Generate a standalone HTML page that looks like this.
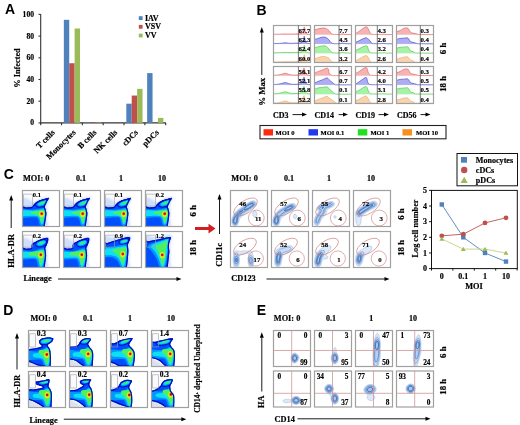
<!DOCTYPE html>
<html><head><meta charset="utf-8"><style>
html,body{margin:0;padding:0;background:#fff;width:520px;height:425px;overflow:hidden}
svg{display:block;will-change:transform}
</style></head><body>
<svg width="520" height="425" viewBox="0 0 520 425">
<defs>
<filter id="bl" x="-20%" y="-20%" width="140%" height="140%"><feGaussianBlur stdDeviation="0.6"/></filter>
<filter id="bl2" x="-20%" y="-20%" width="140%" height="140%"><feGaussianBlur stdDeviation="1.0"/></filter>
<filter id="bl3" x="-20%" y="-20%" width="140%" height="140%"><feGaussianBlur stdDeviation="0.7"/></filter>
<filter id="bl5" x="-30%" y="-30%" width="160%" height="160%"><feGaussianBlur stdDeviation="1.3"/></filter>
<filter id="bl4" x="-20%" y="-20%" width="140%" height="140%"><feGaussianBlur stdDeviation="0.35"/></filter>
</defs>
<rect width="520" height="425" fill="#fff"/>
<text x="4.9" y="13.9" font-size="14" text-anchor="start" style="font-family:'Liberation Sans',sans-serif;font-weight:bold" fill="#000">A</text>
<line x1="40.7" y1="14" x2="40.7" y2="123.5" stroke="#333" stroke-width="1.1"/>
<line x1="38.5" y1="122.9" x2="40.7" y2="122.9" stroke="#333" stroke-width="1.1"/>
<text x="34.0" y="125.4" font-size="7.6" text-anchor="end" style="font-family:'Liberation Serif',serif;font-weight:bold" fill="#000" stroke="#000" stroke-width="0.18">0</text>
<line x1="38.5" y1="101.2" x2="40.7" y2="101.2" stroke="#333" stroke-width="1.1"/>
<text x="34.0" y="103.7" font-size="7.6" text-anchor="end" style="font-family:'Liberation Serif',serif;font-weight:bold" fill="#000" stroke="#000" stroke-width="0.18">20</text>
<line x1="38.5" y1="79.5" x2="40.7" y2="79.5" stroke="#333" stroke-width="1.1"/>
<text x="34.0" y="82.0" font-size="7.6" text-anchor="end" style="font-family:'Liberation Serif',serif;font-weight:bold" fill="#000" stroke="#000" stroke-width="0.18">40</text>
<line x1="38.5" y1="57.80000000000001" x2="40.7" y2="57.80000000000001" stroke="#333" stroke-width="1.1"/>
<text x="34.0" y="60.30000000000001" font-size="7.6" text-anchor="end" style="font-family:'Liberation Serif',serif;font-weight:bold" fill="#000" stroke="#000" stroke-width="0.18">60</text>
<line x1="38.5" y1="36.10000000000001" x2="40.7" y2="36.10000000000001" stroke="#333" stroke-width="1.1"/>
<text x="34.0" y="38.60000000000001" font-size="7.6" text-anchor="end" style="font-family:'Liberation Serif',serif;font-weight:bold" fill="#000" stroke="#000" stroke-width="0.18">80</text>
<line x1="38.5" y1="14.400000000000006" x2="40.7" y2="14.400000000000006" stroke="#333" stroke-width="1.1"/>
<text x="34.0" y="16.900000000000006" font-size="7.6" text-anchor="end" style="font-family:'Liberation Serif',serif;font-weight:bold" fill="#000" stroke="#000" stroke-width="0.18">100</text>
<text x="19.5" y="68" font-size="8.3" text-anchor="middle" style="font-family:'Liberation Serif',serif;font-weight:bold" fill="#000" stroke="#000" stroke-width="0.18" transform="rotate(-90 19.5 68)">% Infected</text>
<line x1="40.2" y1="122.9" x2="166" y2="122.9" stroke="#333" stroke-width="1.2"/>
<line x1="40.7" y1="122.9" x2="40.7" y2="125.2" stroke="#333" stroke-width="1.1"/>
<line x1="61.53" y1="122.9" x2="61.53" y2="125.2" stroke="#333" stroke-width="1.1"/>
<line x1="82.36" y1="122.9" x2="82.36" y2="125.2" stroke="#333" stroke-width="1.1"/>
<line x1="103.19" y1="122.9" x2="103.19" y2="125.2" stroke="#333" stroke-width="1.1"/>
<line x1="124.02" y1="122.9" x2="124.02" y2="125.2" stroke="#333" stroke-width="1.1"/>
<line x1="144.85" y1="122.9" x2="144.85" y2="125.2" stroke="#333" stroke-width="1.1"/>
<line x1="165.68" y1="122.9" x2="165.68" y2="125.2" stroke="#333" stroke-width="1.1"/>
<rect x="63.83" y="19.825000000000003" width="5.4" height="103.075" fill="#4f81bd" stroke="none" stroke-width="1"/>
<rect x="69.23" y="63.22500000000001" width="5.4" height="59.675" fill="#c0504d" stroke="none" stroke-width="1"/>
<rect x="74.63" y="28.50500000000001" width="5.4" height="94.395" fill="#9bbb59" stroke="none" stroke-width="1"/>
<rect x="84.66" y="122.1405" width="5.4" height="0.7595" fill="#4f81bd" stroke="none" stroke-width="1"/>
<rect x="90.06" y="122.46600000000001" width="5.4" height="0.434" fill="#c0504d" stroke="none" stroke-width="1"/>
<rect x="95.46" y="122.46600000000001" width="5.4" height="0.434" fill="#9bbb59" stroke="none" stroke-width="1"/>
<rect x="126.32" y="103.69550000000001" width="5.4" height="19.2045" fill="#4f81bd" stroke="none" stroke-width="1"/>
<rect x="131.72" y="95.558" width="5.4" height="27.342" fill="#c0504d" stroke="none" stroke-width="1"/>
<rect x="137.12" y="88.83100000000002" width="5.4" height="34.068999999999996" fill="#9bbb59" stroke="none" stroke-width="1"/>
<rect x="147.15" y="73.0985" width="5.4" height="49.8015" fill="#4f81bd" stroke="none" stroke-width="1"/>
<rect x="157.95000000000002" y="117.909" width="5.4" height="4.991" fill="#9bbb59" stroke="none" stroke-width="1"/>
<text x="55.315000000000005" y="133.1" font-size="8.2" text-anchor="end" style="font-family:'Liberation Serif',serif;font-weight:bold" fill="#000" stroke="#000" stroke-width="0.18" transform="rotate(-45 55.315000000000005 133.1)">T cells</text>
<text x="76.145" y="133.1" font-size="8.2" text-anchor="end" style="font-family:'Liberation Serif',serif;font-weight:bold" fill="#000" stroke="#000" stroke-width="0.18" transform="rotate(-45 76.145 133.1)">Monocytes</text>
<text x="96.97500000000001" y="133.1" font-size="8.2" text-anchor="end" style="font-family:'Liberation Serif',serif;font-weight:bold" fill="#000" stroke="#000" stroke-width="0.18" transform="rotate(-45 96.97500000000001 133.1)">B cells</text>
<text x="117.80499999999999" y="133.1" font-size="8.2" text-anchor="end" style="font-family:'Liberation Serif',serif;font-weight:bold" fill="#000" stroke="#000" stroke-width="0.18" transform="rotate(-45 117.80499999999999 133.1)">NK cells</text>
<text x="138.635" y="133.1" font-size="8.2" text-anchor="end" style="font-family:'Liberation Serif',serif;font-weight:bold" fill="#000" stroke="#000" stroke-width="0.18" transform="rotate(-45 138.635 133.1)">cDCs</text>
<text x="159.46499999999997" y="133.1" font-size="8.2" text-anchor="end" style="font-family:'Liberation Serif',serif;font-weight:bold" fill="#000" stroke="#000" stroke-width="0.18" transform="rotate(-45 159.46499999999997 133.1)">pDCs</text>
<rect x="138.8" y="16.2" width="3.8" height="3.8" fill="#4f81bd" stroke="none" stroke-width="1"/>
<text x="145" y="20.7" font-size="8" text-anchor="start" style="font-family:'Liberation Serif',serif;font-weight:bold" fill="#000" stroke="#000" stroke-width="0.18">IAV</text>
<rect x="138.8" y="24.9" width="3.8" height="3.8" fill="#c0504d" stroke="none" stroke-width="1"/>
<text x="145" y="29.4" font-size="8" text-anchor="start" style="font-family:'Liberation Serif',serif;font-weight:bold" fill="#000" stroke="#000" stroke-width="0.18">VSV</text>
<rect x="138.8" y="33.599999999999994" width="3.8" height="3.8" fill="#9bbb59" stroke="none" stroke-width="1"/>
<text x="145" y="38.099999999999994" font-size="8" text-anchor="start" style="font-family:'Liberation Serif',serif;font-weight:bold" fill="#000" stroke="#000" stroke-width="0.18">VV</text>
<text x="256.5" y="14.8" font-size="14" text-anchor="start" style="font-family:'Liberation Sans',sans-serif;font-weight:bold" fill="#000">B</text>
<line x1="261.8" y1="32.0" x2="261.8" y2="75" stroke="#000" stroke-width="0.9"/>
<path d="M261.8,27 L259.8,32.5 L263.8,32.5 Z" fill="#000"/>
<text x="264.6" y="91.8" font-size="8.8" text-anchor="middle" style="font-family:'Liberation Serif',serif;font-weight:bold" fill="#000" stroke="#000" stroke-width="0.18" transform="rotate(-90 264.6 91.8)">% Max</text>
<path d="M273.50,34.26 C274.50,34.24 277.50,34.23 279.50,34.17 C281.50,34.12 283.83,33.94 285.50,33.92 C287.17,33.91 287.83,34.09 289.50,34.09 C291.17,34.09 293.83,33.98 295.50,33.92 C297.17,33.87 298.42,33.90 299.50,33.76 C300.58,33.62 301.33,33.69 302.00,33.10 C302.67,32.51 303.12,31.24 303.50,30.21 C303.88,29.18 304.00,26.71 304.30,26.91 C304.60,27.12 304.93,30.31 305.30,31.45 C305.67,32.59 305.72,33.27 306.50,33.76 C307.28,34.25 309.42,34.31 310.00,34.42  L310.00,34.75 L273.50,34.75 Z" fill="#f4a0a0" fill-opacity="0.8"/>
<path d="M273.50,34.26 C274.50,34.24 277.50,34.23 279.50,34.17 C281.50,34.12 283.83,33.94 285.50,33.92 C287.17,33.91 287.83,34.09 289.50,34.09 C291.17,34.09 293.83,33.98 295.50,33.92 C297.17,33.87 298.42,33.90 299.50,33.76 C300.58,33.62 301.33,33.69 302.00,33.10 C302.67,32.51 303.12,31.24 303.50,30.21 C303.88,29.18 304.00,26.71 304.30,26.91 C304.60,27.12 304.93,30.31 305.30,31.45 C305.67,32.59 305.72,33.27 306.50,33.76 C307.28,34.25 309.42,34.31 310.00,34.42 " fill="none" stroke="#e05050" stroke-width="0.6"/>
<path d="M273.50,43.51 C274.50,43.49 277.50,43.53 279.50,43.42 C281.50,43.31 283.83,42.86 285.50,42.84 C287.17,42.83 287.83,43.29 289.50,43.34 C291.17,43.40 293.83,43.23 295.50,43.17 C297.17,43.12 298.42,43.15 299.50,43.01 C300.58,42.87 301.33,42.94 302.00,42.35 C302.67,41.76 303.12,40.49 303.50,39.46 C303.88,38.43 304.00,35.96 304.30,36.16 C304.60,36.37 304.93,39.56 305.30,40.70 C305.67,41.84 305.72,42.52 306.50,43.01 C307.28,43.50 309.42,43.56 310.00,43.67  L310.00,44.00 L273.50,44.00 Z" fill="#9898f0" fill-opacity="0.8"/>
<path d="M273.50,43.51 C274.50,43.49 277.50,43.53 279.50,43.42 C281.50,43.31 283.83,42.86 285.50,42.84 C287.17,42.83 287.83,43.29 289.50,43.34 C291.17,43.40 293.83,43.23 295.50,43.17 C297.17,43.12 298.42,43.15 299.50,43.01 C300.58,42.87 301.33,42.94 302.00,42.35 C302.67,41.76 303.12,40.49 303.50,39.46 C303.88,38.43 304.00,35.96 304.30,36.16 C304.60,36.37 304.93,39.56 305.30,40.70 C305.67,41.84 305.72,42.52 306.50,43.01 C307.28,43.50 309.42,43.56 310.00,43.67 " fill="none" stroke="#3838c8" stroke-width="0.6"/>
<path d="M273.50,52.76 C274.50,52.74 277.50,52.73 279.50,52.67 C281.50,52.62 283.83,52.44 285.50,52.42 C287.17,52.41 287.83,52.59 289.50,52.59 C291.17,52.59 293.83,52.48 295.50,52.42 C297.17,52.37 298.42,52.40 299.50,52.26 C300.58,52.12 301.33,52.19 302.00,51.60 C302.67,51.01 303.12,49.74 303.50,48.71 C303.88,47.68 304.00,45.21 304.30,45.41 C304.60,45.62 304.93,48.81 305.30,49.95 C305.67,51.09 305.72,51.77 306.50,52.26 C307.28,52.75 309.42,52.81 310.00,52.92  L310.00,53.25 L273.50,53.25 Z" fill="#90f090" fill-opacity="0.8"/>
<path d="M273.50,52.76 C274.50,52.74 277.50,52.73 279.50,52.67 C281.50,52.62 283.83,52.44 285.50,52.42 C287.17,52.41 287.83,52.59 289.50,52.59 C291.17,52.59 293.83,52.48 295.50,52.42 C297.17,52.37 298.42,52.40 299.50,52.26 C300.58,52.12 301.33,52.19 302.00,51.60 C302.67,51.01 303.12,49.74 303.50,48.71 C303.88,47.68 304.00,45.21 304.30,45.41 C304.60,45.62 304.93,48.81 305.30,49.95 C305.67,51.09 305.72,51.77 306.50,52.26 C307.28,52.75 309.42,52.81 310.00,52.92 " fill="none" stroke="#40c040" stroke-width="0.6"/>
<path d="M273.50,62.01 C274.50,61.99 277.50,61.98 279.50,61.92 C281.50,61.87 283.83,61.69 285.50,61.67 C287.17,61.66 287.83,61.84 289.50,61.84 C291.17,61.84 293.83,61.73 295.50,61.67 C297.17,61.62 298.42,61.65 299.50,61.51 C300.58,61.37 301.33,61.44 302.00,60.85 C302.67,60.26 303.12,58.99 303.50,57.96 C303.88,56.93 304.00,54.46 304.30,54.66 C304.60,54.87 304.93,58.06 305.30,59.20 C305.67,60.34 305.72,61.02 306.50,61.51 C307.28,62.00 309.42,62.06 310.00,62.17  L310.00,62.50 L273.50,62.50 Z" fill="#f8c898" fill-opacity="0.8"/>
<path d="M273.50,62.01 C274.50,61.99 277.50,61.98 279.50,61.92 C281.50,61.87 283.83,61.69 285.50,61.67 C287.17,61.66 287.83,61.84 289.50,61.84 C291.17,61.84 293.83,61.73 295.50,61.67 C297.17,61.62 298.42,61.65 299.50,61.51 C300.58,61.37 301.33,61.44 302.00,60.85 C302.67,60.26 303.12,58.99 303.50,57.96 C303.88,56.93 304.00,54.46 304.30,54.66 C304.60,54.87 304.93,58.06 305.30,59.20 C305.67,60.34 305.72,61.02 306.50,61.51 C307.28,62.00 309.42,62.06 310.00,62.17 " fill="none" stroke="#e8a060" stroke-width="0.6"/>
<line x1="273.5" y1="34.75" x2="298.4" y2="34.75" stroke="#ddd" stroke-width="0.3"/>
<line x1="273.5" y1="44.0" x2="298.4" y2="44.0" stroke="#ddd" stroke-width="0.3"/>
<line x1="273.5" y1="53.25" x2="298.4" y2="53.25" stroke="#ddd" stroke-width="0.3"/>
<text x="298.5" y="32.75" font-size="6.8" text-anchor="start" style="font-family:'Liberation Serif',serif;font-weight:bold" fill="#000" stroke="#000" stroke-width="0.18">67.7</text>
<text x="298.5" y="42.0" font-size="6.8" text-anchor="start" style="font-family:'Liberation Serif',serif;font-weight:bold" fill="#000" stroke="#000" stroke-width="0.18">62.3</text>
<text x="298.5" y="51.25" font-size="6.8" text-anchor="start" style="font-family:'Liberation Serif',serif;font-weight:bold" fill="#000" stroke="#000" stroke-width="0.18">62.4</text>
<text x="298.5" y="60.5" font-size="6.8" text-anchor="start" style="font-family:'Liberation Serif',serif;font-weight:bold" fill="#000" stroke="#000" stroke-width="0.18">60.0</text>
<rect x="273.5" y="25.5" width="37" height="37" fill="none" stroke="#a0a0a0" stroke-width="1.2"/>
<line x1="298.4" y1="25.5" x2="298.4" y2="62.5" stroke="#555" stroke-width="0.8"/>
<path d="M273.50,75.25 C274.33,75.20 277.00,75.14 278.50,74.92 C280.00,74.70 281.33,74.21 282.50,73.94 C283.67,73.66 284.50,73.22 285.50,73.28 C286.50,73.33 287.33,73.96 288.50,74.27 C289.67,74.57 291.00,74.98 292.50,75.09 C294.00,75.20 296.17,75.02 297.50,74.92 C298.83,74.83 299.67,74.99 300.50,74.51 C301.33,74.03 301.92,73.14 302.50,72.04 C303.08,70.94 303.53,67.84 304.00,67.91 C304.47,67.98 304.80,71.28 305.30,72.45 C305.80,73.62 306.22,74.43 307.00,74.92 C307.78,75.42 309.50,75.34 310.00,75.42  L310.00,75.75 L273.50,75.75 Z" fill="#f4a0a0" fill-opacity="0.8"/>
<path d="M273.50,75.25 C274.33,75.20 277.00,75.14 278.50,74.92 C280.00,74.70 281.33,74.21 282.50,73.94 C283.67,73.66 284.50,73.22 285.50,73.28 C286.50,73.33 287.33,73.96 288.50,74.27 C289.67,74.57 291.00,74.98 292.50,75.09 C294.00,75.20 296.17,75.02 297.50,74.92 C298.83,74.83 299.67,74.99 300.50,74.51 C301.33,74.03 301.92,73.14 302.50,72.04 C303.08,70.94 303.53,67.84 304.00,67.91 C304.47,67.98 304.80,71.28 305.30,72.45 C305.80,73.62 306.22,74.43 307.00,74.92 C307.78,75.42 309.50,75.34 310.00,75.42 " fill="none" stroke="#e05050" stroke-width="0.6"/>
<path d="M273.50,84.50 C274.33,84.45 277.00,84.39 278.50,84.17 C280.00,83.95 281.33,83.46 282.50,83.19 C283.67,82.91 284.50,82.47 285.50,82.53 C286.50,82.58 287.33,83.21 288.50,83.52 C289.67,83.82 291.00,84.23 292.50,84.34 C294.00,84.45 296.17,84.27 297.50,84.17 C298.83,84.08 299.67,84.24 300.50,83.76 C301.33,83.28 301.92,82.39 302.50,81.29 C303.08,80.19 303.53,77.09 304.00,77.16 C304.47,77.23 304.80,80.53 305.30,81.70 C305.80,82.87 306.22,83.68 307.00,84.17 C307.78,84.67 309.50,84.59 310.00,84.67  L310.00,85.00 L273.50,85.00 Z" fill="#9898f0" fill-opacity="0.8"/>
<path d="M273.50,84.50 C274.33,84.45 277.00,84.39 278.50,84.17 C280.00,83.95 281.33,83.46 282.50,83.19 C283.67,82.91 284.50,82.47 285.50,82.53 C286.50,82.58 287.33,83.21 288.50,83.52 C289.67,83.82 291.00,84.23 292.50,84.34 C294.00,84.45 296.17,84.27 297.50,84.17 C298.83,84.08 299.67,84.24 300.50,83.76 C301.33,83.28 301.92,82.39 302.50,81.29 C303.08,80.19 303.53,77.09 304.00,77.16 C304.47,77.23 304.80,80.53 305.30,81.70 C305.80,82.87 306.22,83.68 307.00,84.17 C307.78,84.67 309.50,84.59 310.00,84.67 " fill="none" stroke="#3838c8" stroke-width="0.6"/>
<path d="M273.50,93.75 C274.33,93.70 277.00,93.64 278.50,93.42 C280.00,93.20 281.33,92.71 282.50,92.44 C283.67,92.16 284.50,91.72 285.50,91.78 C286.50,91.83 287.33,92.46 288.50,92.77 C289.67,93.07 291.00,93.48 292.50,93.59 C294.00,93.70 296.17,93.52 297.50,93.42 C298.83,93.33 299.67,93.49 300.50,93.01 C301.33,92.53 301.92,91.64 302.50,90.54 C303.08,89.44 303.53,86.34 304.00,86.41 C304.47,86.48 304.80,89.78 305.30,90.95 C305.80,92.12 306.22,92.93 307.00,93.42 C307.78,93.92 309.50,93.84 310.00,93.92  L310.00,94.25 L273.50,94.25 Z" fill="#90f090" fill-opacity="0.8"/>
<path d="M273.50,93.75 C274.33,93.70 277.00,93.64 278.50,93.42 C280.00,93.20 281.33,92.71 282.50,92.44 C283.67,92.16 284.50,91.72 285.50,91.78 C286.50,91.83 287.33,92.46 288.50,92.77 C289.67,93.07 291.00,93.48 292.50,93.59 C294.00,93.70 296.17,93.52 297.50,93.42 C298.83,93.33 299.67,93.49 300.50,93.01 C301.33,92.53 301.92,91.64 302.50,90.54 C303.08,89.44 303.53,86.34 304.00,86.41 C304.47,86.48 304.80,89.78 305.30,90.95 C305.80,92.12 306.22,92.93 307.00,93.42 C307.78,93.92 309.50,93.84 310.00,93.92 " fill="none" stroke="#40c040" stroke-width="0.6"/>
<path d="M273.50,103.00 C274.33,102.95 277.00,102.89 278.50,102.67 C280.00,102.45 281.33,101.96 282.50,101.69 C283.67,101.41 284.50,100.97 285.50,101.03 C286.50,101.08 287.33,101.71 288.50,102.02 C289.67,102.32 291.00,102.73 292.50,102.84 C294.00,102.95 296.17,102.77 297.50,102.67 C298.83,102.58 299.67,102.74 300.50,102.26 C301.33,101.78 301.92,100.89 302.50,99.79 C303.08,98.69 303.53,95.59 304.00,95.66 C304.47,95.73 304.80,99.03 305.30,100.20 C305.80,101.37 306.22,102.18 307.00,102.67 C307.78,103.17 309.50,103.09 310.00,103.17  L310.00,103.50 L273.50,103.50 Z" fill="#f8c898" fill-opacity="0.8"/>
<path d="M273.50,103.00 C274.33,102.95 277.00,102.89 278.50,102.67 C280.00,102.45 281.33,101.96 282.50,101.69 C283.67,101.41 284.50,100.97 285.50,101.03 C286.50,101.08 287.33,101.71 288.50,102.02 C289.67,102.32 291.00,102.73 292.50,102.84 C294.00,102.95 296.17,102.77 297.50,102.67 C298.83,102.58 299.67,102.74 300.50,102.26 C301.33,101.78 301.92,100.89 302.50,99.79 C303.08,98.69 303.53,95.59 304.00,95.66 C304.47,95.73 304.80,99.03 305.30,100.20 C305.80,101.37 306.22,102.18 307.00,102.67 C307.78,103.17 309.50,103.09 310.00,103.17 " fill="none" stroke="#e8a060" stroke-width="0.6"/>
<line x1="273.5" y1="75.75" x2="298.4" y2="75.75" stroke="#ddd" stroke-width="0.3"/>
<line x1="273.5" y1="85.0" x2="298.4" y2="85.0" stroke="#ddd" stroke-width="0.3"/>
<line x1="273.5" y1="94.25" x2="298.4" y2="94.25" stroke="#ddd" stroke-width="0.3"/>
<text x="298.5" y="73.75" font-size="6.8" text-anchor="start" style="font-family:'Liberation Serif',serif;font-weight:bold" fill="#000" stroke="#000" stroke-width="0.18">56.1</text>
<text x="298.5" y="83.0" font-size="6.8" text-anchor="start" style="font-family:'Liberation Serif',serif;font-weight:bold" fill="#000" stroke="#000" stroke-width="0.18">52.1</text>
<text x="298.5" y="92.25" font-size="6.8" text-anchor="start" style="font-family:'Liberation Serif',serif;font-weight:bold" fill="#000" stroke="#000" stroke-width="0.18">55.8</text>
<text x="298.5" y="101.5" font-size="6.8" text-anchor="start" style="font-family:'Liberation Serif',serif;font-weight:bold" fill="#000" stroke="#000" stroke-width="0.18">52.2</text>
<rect x="273.5" y="66.5" width="37" height="37" fill="none" stroke="#a0a0a0" stroke-width="1.2"/>
<line x1="298.4" y1="66.5" x2="298.4" y2="103.5" stroke="#555" stroke-width="0.8"/>
<path d="M314.50,29.72 C315.00,29.61 316.42,29.29 317.50,29.06 C318.58,28.82 319.92,28.49 321.00,28.32 C322.08,28.14 323.08,27.93 324.00,27.98 C324.92,28.04 325.67,28.20 326.50,28.64 C327.33,29.09 328.25,29.86 329.00,30.62 C329.75,31.39 330.33,32.65 331.00,33.27 C331.67,33.88 332.08,34.13 333.00,34.34 C333.92,34.54 335.25,34.50 336.50,34.50 C337.75,34.50 339.50,34.46 340.50,34.34 C341.50,34.21 341.83,33.76 342.50,33.76 C343.17,33.76 343.08,34.20 344.50,34.34 C345.92,34.48 349.92,34.54 351.00,34.59  L351.00,34.75 L314.50,34.75 Z" fill="#f4a0a0" fill-opacity="0.8"/>
<path d="M314.50,29.72 C315.00,29.61 316.42,29.29 317.50,29.06 C318.58,28.82 319.92,28.49 321.00,28.32 C322.08,28.14 323.08,27.93 324.00,27.98 C324.92,28.04 325.67,28.20 326.50,28.64 C327.33,29.09 328.25,29.86 329.00,30.62 C329.75,31.39 330.33,32.65 331.00,33.27 C331.67,33.88 332.08,34.13 333.00,34.34 C333.92,34.54 335.25,34.50 336.50,34.50 C337.75,34.50 339.50,34.46 340.50,34.34 C341.50,34.21 341.83,33.76 342.50,33.76 C343.17,33.76 343.08,34.20 344.50,34.34 C345.92,34.48 349.92,34.54 351.00,34.59 " fill="none" stroke="#e05050" stroke-width="0.6"/>
<path d="M314.50,39.30 C315.00,39.19 316.42,38.95 317.50,38.64 C318.58,38.32 319.92,37.66 321.00,37.40 C322.08,37.14 323.08,37.02 324.00,37.07 C324.92,37.12 325.67,37.26 326.50,37.73 C327.33,38.20 328.25,39.08 329.00,39.88 C329.75,40.67 330.33,41.90 331.00,42.52 C331.67,43.13 332.08,43.38 333.00,43.59 C333.92,43.79 335.25,43.75 336.50,43.75 C337.75,43.75 339.50,43.71 340.50,43.59 C341.50,43.46 341.83,43.01 342.50,43.01 C343.17,43.01 343.08,43.45 344.50,43.59 C345.92,43.73 349.92,43.79 351.00,43.84  L351.00,44.00 L314.50,44.00 Z" fill="#9898f0" fill-opacity="0.8"/>
<path d="M314.50,39.30 C315.00,39.19 316.42,38.95 317.50,38.64 C318.58,38.32 319.92,37.66 321.00,37.40 C322.08,37.14 323.08,37.02 324.00,37.07 C324.92,37.12 325.67,37.26 326.50,37.73 C327.33,38.20 328.25,39.08 329.00,39.88 C329.75,40.67 330.33,41.90 331.00,42.52 C331.67,43.13 332.08,43.38 333.00,43.59 C333.92,43.79 335.25,43.75 336.50,43.75 C337.75,43.75 339.50,43.71 340.50,43.59 C341.50,43.46 341.83,43.01 342.50,43.01 C343.17,43.01 343.08,43.45 344.50,43.59 C345.92,43.73 349.92,43.79 351.00,43.84 " fill="none" stroke="#3838c8" stroke-width="0.6"/>
<path d="M314.50,47.64 C315.00,47.53 316.42,47.23 317.50,46.98 C318.58,46.73 319.92,46.35 321.00,46.16 C322.08,45.96 323.08,45.77 324.00,45.83 C324.92,45.88 325.67,45.94 326.50,46.48 C327.33,47.03 328.25,48.24 329.00,49.12 C329.75,50.01 330.33,51.15 331.00,51.77 C331.67,52.38 332.08,52.63 333.00,52.84 C333.92,53.04 335.25,53.00 336.50,53.00 C337.75,53.00 339.50,52.96 340.50,52.84 C341.50,52.71 341.83,52.26 342.50,52.26 C343.17,52.26 343.08,52.70 344.50,52.84 C345.92,52.98 349.92,53.04 351.00,53.09  L351.00,53.25 L314.50,53.25 Z" fill="#90f090" fill-opacity="0.8"/>
<path d="M314.50,47.64 C315.00,47.53 316.42,47.23 317.50,46.98 C318.58,46.73 319.92,46.35 321.00,46.16 C322.08,45.96 323.08,45.77 324.00,45.83 C324.92,45.88 325.67,45.94 326.50,46.48 C327.33,47.03 328.25,48.24 329.00,49.12 C329.75,50.01 330.33,51.15 331.00,51.77 C331.67,52.38 332.08,52.63 333.00,52.84 C333.92,53.04 335.25,53.00 336.50,53.00 C337.75,53.00 339.50,52.96 340.50,52.84 C341.50,52.71 341.83,52.26 342.50,52.26 C343.17,52.26 343.08,52.70 344.50,52.84 C345.92,52.98 349.92,53.04 351.00,53.09 " fill="none" stroke="#40c040" stroke-width="0.6"/>
<path d="M314.50,58.54 C315.00,58.43 316.42,58.18 317.50,57.88 C318.58,57.58 319.92,56.97 321.00,56.73 C322.08,56.48 323.08,56.34 324.00,56.40 C324.92,56.45 325.67,56.73 326.50,57.05 C327.33,57.38 328.25,57.72 329.00,58.38 C329.75,59.03 330.33,60.40 331.00,61.02 C331.67,61.63 332.08,61.88 333.00,62.09 C333.92,62.29 335.25,62.25 336.50,62.25 C337.75,62.25 339.50,62.21 340.50,62.09 C341.50,61.96 341.83,61.51 342.50,61.51 C343.17,61.51 343.08,61.95 344.50,62.09 C345.92,62.23 349.92,62.29 351.00,62.34  L351.00,62.50 L314.50,62.50 Z" fill="#f8c898" fill-opacity="0.8"/>
<path d="M314.50,58.54 C315.00,58.43 316.42,58.18 317.50,57.88 C318.58,57.58 319.92,56.97 321.00,56.73 C322.08,56.48 323.08,56.34 324.00,56.40 C324.92,56.45 325.67,56.73 326.50,57.05 C327.33,57.38 328.25,57.72 329.00,58.38 C329.75,59.03 330.33,60.40 331.00,61.02 C331.67,61.63 332.08,61.88 333.00,62.09 C333.92,62.29 335.25,62.25 336.50,62.25 C337.75,62.25 339.50,62.21 340.50,62.09 C341.50,61.96 341.83,61.51 342.50,61.51 C343.17,61.51 343.08,61.95 344.50,62.09 C345.92,62.23 349.92,62.29 351.00,62.34 " fill="none" stroke="#e8a060" stroke-width="0.6"/>
<line x1="314.5" y1="34.75" x2="339.0" y2="34.75" stroke="#ddd" stroke-width="0.3"/>
<line x1="314.5" y1="44.0" x2="339.0" y2="44.0" stroke="#ddd" stroke-width="0.3"/>
<line x1="314.5" y1="53.25" x2="339.0" y2="53.25" stroke="#ddd" stroke-width="0.3"/>
<text x="339.1" y="32.75" font-size="6.8" text-anchor="start" style="font-family:'Liberation Serif',serif;font-weight:bold" fill="#000" stroke="#000" stroke-width="0.18">7.7</text>
<text x="339.1" y="42.0" font-size="6.8" text-anchor="start" style="font-family:'Liberation Serif',serif;font-weight:bold" fill="#000" stroke="#000" stroke-width="0.18">4.5</text>
<text x="339.1" y="51.25" font-size="6.8" text-anchor="start" style="font-family:'Liberation Serif',serif;font-weight:bold" fill="#000" stroke="#000" stroke-width="0.18">3.6</text>
<text x="339.1" y="60.5" font-size="6.8" text-anchor="start" style="font-family:'Liberation Serif',serif;font-weight:bold" fill="#000" stroke="#000" stroke-width="0.18">3.2</text>
<rect x="314.5" y="25.5" width="37" height="37" fill="none" stroke="#a0a0a0" stroke-width="1.2"/>
<line x1="339.0" y1="25.5" x2="339.0" y2="62.5" stroke="#555" stroke-width="0.8"/>
<path d="M314.50,73.03 C315.17,72.75 317.17,71.89 318.50,71.38 C319.83,70.86 321.12,70.47 322.50,69.93 C323.88,69.40 325.80,68.25 326.80,68.16 C327.80,68.07 328.10,68.54 328.50,69.40 C328.90,70.25 328.58,72.27 329.20,73.28 C329.82,74.28 331.20,75.03 332.20,75.42 C333.20,75.81 332.07,75.54 335.20,75.58 C338.33,75.63 348.37,75.65 351.00,75.67  L351.00,75.75 L314.50,75.75 Z" fill="#f4a0a0" fill-opacity="0.8"/>
<path d="M314.50,73.03 C315.17,72.75 317.17,71.89 318.50,71.38 C319.83,70.86 321.12,70.47 322.50,69.93 C323.88,69.40 325.80,68.25 326.80,68.16 C327.80,68.07 328.10,68.54 328.50,69.40 C328.90,70.25 328.58,72.27 329.20,73.28 C329.82,74.28 331.20,75.03 332.20,75.42 C333.20,75.81 332.07,75.54 335.20,75.58 C338.33,75.63 348.37,75.65 351.00,75.67 " fill="none" stroke="#e05050" stroke-width="0.6"/>
<path d="M314.50,82.94 C315.17,82.66 317.17,81.82 318.50,81.29 C319.83,80.76 321.12,80.33 322.50,79.76 C323.88,79.20 325.80,78.01 326.80,77.91 C327.80,77.80 327.58,78.37 328.50,79.14 C329.42,79.91 331.17,81.60 332.30,82.53 C333.43,83.45 334.30,84.28 335.30,84.67 C336.30,85.06 335.68,84.79 338.30,84.83 C340.92,84.88 348.88,84.90 351.00,84.92  L351.00,85.00 L314.50,85.00 Z" fill="#9898f0" fill-opacity="0.8"/>
<path d="M314.50,82.94 C315.17,82.66 317.17,81.82 318.50,81.29 C319.83,80.76 321.12,80.33 322.50,79.76 C323.88,79.20 325.80,78.01 326.80,77.91 C327.80,77.80 327.58,78.37 328.50,79.14 C329.42,79.91 331.17,81.60 332.30,82.53 C333.43,83.45 334.30,84.28 335.30,84.67 C336.30,85.06 335.68,84.79 338.30,84.83 C340.92,84.88 348.88,84.90 351.00,84.92 " fill="none" stroke="#3838c8" stroke-width="0.6"/>
<path d="M314.50,89.47 C315.17,89.19 317.17,88.14 318.50,87.81 C319.83,87.48 321.12,87.65 322.50,87.48 C323.88,87.32 325.80,86.73 326.80,86.83 C327.80,86.92 327.58,87.24 328.50,88.06 C329.42,88.89 331.17,90.80 332.30,91.78 C333.43,92.75 334.30,93.53 335.30,93.92 C336.30,94.31 335.68,94.04 338.30,94.08 C340.92,94.13 348.88,94.15 351.00,94.17  L351.00,94.25 L314.50,94.25 Z" fill="#90f090" fill-opacity="0.8"/>
<path d="M314.50,89.47 C315.17,89.19 317.17,88.14 318.50,87.81 C319.83,87.48 321.12,87.65 322.50,87.48 C323.88,87.32 325.80,86.73 326.80,86.83 C327.80,86.92 327.58,87.24 328.50,88.06 C329.42,88.89 331.17,90.80 332.30,91.78 C333.43,92.75 334.30,93.53 335.30,93.92 C336.30,94.31 335.68,94.04 338.30,94.08 C340.92,94.13 348.88,94.15 351.00,94.17 " fill="none" stroke="#40c040" stroke-width="0.6"/>
<path d="M314.50,101.03 C315.17,100.75 317.17,99.88 318.50,99.38 C319.83,98.87 321.12,98.50 322.50,97.97 C323.88,97.45 325.80,96.32 326.80,96.24 C327.80,96.16 327.38,96.68 328.50,97.48 C329.62,98.28 332.17,100.08 333.50,101.03 C334.83,101.97 335.50,102.78 336.50,103.17 C337.50,103.56 337.08,103.29 339.50,103.33 C341.92,103.38 349.08,103.40 351.00,103.42  L351.00,103.50 L314.50,103.50 Z" fill="#f8c898" fill-opacity="0.8"/>
<path d="M314.50,101.03 C315.17,100.75 317.17,99.88 318.50,99.38 C319.83,98.87 321.12,98.50 322.50,97.97 C323.88,97.45 325.80,96.32 326.80,96.24 C327.80,96.16 327.38,96.68 328.50,97.48 C329.62,98.28 332.17,100.08 333.50,101.03 C334.83,101.97 335.50,102.78 336.50,103.17 C337.50,103.56 337.08,103.29 339.50,103.33 C341.92,103.38 349.08,103.40 351.00,103.42 " fill="none" stroke="#e8a060" stroke-width="0.6"/>
<line x1="314.5" y1="75.75" x2="339.0" y2="75.75" stroke="#ddd" stroke-width="0.3"/>
<line x1="314.5" y1="85.0" x2="339.0" y2="85.0" stroke="#ddd" stroke-width="0.3"/>
<line x1="314.5" y1="94.25" x2="339.0" y2="94.25" stroke="#ddd" stroke-width="0.3"/>
<text x="339.1" y="73.75" font-size="6.8" text-anchor="start" style="font-family:'Liberation Serif',serif;font-weight:bold" fill="#000" stroke="#000" stroke-width="0.18">6.7</text>
<text x="339.1" y="83.0" font-size="6.8" text-anchor="start" style="font-family:'Liberation Serif',serif;font-weight:bold" fill="#000" stroke="#000" stroke-width="0.18">0.7</text>
<text x="339.1" y="92.25" font-size="6.8" text-anchor="start" style="font-family:'Liberation Serif',serif;font-weight:bold" fill="#000" stroke="#000" stroke-width="0.18">0.1</text>
<text x="339.1" y="101.5" font-size="6.8" text-anchor="start" style="font-family:'Liberation Serif',serif;font-weight:bold" fill="#000" stroke="#000" stroke-width="0.18">0.1</text>
<rect x="314.5" y="66.5" width="37" height="37" fill="none" stroke="#a0a0a0" stroke-width="1.2"/>
<line x1="339.0" y1="66.5" x2="339.0" y2="103.5" stroke="#555" stroke-width="0.8"/>
<path d="M355.50,33.76 C356.17,33.30 358.25,31.91 359.50,31.02 C360.75,30.13 361.93,29.10 363.00,28.42 C364.07,27.73 365.15,27.05 365.90,26.91 C366.65,26.77 366.90,26.82 367.50,27.57 C368.10,28.33 368.92,30.42 369.50,31.45 C370.08,32.48 370.42,33.27 371.00,33.76 C371.58,34.25 371.42,34.31 373.00,34.42 C374.58,34.53 378.75,34.46 380.50,34.42 C382.25,34.38 382.50,34.16 383.50,34.17 C384.50,34.19 385.08,34.43 386.50,34.50 C387.92,34.57 391.08,34.57 392.00,34.59  L392.00,34.75 L355.50,34.75 Z" fill="#f4a0a0" fill-opacity="0.8"/>
<path d="M355.50,33.76 C356.17,33.30 358.25,31.91 359.50,31.02 C360.75,30.13 361.93,29.10 363.00,28.42 C364.07,27.73 365.15,27.05 365.90,26.91 C366.65,26.77 366.90,26.82 367.50,27.57 C368.10,28.33 368.92,30.42 369.50,31.45 C370.08,32.48 370.42,33.27 371.00,33.76 C371.58,34.25 371.42,34.31 373.00,34.42 C374.58,34.53 378.75,34.46 380.50,34.42 C382.25,34.38 382.50,34.16 383.50,34.17 C384.50,34.19 385.08,34.43 386.50,34.50 C387.92,34.57 391.08,34.57 392.00,34.59 " fill="none" stroke="#e05050" stroke-width="0.6"/>
<path d="M355.50,42.35 C356.17,42.05 358.25,41.12 359.50,40.53 C360.75,39.95 361.93,39.26 363.00,38.81 C364.07,38.36 365.15,37.87 365.90,37.81 C366.65,37.76 366.82,37.99 367.50,38.47 C368.18,38.95 369.33,39.94 370.00,40.70 C370.67,41.46 370.92,42.52 371.50,43.01 C372.08,43.50 372.00,43.56 373.50,43.67 C375.00,43.78 378.83,43.71 380.50,43.67 C382.17,43.63 382.50,43.41 383.50,43.42 C384.50,43.44 385.08,43.68 386.50,43.75 C387.92,43.82 391.08,43.82 392.00,43.84  L392.00,44.00 L355.50,44.00 Z" fill="#9898f0" fill-opacity="0.8"/>
<path d="M355.50,42.35 C356.17,42.05 358.25,41.12 359.50,40.53 C360.75,39.95 361.93,39.26 363.00,38.81 C364.07,38.36 365.15,37.87 365.90,37.81 C366.65,37.76 366.82,37.99 367.50,38.47 C368.18,38.95 369.33,39.94 370.00,40.70 C370.67,41.46 370.92,42.52 371.50,43.01 C372.08,43.50 372.00,43.56 373.50,43.67 C375.00,43.78 378.83,43.71 380.50,43.67 C382.17,43.63 382.50,43.41 383.50,43.42 C384.50,43.44 385.08,43.68 386.50,43.75 C387.92,43.82 391.08,43.82 392.00,43.84 " fill="none" stroke="#3838c8" stroke-width="0.6"/>
<path d="M355.50,50.36 C356.17,50.06 358.25,49.14 359.50,48.55 C360.75,47.96 361.93,47.28 363.00,46.82 C364.07,46.37 365.15,45.88 365.90,45.83 C366.65,45.77 367.07,45.80 367.50,46.48 C367.93,47.17 368.08,48.99 368.50,49.95 C368.92,50.91 369.42,51.77 370.00,52.26 C370.58,52.75 370.25,52.81 372.00,52.92 C373.75,53.03 378.58,52.96 380.50,52.92 C382.42,52.88 382.50,52.66 383.50,52.67 C384.50,52.69 385.08,52.93 386.50,53.00 C387.92,53.07 391.08,53.07 392.00,53.09  L392.00,53.25 L355.50,53.25 Z" fill="#90f090" fill-opacity="0.8"/>
<path d="M355.50,50.36 C356.17,50.06 358.25,49.14 359.50,48.55 C360.75,47.96 361.93,47.28 363.00,46.82 C364.07,46.37 365.15,45.88 365.90,45.83 C366.65,45.77 367.07,45.80 367.50,46.48 C367.93,47.17 368.08,48.99 368.50,49.95 C368.92,50.91 369.42,51.77 370.00,52.26 C370.58,52.75 370.25,52.81 372.00,52.92 C373.75,53.03 378.58,52.96 380.50,52.92 C382.42,52.88 382.50,52.66 383.50,52.67 C384.50,52.69 385.08,52.93 386.50,53.00 C387.92,53.07 391.08,53.07 392.00,53.09 " fill="none" stroke="#40c040" stroke-width="0.6"/>
<path d="M355.50,60.85 C356.17,60.50 358.25,59.42 359.50,58.74 C360.75,58.05 361.93,57.26 363.00,56.73 C364.07,56.20 365.15,55.65 365.90,55.57 C366.65,55.49 366.97,55.62 367.50,56.23 C368.03,56.83 368.58,58.32 369.10,59.20 C369.62,60.08 370.02,61.02 370.60,61.51 C371.18,62.00 370.95,62.06 372.60,62.17 C374.25,62.28 378.68,62.21 380.50,62.17 C382.32,62.13 382.50,61.91 383.50,61.92 C384.50,61.94 385.08,62.18 386.50,62.25 C387.92,62.32 391.08,62.32 392.00,62.34  L392.00,62.50 L355.50,62.50 Z" fill="#f8c898" fill-opacity="0.8"/>
<path d="M355.50,60.85 C356.17,60.50 358.25,59.42 359.50,58.74 C360.75,58.05 361.93,57.26 363.00,56.73 C364.07,56.20 365.15,55.65 365.90,55.57 C366.65,55.49 366.97,55.62 367.50,56.23 C368.03,56.83 368.58,58.32 369.10,59.20 C369.62,60.08 370.02,61.02 370.60,61.51 C371.18,62.00 370.95,62.06 372.60,62.17 C374.25,62.28 378.68,62.21 380.50,62.17 C382.32,62.13 382.50,61.91 383.50,61.92 C384.50,61.94 385.08,62.18 386.50,62.25 C387.92,62.32 391.08,62.32 392.00,62.34 " fill="none" stroke="#e8a060" stroke-width="0.6"/>
<line x1="355.5" y1="34.75" x2="377.3" y2="34.75" stroke="#ddd" stroke-width="0.3"/>
<line x1="355.5" y1="44.0" x2="377.3" y2="44.0" stroke="#ddd" stroke-width="0.3"/>
<line x1="355.5" y1="53.25" x2="377.3" y2="53.25" stroke="#ddd" stroke-width="0.3"/>
<text x="377.40000000000003" y="32.75" font-size="6.8" text-anchor="start" style="font-family:'Liberation Serif',serif;font-weight:bold" fill="#000" stroke="#000" stroke-width="0.18">4.3</text>
<text x="377.40000000000003" y="42.0" font-size="6.8" text-anchor="start" style="font-family:'Liberation Serif',serif;font-weight:bold" fill="#000" stroke="#000" stroke-width="0.18">2.6</text>
<text x="377.40000000000003" y="51.25" font-size="6.8" text-anchor="start" style="font-family:'Liberation Serif',serif;font-weight:bold" fill="#000" stroke="#000" stroke-width="0.18">3.2</text>
<text x="377.40000000000003" y="60.5" font-size="6.8" text-anchor="start" style="font-family:'Liberation Serif',serif;font-weight:bold" fill="#000" stroke="#000" stroke-width="0.18">2.6</text>
<rect x="355.5" y="25.5" width="37" height="37" fill="none" stroke="#a0a0a0" stroke-width="1.2"/>
<line x1="377.3" y1="25.5" x2="377.3" y2="62.5" stroke="#555" stroke-width="0.8"/>
<path d="M355.50,73.61 C356.17,73.20 358.25,71.96 359.50,71.16 C360.75,70.37 362.03,69.45 363.00,68.84 C363.97,68.23 364.65,67.61 365.30,67.50 C365.95,67.39 366.40,67.33 366.90,68.16 C367.40,68.98 367.82,71.35 368.30,72.45 C368.78,73.55 369.22,74.27 369.80,74.76 C370.38,75.26 370.02,75.31 371.80,75.42 C373.58,75.53 378.55,75.46 380.50,75.42 C382.45,75.38 382.50,75.16 383.50,75.17 C384.50,75.19 385.08,75.43 386.50,75.50 C387.92,75.57 391.08,75.57 392.00,75.58  L392.00,75.75 L355.50,75.75 Z" fill="#f4a0a0" fill-opacity="0.8"/>
<path d="M355.50,73.61 C356.17,73.20 358.25,71.96 359.50,71.16 C360.75,70.37 362.03,69.45 363.00,68.84 C363.97,68.23 364.65,67.61 365.30,67.50 C365.95,67.39 366.40,67.33 366.90,68.16 C367.40,68.98 367.82,71.35 368.30,72.45 C368.78,73.55 369.22,74.27 369.80,74.76 C370.38,75.26 370.02,75.31 371.80,75.42 C373.58,75.53 378.55,75.46 380.50,75.42 C382.45,75.38 382.50,75.16 383.50,75.17 C384.50,75.19 385.08,75.43 386.50,75.50 C387.92,75.57 391.08,75.57 392.00,75.58 " fill="none" stroke="#e05050" stroke-width="0.6"/>
<path d="M355.50,84.17 C356.17,83.73 358.25,82.39 359.50,81.53 C360.75,80.68 362.03,79.69 363.00,79.03 C363.97,78.37 364.65,77.71 365.30,77.58 C365.95,77.44 366.53,77.55 366.90,78.23 C367.27,78.92 367.15,80.74 367.50,81.70 C367.85,82.66 368.42,83.52 369.00,84.01 C369.58,84.51 369.08,84.56 371.00,84.67 C372.92,84.78 378.42,84.71 380.50,84.67 C382.58,84.63 382.50,84.41 383.50,84.42 C384.50,84.44 385.08,84.68 386.50,84.75 C387.92,84.82 391.08,84.82 392.00,84.83  L392.00,85.00 L355.50,85.00 Z" fill="#9898f0" fill-opacity="0.8"/>
<path d="M355.50,84.17 C356.17,83.73 358.25,82.39 359.50,81.53 C360.75,80.68 362.03,79.69 363.00,79.03 C363.97,78.37 364.65,77.71 365.30,77.58 C365.95,77.44 366.53,77.55 366.90,78.23 C367.27,78.92 367.15,80.74 367.50,81.70 C367.85,82.66 368.42,83.52 369.00,84.01 C369.58,84.51 369.08,84.56 371.00,84.67 C372.92,84.78 378.42,84.71 380.50,84.67 C382.58,84.63 382.50,84.41 383.50,84.42 C384.50,84.44 385.08,84.68 386.50,84.75 C387.92,84.82 391.08,84.82 392.00,84.83 " fill="none" stroke="#3838c8" stroke-width="0.6"/>
<path d="M355.50,92.19 C356.17,91.81 358.25,90.67 359.50,89.94 C360.75,89.21 362.03,88.37 363.00,87.81 C363.97,87.25 364.65,86.67 365.30,86.58 C365.95,86.48 366.40,86.51 366.90,87.24 C367.40,87.97 367.82,89.95 368.30,90.95 C368.78,91.95 369.22,92.77 369.80,93.26 C370.38,93.76 370.02,93.81 371.80,93.92 C373.58,94.03 378.55,93.96 380.50,93.92 C382.45,93.88 382.50,93.66 383.50,93.67 C384.50,93.69 385.08,93.93 386.50,94.00 C387.92,94.07 391.08,94.07 392.00,94.08  L392.00,94.25 L355.50,94.25 Z" fill="#90f090" fill-opacity="0.8"/>
<path d="M355.50,92.19 C356.17,91.81 358.25,90.67 359.50,89.94 C360.75,89.21 362.03,88.37 363.00,87.81 C363.97,87.25 364.65,86.67 365.30,86.58 C365.95,86.48 366.40,86.51 366.90,87.24 C367.40,87.97 367.82,89.95 368.30,90.95 C368.78,91.95 369.22,92.77 369.80,93.26 C370.38,93.76 370.02,93.81 371.80,93.92 C373.58,94.03 378.55,93.96 380.50,93.92 C382.45,93.88 382.50,93.66 383.50,93.67 C384.50,93.69 385.08,93.93 386.50,94.00 C387.92,94.07 391.08,94.07 392.00,94.08 " fill="none" stroke="#40c040" stroke-width="0.6"/>
<path d="M355.50,101.03 C356.17,100.70 358.25,99.69 359.50,99.05 C360.75,98.40 362.03,97.66 363.00,97.16 C363.97,96.67 364.65,96.15 365.30,96.08 C365.95,96.00 366.27,96.05 366.90,96.73 C367.53,97.42 368.48,99.24 369.10,100.20 C369.72,101.16 370.02,102.02 370.60,102.51 C371.18,103.01 370.95,103.06 372.60,103.17 C374.25,103.28 378.68,103.21 380.50,103.17 C382.32,103.13 382.50,102.91 383.50,102.92 C384.50,102.94 385.08,103.18 386.50,103.25 C387.92,103.32 391.08,103.32 392.00,103.33  L392.00,103.50 L355.50,103.50 Z" fill="#f8c898" fill-opacity="0.8"/>
<path d="M355.50,101.03 C356.17,100.70 358.25,99.69 359.50,99.05 C360.75,98.40 362.03,97.66 363.00,97.16 C363.97,96.67 364.65,96.15 365.30,96.08 C365.95,96.00 366.27,96.05 366.90,96.73 C367.53,97.42 368.48,99.24 369.10,100.20 C369.72,101.16 370.02,102.02 370.60,102.51 C371.18,103.01 370.95,103.06 372.60,103.17 C374.25,103.28 378.68,103.21 380.50,103.17 C382.32,103.13 382.50,102.91 383.50,102.92 C384.50,102.94 385.08,103.18 386.50,103.25 C387.92,103.32 391.08,103.32 392.00,103.33 " fill="none" stroke="#e8a060" stroke-width="0.6"/>
<line x1="355.5" y1="75.75" x2="377.3" y2="75.75" stroke="#ddd" stroke-width="0.3"/>
<line x1="355.5" y1="85.0" x2="377.3" y2="85.0" stroke="#ddd" stroke-width="0.3"/>
<line x1="355.5" y1="94.25" x2="377.3" y2="94.25" stroke="#ddd" stroke-width="0.3"/>
<text x="377.40000000000003" y="73.75" font-size="6.8" text-anchor="start" style="font-family:'Liberation Serif',serif;font-weight:bold" fill="#000" stroke="#000" stroke-width="0.18">4.2</text>
<text x="377.40000000000003" y="83.0" font-size="6.8" text-anchor="start" style="font-family:'Liberation Serif',serif;font-weight:bold" fill="#000" stroke="#000" stroke-width="0.18">4.0</text>
<text x="377.40000000000003" y="92.25" font-size="6.8" text-anchor="start" style="font-family:'Liberation Serif',serif;font-weight:bold" fill="#000" stroke="#000" stroke-width="0.18">3.1</text>
<text x="377.40000000000003" y="101.5" font-size="6.8" text-anchor="start" style="font-family:'Liberation Serif',serif;font-weight:bold" fill="#000" stroke="#000" stroke-width="0.18">2.8</text>
<rect x="355.5" y="66.5" width="37" height="37" fill="none" stroke="#a0a0a0" stroke-width="1.2"/>
<line x1="377.3" y1="66.5" x2="377.3" y2="103.5" stroke="#555" stroke-width="0.8"/>
<path d="M396.50,31.61 C397.08,31.45 398.83,31.16 400.00,30.62 C401.17,30.09 402.33,28.85 403.50,28.40 C404.67,27.94 406.17,27.82 407.00,27.90 C407.83,27.98 407.92,28.16 408.50,28.89 C409.08,29.62 409.75,31.57 410.50,32.27 C411.25,32.98 411.83,32.80 413.00,33.10 C414.17,33.40 416.42,33.86 417.50,34.09 C418.58,34.32 416.92,34.42 419.50,34.50 C422.08,34.58 430.75,34.57 433.00,34.59  L433.00,34.75 L396.50,34.75 Z" fill="#f4a0a0" fill-opacity="0.8"/>
<path d="M396.50,31.61 C397.08,31.45 398.83,31.16 400.00,30.62 C401.17,30.09 402.33,28.85 403.50,28.40 C404.67,27.94 406.17,27.82 407.00,27.90 C407.83,27.98 407.92,28.16 408.50,28.89 C409.08,29.62 409.75,31.57 410.50,32.27 C411.25,32.98 411.83,32.80 413.00,33.10 C414.17,33.40 416.42,33.86 417.50,34.09 C418.58,34.32 416.92,34.42 419.50,34.50 C422.08,34.58 430.75,34.57 433.00,34.59 " fill="none" stroke="#e05050" stroke-width="0.6"/>
<path d="M396.50,39.38 C397.08,39.22 398.83,38.58 400.00,38.39 C401.17,38.20 402.33,38.34 403.50,38.23 C404.67,38.12 406.17,37.65 407.00,37.73 C407.83,37.81 407.92,38.09 408.50,38.72 C409.08,39.35 409.75,40.92 410.50,41.52 C411.25,42.13 412.00,42.05 413.00,42.35 C414.00,42.65 415.58,43.11 416.50,43.34 C417.42,43.57 415.75,43.67 418.50,43.75 C421.25,43.83 430.58,43.82 433.00,43.84  L433.00,44.00 L396.50,44.00 Z" fill="#9898f0" fill-opacity="0.8"/>
<path d="M396.50,39.38 C397.08,39.22 398.83,38.58 400.00,38.39 C401.17,38.20 402.33,38.34 403.50,38.23 C404.67,38.12 406.17,37.65 407.00,37.73 C407.83,37.81 407.92,38.09 408.50,38.72 C409.08,39.35 409.75,40.92 410.50,41.52 C411.25,42.13 412.00,42.05 413.00,42.35 C414.00,42.65 415.58,43.11 416.50,43.34 C417.42,43.57 415.75,43.67 418.50,43.75 C421.25,43.83 430.58,43.82 433.00,43.84 " fill="none" stroke="#3838c8" stroke-width="0.6"/>
<path d="M396.50,48.30 C397.08,48.13 398.83,47.50 400.00,47.31 C401.17,47.12 402.33,47.26 403.50,47.15 C404.67,47.04 406.17,46.57 407.00,46.65 C407.83,46.73 407.92,46.95 408.50,47.64 C409.08,48.33 409.75,50.11 410.50,50.77 C411.25,51.44 412.33,51.30 413.00,51.60 C413.67,51.90 413.92,52.36 414.50,52.59 C415.08,52.82 413.42,52.92 416.50,53.00 C419.58,53.08 430.25,53.07 433.00,53.09  L433.00,53.25 L396.50,53.25 Z" fill="#90f090" fill-opacity="0.8"/>
<path d="M396.50,48.30 C397.08,48.13 398.83,47.50 400.00,47.31 C401.17,47.12 402.33,47.26 403.50,47.15 C404.67,47.04 406.17,46.57 407.00,46.65 C407.83,46.73 407.92,46.95 408.50,47.64 C409.08,48.33 409.75,50.11 410.50,50.77 C411.25,51.44 412.33,51.30 413.00,51.60 C413.67,51.90 413.92,52.36 414.50,52.59 C415.08,52.82 413.42,52.92 416.50,53.00 C419.58,53.08 430.25,53.07 433.00,53.09 " fill="none" stroke="#40c040" stroke-width="0.6"/>
<path d="M396.50,59.20 C397.08,59.04 398.83,58.54 400.00,58.21 C401.17,57.88 402.33,57.47 403.50,57.22 C404.67,56.97 406.17,56.64 407.00,56.73 C407.83,56.81 407.92,57.17 408.50,57.72 C409.08,58.27 409.75,59.50 410.50,60.02 C411.25,60.55 412.33,60.55 413.00,60.85 C413.67,61.15 413.92,61.61 414.50,61.84 C415.08,62.07 413.42,62.17 416.50,62.25 C419.58,62.33 430.25,62.32 433.00,62.34  L433.00,62.50 L396.50,62.50 Z" fill="#f8c898" fill-opacity="0.8"/>
<path d="M396.50,59.20 C397.08,59.04 398.83,58.54 400.00,58.21 C401.17,57.88 402.33,57.47 403.50,57.22 C404.67,56.97 406.17,56.64 407.00,56.73 C407.83,56.81 407.92,57.17 408.50,57.72 C409.08,58.27 409.75,59.50 410.50,60.02 C411.25,60.55 412.33,60.55 413.00,60.85 C413.67,61.15 413.92,61.61 414.50,61.84 C415.08,62.07 413.42,62.17 416.50,62.25 C419.58,62.33 430.25,62.32 433.00,62.34 " fill="none" stroke="#e8a060" stroke-width="0.6"/>
<line x1="396.5" y1="34.75" x2="420.3" y2="34.75" stroke="#ddd" stroke-width="0.3"/>
<line x1="396.5" y1="44.0" x2="420.3" y2="44.0" stroke="#ddd" stroke-width="0.3"/>
<line x1="396.5" y1="53.25" x2="420.3" y2="53.25" stroke="#ddd" stroke-width="0.3"/>
<text x="420.40000000000003" y="32.75" font-size="6.8" text-anchor="start" style="font-family:'Liberation Serif',serif;font-weight:bold" fill="#000" stroke="#000" stroke-width="0.18">0.3</text>
<text x="420.40000000000003" y="42.0" font-size="6.8" text-anchor="start" style="font-family:'Liberation Serif',serif;font-weight:bold" fill="#000" stroke="#000" stroke-width="0.18">0.4</text>
<text x="420.40000000000003" y="51.25" font-size="6.8" text-anchor="start" style="font-family:'Liberation Serif',serif;font-weight:bold" fill="#000" stroke="#000" stroke-width="0.18">0.4</text>
<text x="420.40000000000003" y="60.5" font-size="6.8" text-anchor="start" style="font-family:'Liberation Serif',serif;font-weight:bold" fill="#000" stroke="#000" stroke-width="0.18">0.4</text>
<rect x="396.5" y="25.5" width="37" height="37" fill="none" stroke="#a0a0a0" stroke-width="1.2"/>
<line x1="420.3" y1="25.5" x2="420.3" y2="62.5" stroke="#555" stroke-width="0.8"/>
<path d="M396.50,72.61 C397.08,72.45 398.83,72.16 400.00,71.62 C401.17,71.09 402.33,69.85 403.50,69.40 C404.67,68.94 406.17,68.82 407.00,68.90 C407.83,68.98 407.92,69.16 408.50,69.89 C409.08,70.62 409.75,72.57 410.50,73.28 C411.25,73.98 411.83,73.80 413.00,74.10 C414.17,74.40 416.42,74.86 417.50,75.09 C418.58,75.32 416.92,75.42 419.50,75.50 C422.08,75.58 430.75,75.57 433.00,75.58  L433.00,75.75 L396.50,75.75 Z" fill="#f4a0a0" fill-opacity="0.8"/>
<path d="M396.50,72.61 C397.08,72.45 398.83,72.16 400.00,71.62 C401.17,71.09 402.33,69.85 403.50,69.40 C404.67,68.94 406.17,68.82 407.00,68.90 C407.83,68.98 407.92,69.16 408.50,69.89 C409.08,70.62 409.75,72.57 410.50,73.28 C411.25,73.98 411.83,73.80 413.00,74.10 C414.17,74.40 416.42,74.86 417.50,75.09 C418.58,75.32 416.92,75.42 419.50,75.50 C422.08,75.58 430.75,75.57 433.00,75.58 " fill="none" stroke="#e05050" stroke-width="0.6"/>
<path d="M396.50,80.38 C397.08,80.22 398.83,79.58 400.00,79.39 C401.17,79.20 402.33,79.33 403.50,79.22 C404.67,79.11 406.17,78.65 407.00,78.73 C407.83,78.81 407.92,79.09 408.50,79.72 C409.08,80.35 409.75,81.92 410.50,82.53 C411.25,83.13 412.00,83.05 413.00,83.35 C414.00,83.65 415.58,84.11 416.50,84.34 C417.42,84.57 415.75,84.67 418.50,84.75 C421.25,84.83 430.58,84.82 433.00,84.83  L433.00,85.00 L396.50,85.00 Z" fill="#9898f0" fill-opacity="0.8"/>
<path d="M396.50,80.38 C397.08,80.22 398.83,79.58 400.00,79.39 C401.17,79.20 402.33,79.33 403.50,79.22 C404.67,79.11 406.17,78.65 407.00,78.73 C407.83,78.81 407.92,79.09 408.50,79.72 C409.08,80.35 409.75,81.92 410.50,82.53 C411.25,83.13 412.00,83.05 413.00,83.35 C414.00,83.65 415.58,84.11 416.50,84.34 C417.42,84.57 415.75,84.67 418.50,84.75 C421.25,84.83 430.58,84.82 433.00,84.83 " fill="none" stroke="#3838c8" stroke-width="0.6"/>
<path d="M396.50,89.30 C397.08,89.13 398.83,88.50 400.00,88.31 C401.17,88.12 402.33,88.25 403.50,88.14 C404.67,88.03 406.17,87.57 407.00,87.65 C407.83,87.73 407.92,87.95 408.50,88.64 C409.08,89.33 409.75,91.12 410.50,91.78 C411.25,92.44 412.33,92.30 413.00,92.60 C413.67,92.90 413.92,93.36 414.50,93.59 C415.08,93.82 413.42,93.92 416.50,94.00 C419.58,94.08 430.25,94.07 433.00,94.08  L433.00,94.25 L396.50,94.25 Z" fill="#90f090" fill-opacity="0.8"/>
<path d="M396.50,89.30 C397.08,89.13 398.83,88.50 400.00,88.31 C401.17,88.12 402.33,88.25 403.50,88.14 C404.67,88.03 406.17,87.57 407.00,87.65 C407.83,87.73 407.92,87.95 408.50,88.64 C409.08,89.33 409.75,91.12 410.50,91.78 C411.25,92.44 412.33,92.30 413.00,92.60 C413.67,92.90 413.92,93.36 414.50,93.59 C415.08,93.82 413.42,93.92 416.50,94.00 C419.58,94.08 430.25,94.07 433.00,94.08 " fill="none" stroke="#40c040" stroke-width="0.6"/>
<path d="M396.50,100.20 C397.08,100.03 398.83,99.54 400.00,99.21 C401.17,98.88 402.33,98.47 403.50,98.22 C404.67,97.97 406.17,97.64 407.00,97.72 C407.83,97.81 407.92,98.17 408.50,98.72 C409.08,99.27 409.75,100.50 410.50,101.03 C411.25,101.55 412.33,101.55 413.00,101.85 C413.67,102.15 413.92,102.61 414.50,102.84 C415.08,103.07 413.42,103.17 416.50,103.25 C419.58,103.33 430.25,103.32 433.00,103.33  L433.00,103.50 L396.50,103.50 Z" fill="#f8c898" fill-opacity="0.8"/>
<path d="M396.50,100.20 C397.08,100.03 398.83,99.54 400.00,99.21 C401.17,98.88 402.33,98.47 403.50,98.22 C404.67,97.97 406.17,97.64 407.00,97.72 C407.83,97.81 407.92,98.17 408.50,98.72 C409.08,99.27 409.75,100.50 410.50,101.03 C411.25,101.55 412.33,101.55 413.00,101.85 C413.67,102.15 413.92,102.61 414.50,102.84 C415.08,103.07 413.42,103.17 416.50,103.25 C419.58,103.33 430.25,103.32 433.00,103.33 " fill="none" stroke="#e8a060" stroke-width="0.6"/>
<line x1="396.5" y1="75.75" x2="420.3" y2="75.75" stroke="#ddd" stroke-width="0.3"/>
<line x1="396.5" y1="85.0" x2="420.3" y2="85.0" stroke="#ddd" stroke-width="0.3"/>
<line x1="396.5" y1="94.25" x2="420.3" y2="94.25" stroke="#ddd" stroke-width="0.3"/>
<text x="420.40000000000003" y="73.75" font-size="6.8" text-anchor="start" style="font-family:'Liberation Serif',serif;font-weight:bold" fill="#000" stroke="#000" stroke-width="0.18">0.3</text>
<text x="420.40000000000003" y="83.0" font-size="6.8" text-anchor="start" style="font-family:'Liberation Serif',serif;font-weight:bold" fill="#000" stroke="#000" stroke-width="0.18">0.5</text>
<text x="420.40000000000003" y="92.25" font-size="6.8" text-anchor="start" style="font-family:'Liberation Serif',serif;font-weight:bold" fill="#000" stroke="#000" stroke-width="0.18">0.5</text>
<text x="420.40000000000003" y="101.5" font-size="6.8" text-anchor="start" style="font-family:'Liberation Serif',serif;font-weight:bold" fill="#000" stroke="#000" stroke-width="0.18">0.4</text>
<rect x="396.5" y="66.5" width="37" height="37" fill="none" stroke="#a0a0a0" stroke-width="1.2"/>
<line x1="420.3" y1="66.5" x2="420.3" y2="103.5" stroke="#555" stroke-width="0.8"/>
<text x="273" y="117.6" font-size="8" text-anchor="start" style="font-family:'Liberation Serif',serif;font-weight:bold" fill="#000" stroke="#000" stroke-width="0.18">CD3</text>
<line x1="292.5" y1="114.6" x2="302.5" y2="114.6" stroke="#000" stroke-width="0.9"/>
<path d="M307,114.6 L302.0,112.6 L302.0,116.6 Z" fill="#000"/>
<text x="314.5" y="117.6" font-size="8" text-anchor="start" style="font-family:'Liberation Serif',serif;font-weight:bold" fill="#000" stroke="#000" stroke-width="0.18">CD14</text>
<line x1="338.6" y1="114.6" x2="343.5" y2="114.6" stroke="#000" stroke-width="0.9"/>
<path d="M348,114.6 L343.0,112.6 L343.0,116.6 Z" fill="#000"/>
<text x="355.5" y="117.6" font-size="8" text-anchor="start" style="font-family:'Liberation Serif',serif;font-weight:bold" fill="#000" stroke="#000" stroke-width="0.18">CD19</text>
<line x1="378.5" y1="114.6" x2="384.5" y2="114.6" stroke="#000" stroke-width="0.9"/>
<path d="M389,114.6 L384.0,112.6 L384.0,116.6 Z" fill="#000"/>
<text x="397" y="117.6" font-size="8" text-anchor="start" style="font-family:'Liberation Serif',serif;font-weight:bold" fill="#000" stroke="#000" stroke-width="0.18">CD56</text>
<line x1="420.5" y1="114.6" x2="426.0" y2="114.6" stroke="#000" stroke-width="0.9"/>
<path d="M430.5,114.6 L425.5,112.6 L425.5,116.6 Z" fill="#000"/>
<text x="446.2" y="48.4" font-size="8.8" text-anchor="middle" style="font-family:'Liberation Serif',serif;font-weight:bold" fill="#000" stroke="#000" stroke-width="0.18" transform="rotate(-90 446.2 48.4)">6 h</text>
<text x="446.2" y="83.9" font-size="8.8" text-anchor="middle" style="font-family:'Liberation Serif',serif;font-weight:bold" fill="#000" stroke="#000" stroke-width="0.18" transform="rotate(-90 446.2 83.9)">18 h</text>
<rect x="260" y="125.5" width="186" height="13.3" fill="#fff" stroke="#222" stroke-width="1.1"/>
<rect x="263.5" y="129.2" width="9.5" height="6.3" fill="#ff2a10" stroke="none" stroke-width="1"/>
<text x="275.6" y="134.8" font-size="6.6" text-anchor="start" style="font-family:'Liberation Serif',serif;font-weight:bold" fill="#000" stroke="#000" stroke-width="0.18">MOI 0</text>
<rect x="308.5" y="129.2" width="9.5" height="6.3" fill="#2038f0" stroke="none" stroke-width="1"/>
<text x="320.5" y="134.8" font-size="6.6" text-anchor="start" style="font-family:'Liberation Serif',serif;font-weight:bold" fill="#000" stroke="#000" stroke-width="0.18">MOI 0.1</text>
<rect x="357.8" y="129.2" width="9.5" height="6.3" fill="#20e020" stroke="none" stroke-width="1"/>
<text x="370.4" y="134.8" font-size="6.6" text-anchor="start" style="font-family:'Liberation Serif',serif;font-weight:bold" fill="#000" stroke="#000" stroke-width="0.18">MOI 1</text>
<rect x="402.5" y="129.2" width="9.5" height="6.3" fill="#f89020" stroke="none" stroke-width="1"/>
<text x="416" y="134.8" font-size="6.6" text-anchor="start" style="font-family:'Liberation Serif',serif;font-weight:bold" fill="#000" stroke="#000" stroke-width="0.18">MOI 10</text>
<text x="3.8" y="179.4" font-size="14" text-anchor="start" style="font-family:'Liberation Sans',sans-serif;font-weight:bold" fill="#000">C</text>
<text x="23" y="181" font-size="8.3" text-anchor="start" style="font-family:'Liberation Serif',serif;font-weight:bold" fill="#000" stroke="#000" stroke-width="0.18">MOI: 0</text>
<text x="81" y="181" font-size="8" text-anchor="middle" style="font-family:'Liberation Serif',serif;font-weight:bold" fill="#000" stroke="#000" stroke-width="0.18">0.1</text>
<text x="121" y="181" font-size="8" text-anchor="middle" style="font-family:'Liberation Serif',serif;font-weight:bold" fill="#000" stroke="#000" stroke-width="0.18">1</text>
<text x="162" y="181" font-size="8" text-anchor="middle" style="font-family:'Liberation Serif',serif;font-weight:bold" fill="#000" stroke="#000" stroke-width="0.18">10</text>
<clipPath id="k1"><rect x="22.5" y="190.5" width="37" height="36"/></clipPath>
<g clip-path="url(#k1)">
<g transform="translate(22.5,190.5)">
<path d="M-1.00,4.00 C0.67,1.97 7.17,3.17 9.00,5.00 C10.83,6.83 10.83,13.00 10.00,15.00 C9.17,17.00 5.83,16.63 4.00,17.00 C2.17,17.37 -0.17,19.37 -1.00,17.20 C-1.83,15.03 -2.67,6.03 -1.00,4.00 Z" fill="#dfe4f4" opacity="0.2" filter="url(#bl2)"/>
<path d="M0.00,9.00 C1.33,4.67 6.17,9.50 8.00,10.00 C9.83,10.50 9.83,12.08 11.00,12.00 C12.17,11.92 13.50,10.25 15.00,9.50 C16.50,8.75 18.17,8.03 20.00,7.50 C21.83,6.97 24.78,6.22 26.00,6.30 C27.22,6.38 27.38,7.05 27.30,8.00 C27.22,8.95 25.97,10.67 25.50,12.00 C25.03,13.33 24.58,14.33 24.50,16.00 C24.42,17.67 24.95,19.67 25.00,22.00 C25.05,24.33 24.97,27.67 24.80,30.00 C24.63,32.33 28.13,35.00 24.00,36.00 C19.87,37.00 4.00,40.50 0.00,36.00 C-4.00,31.50 -1.33,13.33 0.00,9.00 Z" fill="#7fa8ff" opacity="0.35" filter="url(#bl5)"/>
<clipPath id="dO1"><path d="M-2.00,17.20 C-1.00,13.70 2.25,17.10 4.00,17.00 C5.75,16.90 7.42,16.93 8.50,16.60 C9.58,16.27 9.77,15.72 10.50,15.00 C11.23,14.28 11.75,13.17 12.90,12.30 C14.05,11.43 15.90,10.45 17.40,9.80 C18.90,9.15 20.48,8.82 21.90,8.40 C23.32,7.98 25.17,7.33 25.90,7.30 C26.63,7.27 26.38,7.82 26.30,8.20 C26.22,8.58 25.83,8.82 25.40,9.60 C24.97,10.38 24.22,11.83 23.70,12.90 C23.18,13.97 22.43,15.10 22.30,16.00 C22.17,16.90 22.65,17.32 22.90,18.30 C23.15,19.28 23.68,20.57 23.80,21.90 C23.92,23.23 23.75,24.82 23.60,26.30 C23.45,27.78 23.12,29.30 22.90,30.80 C22.68,32.30 22.62,34.10 22.30,35.30 C21.98,36.50 25.05,37.55 21.00,38.00 C16.95,38.45 1.83,41.47 -2.00,38.00 C-5.83,34.53 -3.00,20.70 -2.00,17.20 Z"/></clipPath>
<path d="M-2.00,17.20 C-1.00,13.70 2.25,17.10 4.00,17.00 C5.75,16.90 7.42,16.93 8.50,16.60 C9.58,16.27 9.77,15.72 10.50,15.00 C11.23,14.28 11.75,13.17 12.90,12.30 C14.05,11.43 15.90,10.45 17.40,9.80 C18.90,9.15 20.48,8.82 21.90,8.40 C23.32,7.98 25.17,7.33 25.90,7.30 C26.63,7.27 26.38,7.82 26.30,8.20 C26.22,8.58 25.83,8.82 25.40,9.60 C24.97,10.38 24.22,11.83 23.70,12.90 C23.18,13.97 22.43,15.10 22.30,16.00 C22.17,16.90 22.65,17.32 22.90,18.30 C23.15,19.28 23.68,20.57 23.80,21.90 C23.92,23.23 23.75,24.82 23.60,26.30 C23.45,27.78 23.12,29.30 22.90,30.80 C22.68,32.30 22.62,34.10 22.30,35.30 C21.98,36.50 25.05,37.55 21.00,38.00 C16.95,38.45 1.83,41.47 -2.00,38.00 C-5.83,34.53 -3.00,20.70 -2.00,17.20 Z" fill="#0050ff" filter="url(#bl4)"/>
<g clip-path="url(#dO1)"><g filter="url(#bl3)">
<ellipse cx="19.8" cy="12.6" rx="6.84" ry="3.38" transform="rotate(-20 19.8 12.6)" fill="none" stroke="#0410c0" stroke-width="1.3"/>
<ellipse cx="19.8" cy="12.6" rx="6.24" ry="2.78" transform="rotate(-20 19.8 12.6)" fill="#0090ff"/>
<ellipse cx="20.0" cy="12.6" rx="4.80" ry="1.85" transform="rotate(-20 19.8 12.6)" fill="#10d8f0"/>
<ellipse cx="20.2" cy="12.6" rx="2.78" ry="1.07" transform="rotate(-20 19.8 12.6)" fill="#40f060"/>
<path d="M-3.00,19.20 C-0.63,17.90 7.50,19.33 11.20,19.10 C14.90,18.87 17.07,17.98 19.20,17.80 C21.33,17.62 23.10,17.35 24.00,18.00 C24.90,18.65 24.67,20.17 24.60,21.70 C24.53,23.23 24.13,25.08 23.60,27.20 C23.07,29.32 22.43,33.20 21.40,34.40 C20.37,35.60 18.40,35.47 17.40,34.40 C16.40,33.33 16.43,29.27 15.40,28.00 C14.37,26.73 14.27,26.98 11.20,26.80 C8.13,26.62 -0.63,28.17 -3.00,26.90 C-5.37,25.63 -5.37,20.50 -3.00,19.20 Z" fill="#0098ff"/>
<path d="M-3.00,20.20 C-0.47,19.32 8.50,20.30 12.20,20.10 C15.90,19.90 17.42,19.15 19.20,19.00 C20.98,18.85 22.18,18.75 22.90,19.20 C23.62,19.65 23.57,20.45 23.50,21.70 C23.43,22.95 23.02,24.82 22.50,26.70 C21.98,28.58 21.08,31.95 20.40,33.00 C19.72,34.05 19.03,33.97 18.40,33.00 C17.77,32.03 17.63,28.47 16.60,27.20 C15.57,25.93 15.47,25.70 12.20,25.40 C8.93,25.10 -0.47,26.27 -3.00,25.40 C-5.53,24.53 -5.53,21.08 -3.00,20.20 Z" fill="#10e0f0"/>
<path d="M9.20,21.40 C9.95,20.87 12.03,20.63 13.70,20.40 C15.37,20.17 17.78,20.07 19.20,20.00 C20.62,19.93 21.65,19.63 22.20,20.00 C22.75,20.37 22.62,21.08 22.50,22.20 C22.38,23.32 21.95,25.17 21.50,26.70 C21.05,28.23 20.30,30.62 19.80,31.40 C19.30,32.18 18.93,32.20 18.50,31.40 C18.07,30.60 17.92,27.80 17.20,26.60 C16.48,25.40 15.53,24.70 14.20,24.20 C12.87,23.70 10.03,24.07 9.20,23.60 C8.37,23.13 8.45,21.93 9.20,21.40 Z" fill="#50f060"/>
<ellipse cx="19.2" cy="23.5" rx="2.6" ry="3.1" fill="#c8f030"/>
<ellipse cx="19.2" cy="23.3" rx="1.8" ry="2.1" fill="#ffd000"/>
<ellipse cx="19.2" cy="23.2" rx="1.35" ry="1.45" fill="#e83000"/>
<circle cx="19.2" cy="23.2" r="0.9" fill="#c80000"/>
</g>
<path d="M-2.00,17.20 C-1.00,13.70 2.25,17.10 4.00,17.00 C5.75,16.90 7.42,16.93 8.50,16.60 C9.58,16.27 9.77,15.72 10.50,15.00 C11.23,14.28 11.75,13.17 12.90,12.30 C14.05,11.43 15.90,10.45 17.40,9.80 C18.90,9.15 20.48,8.82 21.90,8.40 C23.32,7.98 25.17,7.33 25.90,7.30 C26.63,7.27 26.38,7.82 26.30,8.20 C26.22,8.58 25.83,8.82 25.40,9.60 C24.97,10.38 24.22,11.83 23.70,12.90 C23.18,13.97 22.43,15.10 22.30,16.00 C22.17,16.90 22.65,17.32 22.90,18.30 C23.15,19.28 23.68,20.57 23.80,21.90 C23.92,23.23 23.75,24.82 23.60,26.30 C23.45,27.78 23.12,29.30 22.90,30.80 C22.68,32.30 22.62,34.10 22.30,35.30 C21.98,36.50 25.05,37.55 21.00,38.00 C16.95,38.45 1.83,41.47 -2.00,38.00 C-5.83,34.53 -3.00,20.70 -2.00,17.20 Z" fill="none" stroke="#0008b8" stroke-width="2.4" stroke-linejoin="round" filter="url(#bl4)"/>
</g></g>
</g>
<rect x="22.5" y="190.5" width="37" height="36" fill="none" stroke="#a0a0a0" stroke-width="1.2"/>
<rect x="23.7" y="194.1" width="8.6" height="12" fill="none" stroke="#a0a0a0" stroke-width="0.6"/>
<text x="32.8" y="197.1" font-size="6.5" text-anchor="start" style="font-family:'Liberation Serif',serif;font-weight:bold" fill="#000" stroke="#000" stroke-width="0.18">0.1</text>
<clipPath id="k2"><rect x="63.5" y="190.5" width="37" height="36"/></clipPath>
<g clip-path="url(#k2)">
<g transform="translate(63.5,190.5)">
<path d="M-1.00,4.00 C0.67,1.97 7.17,3.17 9.00,5.00 C10.83,6.83 10.83,13.00 10.00,15.00 C9.17,17.00 5.83,16.63 4.00,17.00 C2.17,17.37 -0.17,19.37 -1.00,17.20 C-1.83,15.03 -2.67,6.03 -1.00,4.00 Z" fill="#dfe4f4" opacity="0.2" filter="url(#bl2)"/>
<path d="M0.00,9.00 C1.33,4.67 6.17,9.50 8.00,10.00 C9.83,10.50 9.83,12.08 11.00,12.00 C12.17,11.92 13.50,10.25 15.00,9.50 C16.50,8.75 18.17,8.03 20.00,7.50 C21.83,6.97 24.78,6.22 26.00,6.30 C27.22,6.38 27.38,7.05 27.30,8.00 C27.22,8.95 25.97,10.67 25.50,12.00 C25.03,13.33 24.58,14.33 24.50,16.00 C24.42,17.67 24.95,19.67 25.00,22.00 C25.05,24.33 24.97,27.67 24.80,30.00 C24.63,32.33 28.13,35.00 24.00,36.00 C19.87,37.00 4.00,40.50 0.00,36.00 C-4.00,31.50 -1.33,13.33 0.00,9.00 Z" fill="#7fa8ff" opacity="0.35" filter="url(#bl5)"/>
<clipPath id="dO2"><path d="M-2.00,17.20 C-1.00,13.70 2.25,17.10 4.00,17.00 C5.75,16.90 7.42,16.93 8.50,16.60 C9.58,16.27 9.77,15.72 10.50,15.00 C11.23,14.28 11.75,13.17 12.90,12.30 C14.05,11.43 15.90,10.45 17.40,9.80 C18.90,9.15 20.48,8.82 21.90,8.40 C23.32,7.98 25.17,7.33 25.90,7.30 C26.63,7.27 26.38,7.82 26.30,8.20 C26.22,8.58 25.83,8.82 25.40,9.60 C24.97,10.38 24.22,11.83 23.70,12.90 C23.18,13.97 22.43,15.10 22.30,16.00 C22.17,16.90 22.65,17.32 22.90,18.30 C23.15,19.28 23.68,20.57 23.80,21.90 C23.92,23.23 23.75,24.82 23.60,26.30 C23.45,27.78 23.12,29.30 22.90,30.80 C22.68,32.30 22.62,34.10 22.30,35.30 C21.98,36.50 25.05,37.55 21.00,38.00 C16.95,38.45 1.83,41.47 -2.00,38.00 C-5.83,34.53 -3.00,20.70 -2.00,17.20 Z"/></clipPath>
<path d="M-2.00,17.20 C-1.00,13.70 2.25,17.10 4.00,17.00 C5.75,16.90 7.42,16.93 8.50,16.60 C9.58,16.27 9.77,15.72 10.50,15.00 C11.23,14.28 11.75,13.17 12.90,12.30 C14.05,11.43 15.90,10.45 17.40,9.80 C18.90,9.15 20.48,8.82 21.90,8.40 C23.32,7.98 25.17,7.33 25.90,7.30 C26.63,7.27 26.38,7.82 26.30,8.20 C26.22,8.58 25.83,8.82 25.40,9.60 C24.97,10.38 24.22,11.83 23.70,12.90 C23.18,13.97 22.43,15.10 22.30,16.00 C22.17,16.90 22.65,17.32 22.90,18.30 C23.15,19.28 23.68,20.57 23.80,21.90 C23.92,23.23 23.75,24.82 23.60,26.30 C23.45,27.78 23.12,29.30 22.90,30.80 C22.68,32.30 22.62,34.10 22.30,35.30 C21.98,36.50 25.05,37.55 21.00,38.00 C16.95,38.45 1.83,41.47 -2.00,38.00 C-5.83,34.53 -3.00,20.70 -2.00,17.20 Z" fill="#0050ff" filter="url(#bl4)"/>
<g clip-path="url(#dO2)"><g filter="url(#bl3)">
<ellipse cx="19.8" cy="12.6" rx="6.84" ry="3.38" transform="rotate(-20 19.8 12.6)" fill="none" stroke="#0410c0" stroke-width="1.3"/>
<ellipse cx="19.8" cy="12.6" rx="6.24" ry="2.78" transform="rotate(-20 19.8 12.6)" fill="#0090ff"/>
<ellipse cx="20.0" cy="12.6" rx="4.80" ry="1.85" transform="rotate(-20 19.8 12.6)" fill="#10d8f0"/>
<ellipse cx="20.2" cy="12.6" rx="2.78" ry="1.07" transform="rotate(-20 19.8 12.6)" fill="#40f060"/>
<path d="M-3.00,19.20 C-0.63,17.90 7.50,19.33 11.20,19.10 C14.90,18.87 17.07,17.98 19.20,17.80 C21.33,17.62 23.10,17.35 24.00,18.00 C24.90,18.65 24.67,20.17 24.60,21.70 C24.53,23.23 24.13,25.08 23.60,27.20 C23.07,29.32 22.43,33.20 21.40,34.40 C20.37,35.60 18.40,35.47 17.40,34.40 C16.40,33.33 16.43,29.27 15.40,28.00 C14.37,26.73 14.27,26.98 11.20,26.80 C8.13,26.62 -0.63,28.17 -3.00,26.90 C-5.37,25.63 -5.37,20.50 -3.00,19.20 Z" fill="#0098ff"/>
<path d="M-3.00,20.20 C-0.47,19.32 8.50,20.30 12.20,20.10 C15.90,19.90 17.42,19.15 19.20,19.00 C20.98,18.85 22.18,18.75 22.90,19.20 C23.62,19.65 23.57,20.45 23.50,21.70 C23.43,22.95 23.02,24.82 22.50,26.70 C21.98,28.58 21.08,31.95 20.40,33.00 C19.72,34.05 19.03,33.97 18.40,33.00 C17.77,32.03 17.63,28.47 16.60,27.20 C15.57,25.93 15.47,25.70 12.20,25.40 C8.93,25.10 -0.47,26.27 -3.00,25.40 C-5.53,24.53 -5.53,21.08 -3.00,20.20 Z" fill="#10e0f0"/>
<path d="M9.20,21.40 C9.95,20.87 12.03,20.63 13.70,20.40 C15.37,20.17 17.78,20.07 19.20,20.00 C20.62,19.93 21.65,19.63 22.20,20.00 C22.75,20.37 22.62,21.08 22.50,22.20 C22.38,23.32 21.95,25.17 21.50,26.70 C21.05,28.23 20.30,30.62 19.80,31.40 C19.30,32.18 18.93,32.20 18.50,31.40 C18.07,30.60 17.92,27.80 17.20,26.60 C16.48,25.40 15.53,24.70 14.20,24.20 C12.87,23.70 10.03,24.07 9.20,23.60 C8.37,23.13 8.45,21.93 9.20,21.40 Z" fill="#50f060"/>
<ellipse cx="19.2" cy="23.5" rx="2.6" ry="3.1" fill="#c8f030"/>
<ellipse cx="19.2" cy="23.3" rx="1.8" ry="2.1" fill="#ffd000"/>
<ellipse cx="19.2" cy="23.2" rx="1.35" ry="1.45" fill="#e83000"/>
<circle cx="19.2" cy="23.2" r="0.9" fill="#c80000"/>
</g>
<path d="M-2.00,17.20 C-1.00,13.70 2.25,17.10 4.00,17.00 C5.75,16.90 7.42,16.93 8.50,16.60 C9.58,16.27 9.77,15.72 10.50,15.00 C11.23,14.28 11.75,13.17 12.90,12.30 C14.05,11.43 15.90,10.45 17.40,9.80 C18.90,9.15 20.48,8.82 21.90,8.40 C23.32,7.98 25.17,7.33 25.90,7.30 C26.63,7.27 26.38,7.82 26.30,8.20 C26.22,8.58 25.83,8.82 25.40,9.60 C24.97,10.38 24.22,11.83 23.70,12.90 C23.18,13.97 22.43,15.10 22.30,16.00 C22.17,16.90 22.65,17.32 22.90,18.30 C23.15,19.28 23.68,20.57 23.80,21.90 C23.92,23.23 23.75,24.82 23.60,26.30 C23.45,27.78 23.12,29.30 22.90,30.80 C22.68,32.30 22.62,34.10 22.30,35.30 C21.98,36.50 25.05,37.55 21.00,38.00 C16.95,38.45 1.83,41.47 -2.00,38.00 C-5.83,34.53 -3.00,20.70 -2.00,17.20 Z" fill="none" stroke="#0008b8" stroke-width="2.4" stroke-linejoin="round" filter="url(#bl4)"/>
</g></g>
</g>
<rect x="63.5" y="190.5" width="37" height="36" fill="none" stroke="#a0a0a0" stroke-width="1.2"/>
<rect x="64.7" y="194.1" width="8.6" height="12" fill="none" stroke="#a0a0a0" stroke-width="0.6"/>
<text x="73.8" y="197.1" font-size="6.5" text-anchor="start" style="font-family:'Liberation Serif',serif;font-weight:bold" fill="#000" stroke="#000" stroke-width="0.18">0.1</text>
<clipPath id="k3"><rect x="104.5" y="190.5" width="37" height="36"/></clipPath>
<g clip-path="url(#k3)">
<g transform="translate(104.5,190.5)">
<path d="M-1.00,4.00 C0.67,1.97 7.17,3.17 9.00,5.00 C10.83,6.83 10.83,13.00 10.00,15.00 C9.17,17.00 5.83,16.63 4.00,17.00 C2.17,17.37 -0.17,19.37 -1.00,17.20 C-1.83,15.03 -2.67,6.03 -1.00,4.00 Z" fill="#dfe4f4" opacity="0.2" filter="url(#bl2)"/>
<path d="M0.00,9.00 C1.33,4.67 6.17,9.50 8.00,10.00 C9.83,10.50 9.83,12.08 11.00,12.00 C12.17,11.92 13.50,10.25 15.00,9.50 C16.50,8.75 18.17,8.03 20.00,7.50 C21.83,6.97 24.78,6.22 26.00,6.30 C27.22,6.38 27.38,7.05 27.30,8.00 C27.22,8.95 25.97,10.67 25.50,12.00 C25.03,13.33 24.58,14.33 24.50,16.00 C24.42,17.67 24.95,19.67 25.00,22.00 C25.05,24.33 24.97,27.67 24.80,30.00 C24.63,32.33 28.13,35.00 24.00,36.00 C19.87,37.00 4.00,40.50 0.00,36.00 C-4.00,31.50 -1.33,13.33 0.00,9.00 Z" fill="#7fa8ff" opacity="0.35" filter="url(#bl5)"/>
<clipPath id="dO3"><path d="M-2.00,17.20 C-1.00,13.70 2.25,17.10 4.00,17.00 C5.75,16.90 7.42,16.93 8.50,16.60 C9.58,16.27 9.77,15.72 10.50,15.00 C11.23,14.28 11.75,13.17 12.90,12.30 C14.05,11.43 15.90,10.45 17.40,9.80 C18.90,9.15 20.48,8.82 21.90,8.40 C23.32,7.98 25.17,7.33 25.90,7.30 C26.63,7.27 26.38,7.82 26.30,8.20 C26.22,8.58 25.83,8.82 25.40,9.60 C24.97,10.38 24.22,11.83 23.70,12.90 C23.18,13.97 22.43,15.10 22.30,16.00 C22.17,16.90 22.65,17.32 22.90,18.30 C23.15,19.28 23.68,20.57 23.80,21.90 C23.92,23.23 23.75,24.82 23.60,26.30 C23.45,27.78 23.12,29.30 22.90,30.80 C22.68,32.30 22.62,34.10 22.30,35.30 C21.98,36.50 25.05,37.55 21.00,38.00 C16.95,38.45 1.83,41.47 -2.00,38.00 C-5.83,34.53 -3.00,20.70 -2.00,17.20 Z"/></clipPath>
<path d="M-2.00,17.20 C-1.00,13.70 2.25,17.10 4.00,17.00 C5.75,16.90 7.42,16.93 8.50,16.60 C9.58,16.27 9.77,15.72 10.50,15.00 C11.23,14.28 11.75,13.17 12.90,12.30 C14.05,11.43 15.90,10.45 17.40,9.80 C18.90,9.15 20.48,8.82 21.90,8.40 C23.32,7.98 25.17,7.33 25.90,7.30 C26.63,7.27 26.38,7.82 26.30,8.20 C26.22,8.58 25.83,8.82 25.40,9.60 C24.97,10.38 24.22,11.83 23.70,12.90 C23.18,13.97 22.43,15.10 22.30,16.00 C22.17,16.90 22.65,17.32 22.90,18.30 C23.15,19.28 23.68,20.57 23.80,21.90 C23.92,23.23 23.75,24.82 23.60,26.30 C23.45,27.78 23.12,29.30 22.90,30.80 C22.68,32.30 22.62,34.10 22.30,35.30 C21.98,36.50 25.05,37.55 21.00,38.00 C16.95,38.45 1.83,41.47 -2.00,38.00 C-5.83,34.53 -3.00,20.70 -2.00,17.20 Z" fill="#0050ff" filter="url(#bl4)"/>
<g clip-path="url(#dO3)"><g filter="url(#bl3)">
<ellipse cx="19.8" cy="12.6" rx="6.84" ry="3.38" transform="rotate(-20 19.8 12.6)" fill="none" stroke="#0410c0" stroke-width="1.3"/>
<ellipse cx="19.8" cy="12.6" rx="6.24" ry="2.78" transform="rotate(-20 19.8 12.6)" fill="#0090ff"/>
<ellipse cx="20.0" cy="12.6" rx="4.80" ry="1.85" transform="rotate(-20 19.8 12.6)" fill="#10d8f0"/>
<ellipse cx="20.2" cy="12.6" rx="2.78" ry="1.07" transform="rotate(-20 19.8 12.6)" fill="#40f060"/>
<path d="M-3.00,19.20 C-0.63,17.90 7.50,19.33 11.20,19.10 C14.90,18.87 17.07,17.98 19.20,17.80 C21.33,17.62 23.10,17.35 24.00,18.00 C24.90,18.65 24.67,20.17 24.60,21.70 C24.53,23.23 24.13,25.08 23.60,27.20 C23.07,29.32 22.43,33.20 21.40,34.40 C20.37,35.60 18.40,35.47 17.40,34.40 C16.40,33.33 16.43,29.27 15.40,28.00 C14.37,26.73 14.27,26.98 11.20,26.80 C8.13,26.62 -0.63,28.17 -3.00,26.90 C-5.37,25.63 -5.37,20.50 -3.00,19.20 Z" fill="#0098ff"/>
<path d="M-3.00,20.20 C-0.47,19.32 8.50,20.30 12.20,20.10 C15.90,19.90 17.42,19.15 19.20,19.00 C20.98,18.85 22.18,18.75 22.90,19.20 C23.62,19.65 23.57,20.45 23.50,21.70 C23.43,22.95 23.02,24.82 22.50,26.70 C21.98,28.58 21.08,31.95 20.40,33.00 C19.72,34.05 19.03,33.97 18.40,33.00 C17.77,32.03 17.63,28.47 16.60,27.20 C15.57,25.93 15.47,25.70 12.20,25.40 C8.93,25.10 -0.47,26.27 -3.00,25.40 C-5.53,24.53 -5.53,21.08 -3.00,20.20 Z" fill="#10e0f0"/>
<path d="M9.20,21.40 C9.95,20.87 12.03,20.63 13.70,20.40 C15.37,20.17 17.78,20.07 19.20,20.00 C20.62,19.93 21.65,19.63 22.20,20.00 C22.75,20.37 22.62,21.08 22.50,22.20 C22.38,23.32 21.95,25.17 21.50,26.70 C21.05,28.23 20.30,30.62 19.80,31.40 C19.30,32.18 18.93,32.20 18.50,31.40 C18.07,30.60 17.92,27.80 17.20,26.60 C16.48,25.40 15.53,24.70 14.20,24.20 C12.87,23.70 10.03,24.07 9.20,23.60 C8.37,23.13 8.45,21.93 9.20,21.40 Z" fill="#50f060"/>
<ellipse cx="19.2" cy="23.5" rx="2.6" ry="3.1" fill="#c8f030"/>
<ellipse cx="19.2" cy="23.3" rx="1.8" ry="2.1" fill="#ffd000"/>
<ellipse cx="19.2" cy="23.2" rx="1.35" ry="1.45" fill="#e83000"/>
<circle cx="19.2" cy="23.2" r="0.9" fill="#c80000"/>
</g>
<path d="M-2.00,17.20 C-1.00,13.70 2.25,17.10 4.00,17.00 C5.75,16.90 7.42,16.93 8.50,16.60 C9.58,16.27 9.77,15.72 10.50,15.00 C11.23,14.28 11.75,13.17 12.90,12.30 C14.05,11.43 15.90,10.45 17.40,9.80 C18.90,9.15 20.48,8.82 21.90,8.40 C23.32,7.98 25.17,7.33 25.90,7.30 C26.63,7.27 26.38,7.82 26.30,8.20 C26.22,8.58 25.83,8.82 25.40,9.60 C24.97,10.38 24.22,11.83 23.70,12.90 C23.18,13.97 22.43,15.10 22.30,16.00 C22.17,16.90 22.65,17.32 22.90,18.30 C23.15,19.28 23.68,20.57 23.80,21.90 C23.92,23.23 23.75,24.82 23.60,26.30 C23.45,27.78 23.12,29.30 22.90,30.80 C22.68,32.30 22.62,34.10 22.30,35.30 C21.98,36.50 25.05,37.55 21.00,38.00 C16.95,38.45 1.83,41.47 -2.00,38.00 C-5.83,34.53 -3.00,20.70 -2.00,17.20 Z" fill="none" stroke="#0008b8" stroke-width="2.4" stroke-linejoin="round" filter="url(#bl4)"/>
</g></g>
</g>
<rect x="104.5" y="190.5" width="37" height="36" fill="none" stroke="#a0a0a0" stroke-width="1.2"/>
<rect x="105.7" y="194.1" width="8.6" height="12" fill="none" stroke="#a0a0a0" stroke-width="0.6"/>
<text x="114.8" y="197.1" font-size="6.5" text-anchor="start" style="font-family:'Liberation Serif',serif;font-weight:bold" fill="#000" stroke="#000" stroke-width="0.18">0.1</text>
<clipPath id="k4"><rect x="145.5" y="190.5" width="37" height="36"/></clipPath>
<g clip-path="url(#k4)">
<g transform="translate(145.5,190.5)">
<path d="M-1.00,4.00 C0.67,1.97 7.17,3.17 9.00,5.00 C10.83,6.83 10.83,13.00 10.00,15.00 C9.17,17.00 5.83,16.63 4.00,17.00 C2.17,17.37 -0.17,19.37 -1.00,17.20 C-1.83,15.03 -2.67,6.03 -1.00,4.00 Z" fill="#dfe4f4" opacity="0.2" filter="url(#bl2)"/>
<path d="M0.00,9.00 C1.33,4.67 6.17,9.50 8.00,10.00 C9.83,10.50 9.83,12.08 11.00,12.00 C12.17,11.92 13.50,10.25 15.00,9.50 C16.50,8.75 18.17,8.03 20.00,7.50 C21.83,6.97 24.78,6.22 26.00,6.30 C27.22,6.38 27.38,7.05 27.30,8.00 C27.22,8.95 25.97,10.67 25.50,12.00 C25.03,13.33 24.58,14.33 24.50,16.00 C24.42,17.67 24.95,19.67 25.00,22.00 C25.05,24.33 24.97,27.67 24.80,30.00 C24.63,32.33 28.13,35.00 24.00,36.00 C19.87,37.00 4.00,40.50 0.00,36.00 C-4.00,31.50 -1.33,13.33 0.00,9.00 Z" fill="#7fa8ff" opacity="0.35" filter="url(#bl5)"/>
<clipPath id="dO4"><path d="M-2.00,17.20 C-1.00,13.70 2.25,17.10 4.00,17.00 C5.75,16.90 7.42,16.93 8.50,16.60 C9.58,16.27 9.77,15.72 10.50,15.00 C11.23,14.28 11.75,13.17 12.90,12.30 C14.05,11.43 15.90,10.45 17.40,9.80 C18.90,9.15 20.48,8.82 21.90,8.40 C23.32,7.98 25.17,7.33 25.90,7.30 C26.63,7.27 26.38,7.82 26.30,8.20 C26.22,8.58 25.83,8.82 25.40,9.60 C24.97,10.38 24.22,11.83 23.70,12.90 C23.18,13.97 22.43,15.10 22.30,16.00 C22.17,16.90 22.65,17.32 22.90,18.30 C23.15,19.28 23.68,20.57 23.80,21.90 C23.92,23.23 23.75,24.82 23.60,26.30 C23.45,27.78 23.12,29.30 22.90,30.80 C22.68,32.30 22.62,34.10 22.30,35.30 C21.98,36.50 25.05,37.55 21.00,38.00 C16.95,38.45 1.83,41.47 -2.00,38.00 C-5.83,34.53 -3.00,20.70 -2.00,17.20 Z"/></clipPath>
<path d="M-2.00,17.20 C-1.00,13.70 2.25,17.10 4.00,17.00 C5.75,16.90 7.42,16.93 8.50,16.60 C9.58,16.27 9.77,15.72 10.50,15.00 C11.23,14.28 11.75,13.17 12.90,12.30 C14.05,11.43 15.90,10.45 17.40,9.80 C18.90,9.15 20.48,8.82 21.90,8.40 C23.32,7.98 25.17,7.33 25.90,7.30 C26.63,7.27 26.38,7.82 26.30,8.20 C26.22,8.58 25.83,8.82 25.40,9.60 C24.97,10.38 24.22,11.83 23.70,12.90 C23.18,13.97 22.43,15.10 22.30,16.00 C22.17,16.90 22.65,17.32 22.90,18.30 C23.15,19.28 23.68,20.57 23.80,21.90 C23.92,23.23 23.75,24.82 23.60,26.30 C23.45,27.78 23.12,29.30 22.90,30.80 C22.68,32.30 22.62,34.10 22.30,35.30 C21.98,36.50 25.05,37.55 21.00,38.00 C16.95,38.45 1.83,41.47 -2.00,38.00 C-5.83,34.53 -3.00,20.70 -2.00,17.20 Z" fill="#0050ff" filter="url(#bl4)"/>
<g clip-path="url(#dO4)"><g filter="url(#bl3)">
<ellipse cx="19.8" cy="12.6" rx="6.84" ry="3.38" transform="rotate(-20 19.8 12.6)" fill="none" stroke="#0410c0" stroke-width="1.3"/>
<ellipse cx="19.8" cy="12.6" rx="6.24" ry="2.78" transform="rotate(-20 19.8 12.6)" fill="#0090ff"/>
<ellipse cx="20.0" cy="12.6" rx="4.80" ry="1.85" transform="rotate(-20 19.8 12.6)" fill="#10d8f0"/>
<ellipse cx="20.2" cy="12.6" rx="2.78" ry="1.07" transform="rotate(-20 19.8 12.6)" fill="#40f060"/>
<path d="M-3.00,19.20 C-0.63,17.90 7.50,19.33 11.20,19.10 C14.90,18.87 17.07,17.98 19.20,17.80 C21.33,17.62 23.10,17.35 24.00,18.00 C24.90,18.65 24.67,20.17 24.60,21.70 C24.53,23.23 24.13,25.08 23.60,27.20 C23.07,29.32 22.43,33.20 21.40,34.40 C20.37,35.60 18.40,35.47 17.40,34.40 C16.40,33.33 16.43,29.27 15.40,28.00 C14.37,26.73 14.27,26.98 11.20,26.80 C8.13,26.62 -0.63,28.17 -3.00,26.90 C-5.37,25.63 -5.37,20.50 -3.00,19.20 Z" fill="#0098ff"/>
<path d="M-3.00,20.20 C-0.47,19.32 8.50,20.30 12.20,20.10 C15.90,19.90 17.42,19.15 19.20,19.00 C20.98,18.85 22.18,18.75 22.90,19.20 C23.62,19.65 23.57,20.45 23.50,21.70 C23.43,22.95 23.02,24.82 22.50,26.70 C21.98,28.58 21.08,31.95 20.40,33.00 C19.72,34.05 19.03,33.97 18.40,33.00 C17.77,32.03 17.63,28.47 16.60,27.20 C15.57,25.93 15.47,25.70 12.20,25.40 C8.93,25.10 -0.47,26.27 -3.00,25.40 C-5.53,24.53 -5.53,21.08 -3.00,20.20 Z" fill="#10e0f0"/>
<path d="M9.20,21.40 C9.95,20.87 12.03,20.63 13.70,20.40 C15.37,20.17 17.78,20.07 19.20,20.00 C20.62,19.93 21.65,19.63 22.20,20.00 C22.75,20.37 22.62,21.08 22.50,22.20 C22.38,23.32 21.95,25.17 21.50,26.70 C21.05,28.23 20.30,30.62 19.80,31.40 C19.30,32.18 18.93,32.20 18.50,31.40 C18.07,30.60 17.92,27.80 17.20,26.60 C16.48,25.40 15.53,24.70 14.20,24.20 C12.87,23.70 10.03,24.07 9.20,23.60 C8.37,23.13 8.45,21.93 9.20,21.40 Z" fill="#50f060"/>
<ellipse cx="19.2" cy="23.5" rx="2.6" ry="3.1" fill="#c8f030"/>
<ellipse cx="19.2" cy="23.3" rx="1.8" ry="2.1" fill="#ffd000"/>
<ellipse cx="19.2" cy="23.2" rx="1.35" ry="1.45" fill="#e83000"/>
<circle cx="19.2" cy="23.2" r="0.9" fill="#c80000"/>
</g>
<path d="M-2.00,17.20 C-1.00,13.70 2.25,17.10 4.00,17.00 C5.75,16.90 7.42,16.93 8.50,16.60 C9.58,16.27 9.77,15.72 10.50,15.00 C11.23,14.28 11.75,13.17 12.90,12.30 C14.05,11.43 15.90,10.45 17.40,9.80 C18.90,9.15 20.48,8.82 21.90,8.40 C23.32,7.98 25.17,7.33 25.90,7.30 C26.63,7.27 26.38,7.82 26.30,8.20 C26.22,8.58 25.83,8.82 25.40,9.60 C24.97,10.38 24.22,11.83 23.70,12.90 C23.18,13.97 22.43,15.10 22.30,16.00 C22.17,16.90 22.65,17.32 22.90,18.30 C23.15,19.28 23.68,20.57 23.80,21.90 C23.92,23.23 23.75,24.82 23.60,26.30 C23.45,27.78 23.12,29.30 22.90,30.80 C22.68,32.30 22.62,34.10 22.30,35.30 C21.98,36.50 25.05,37.55 21.00,38.00 C16.95,38.45 1.83,41.47 -2.00,38.00 C-5.83,34.53 -3.00,20.70 -2.00,17.20 Z" fill="none" stroke="#0008b8" stroke-width="2.4" stroke-linejoin="round" filter="url(#bl4)"/>
</g></g>
</g>
<rect x="145.5" y="190.5" width="37" height="36" fill="none" stroke="#a0a0a0" stroke-width="1.2"/>
<rect x="146.7" y="194.1" width="8.6" height="12" fill="none" stroke="#a0a0a0" stroke-width="0.6"/>
<text x="155.8" y="197.1" font-size="6.5" text-anchor="start" style="font-family:'Liberation Serif',serif;font-weight:bold" fill="#000" stroke="#000" stroke-width="0.18">0.2</text>
<clipPath id="k5"><rect x="22.5" y="231.5" width="37" height="36"/></clipPath>
<g clip-path="url(#k5)">
<g transform="translate(22.5,231.5)">
<path d="M-1.00,4.00 C0.67,1.97 7.25,3.83 9.00,5.00 C10.75,6.17 10.00,9.08 9.50,11.00 C9.00,12.92 7.75,15.47 6.00,16.50 C4.25,17.53 0.17,19.28 -1.00,17.20 C-2.17,15.12 -2.67,6.03 -1.00,4.00 Z" fill="#dfe4f4" opacity="0.2" filter="url(#bl2)"/>
<path d="M0.00,8.00 C1.33,3.50 6.17,8.75 8.00,9.00 C9.83,9.25 9.83,9.75 11.00,9.50 C12.17,9.25 13.50,8.08 15.00,7.50 C16.50,6.92 18.25,6.42 20.00,6.00 C21.75,5.58 24.33,4.83 25.50,5.00 C26.67,5.17 26.95,5.83 27.00,7.00 C27.05,8.17 26.22,10.50 25.80,12.00 C25.38,13.50 24.63,14.33 24.50,16.00 C24.37,17.67 24.95,19.67 25.00,22.00 C25.05,24.33 24.97,27.67 24.80,30.00 C24.63,32.33 28.13,35.00 24.00,36.00 C19.87,37.00 4.00,40.67 0.00,36.00 C-4.00,31.33 -1.33,12.50 0.00,8.00 Z" fill="#7fa8ff" opacity="0.35" filter="url(#bl5)"/>
<clipPath id="dO5"><path d="M-2.00,17.40 C-1.00,13.93 2.25,17.35 4.00,17.20 C5.75,17.05 7.62,17.20 8.50,16.50 C9.38,15.80 8.88,13.88 9.30,13.00 C9.72,12.12 9.95,11.88 11.00,11.20 C12.05,10.52 14.10,9.55 15.60,8.90 C17.10,8.25 18.67,7.75 20.00,7.30 C21.33,6.85 22.70,6.33 23.60,6.20 C24.50,6.07 25.02,6.12 25.40,6.50 C25.78,6.88 26.05,7.43 25.90,8.50 C25.75,9.57 25.02,11.57 24.50,12.90 C23.98,14.23 23.02,15.38 22.80,16.50 C22.58,17.62 23.07,18.27 23.20,19.60 C23.33,20.93 23.65,22.78 23.60,24.50 C23.55,26.22 23.12,28.18 22.90,29.90 C22.68,31.62 22.62,33.45 22.30,34.80 C21.98,36.15 25.05,37.47 21.00,38.00 C16.95,38.53 1.83,41.43 -2.00,38.00 C-5.83,34.57 -3.00,20.87 -2.00,17.40 Z"/></clipPath>
<path d="M-2.00,17.40 C-1.00,13.93 2.25,17.35 4.00,17.20 C5.75,17.05 7.62,17.20 8.50,16.50 C9.38,15.80 8.88,13.88 9.30,13.00 C9.72,12.12 9.95,11.88 11.00,11.20 C12.05,10.52 14.10,9.55 15.60,8.90 C17.10,8.25 18.67,7.75 20.00,7.30 C21.33,6.85 22.70,6.33 23.60,6.20 C24.50,6.07 25.02,6.12 25.40,6.50 C25.78,6.88 26.05,7.43 25.90,8.50 C25.75,9.57 25.02,11.57 24.50,12.90 C23.98,14.23 23.02,15.38 22.80,16.50 C22.58,17.62 23.07,18.27 23.20,19.60 C23.33,20.93 23.65,22.78 23.60,24.50 C23.55,26.22 23.12,28.18 22.90,29.90 C22.68,31.62 22.62,33.45 22.30,34.80 C21.98,36.15 25.05,37.47 21.00,38.00 C16.95,38.53 1.83,41.43 -2.00,38.00 C-5.83,34.57 -3.00,20.87 -2.00,17.40 Z" fill="#0050ff" filter="url(#bl4)"/>
<g clip-path="url(#dO5)"><g filter="url(#bl3)">
<ellipse cx="18.7" cy="11.6" rx="5.80" ry="3.30" transform="rotate(-20 18.7 11.6)" fill="none" stroke="#0410c0" stroke-width="1.3"/>
<ellipse cx="18.7" cy="11.6" rx="5.20" ry="2.70" transform="rotate(-20 18.7 11.6)" fill="#0090ff"/>
<ellipse cx="18.9" cy="11.6" rx="4.00" ry="1.80" transform="rotate(-20 18.7 11.6)" fill="#10d8f0"/>
<ellipse cx="19.099999999999998" cy="11.6" rx="2.32" ry="1.04" transform="rotate(-20 18.7 11.6)" fill="#40f060"/>
<path d="M-3.00,19.60 C-0.78,18.27 6.75,19.94 10.30,19.50 C13.85,19.06 16.05,17.37 18.30,16.99 C20.55,16.61 22.79,16.47 23.82,17.22 C24.86,17.97 24.59,19.71 24.51,21.47 C24.43,23.24 23.97,25.37 23.36,27.80 C22.75,30.23 22.02,34.70 20.83,36.08 C19.64,37.46 17.38,37.31 16.23,36.08 C15.08,34.85 14.92,30.17 13.93,28.72 C12.94,27.27 13.12,27.60 10.30,27.40 C7.48,27.20 -0.78,28.80 -3.00,27.50 C-5.22,26.20 -5.22,20.93 -3.00,19.60 Z" fill="#0098ff"/>
<path d="M-3.00,20.60 C-0.62,19.68 7.75,20.87 11.30,20.50 C14.85,20.13 16.42,18.69 18.30,18.37 C20.18,18.05 21.73,18.08 22.55,18.60 C23.38,19.12 23.32,20.04 23.25,21.47 C23.17,22.91 22.69,25.06 22.09,27.22 C21.50,29.39 20.47,33.26 19.68,34.47 C18.89,35.68 18.11,35.58 17.38,34.47 C16.65,33.36 16.32,29.21 15.31,27.80 C14.30,26.39 14.35,26.30 11.30,26.00 C8.25,25.70 -0.62,26.90 -3.00,26.00 C-5.38,25.10 -5.38,21.52 -3.00,20.60 Z" fill="#10e0f0"/>
<path d="M6.80,21.13 C7.66,20.52 10.06,20.25 11.98,19.98 C13.89,19.71 16.67,19.60 18.30,19.52 C19.93,19.44 21.12,19.10 21.75,19.52 C22.38,19.94 22.23,20.77 22.09,22.05 C21.96,23.33 21.46,25.46 20.95,27.22 C20.43,28.99 19.57,31.73 18.99,32.63 C18.42,33.53 17.99,33.55 17.50,32.63 C17.00,31.71 16.82,28.49 16.00,27.11 C15.18,25.73 14.08,24.92 12.55,24.35 C11.02,23.77 7.76,24.20 6.80,23.66 C5.84,23.12 5.94,21.74 6.80,21.13 Z" fill="#50f060"/>
<ellipse cx="18.3" cy="23.5" rx="2.6" ry="3.1" fill="#c8f030"/>
<ellipse cx="18.3" cy="23.3" rx="1.8" ry="2.1" fill="#ffd000"/>
<ellipse cx="18.3" cy="23.2" rx="1.35" ry="1.45" fill="#e83000"/>
<circle cx="18.3" cy="23.2" r="0.9" fill="#c80000"/>
</g>
<path d="M-2.00,17.40 C-1.00,13.93 2.25,17.35 4.00,17.20 C5.75,17.05 7.62,17.20 8.50,16.50 C9.38,15.80 8.88,13.88 9.30,13.00 C9.72,12.12 9.95,11.88 11.00,11.20 C12.05,10.52 14.10,9.55 15.60,8.90 C17.10,8.25 18.67,7.75 20.00,7.30 C21.33,6.85 22.70,6.33 23.60,6.20 C24.50,6.07 25.02,6.12 25.40,6.50 C25.78,6.88 26.05,7.43 25.90,8.50 C25.75,9.57 25.02,11.57 24.50,12.90 C23.98,14.23 23.02,15.38 22.80,16.50 C22.58,17.62 23.07,18.27 23.20,19.60 C23.33,20.93 23.65,22.78 23.60,24.50 C23.55,26.22 23.12,28.18 22.90,29.90 C22.68,31.62 22.62,33.45 22.30,34.80 C21.98,36.15 25.05,37.47 21.00,38.00 C16.95,38.53 1.83,41.43 -2.00,38.00 C-5.83,34.57 -3.00,20.87 -2.00,17.40 Z" fill="none" stroke="#0008b8" stroke-width="2.4" stroke-linejoin="round" filter="url(#bl4)"/>
</g></g>
</g>
<rect x="22.5" y="231.5" width="37" height="36" fill="none" stroke="#a0a0a0" stroke-width="1.2"/>
<rect x="23.7" y="235.1" width="8.6" height="12" fill="none" stroke="#a0a0a0" stroke-width="0.6"/>
<text x="32.8" y="238.1" font-size="6.5" text-anchor="start" style="font-family:'Liberation Serif',serif;font-weight:bold" fill="#000" stroke="#000" stroke-width="0.18">0.2</text>
<clipPath id="k6"><rect x="63.5" y="231.5" width="37" height="36"/></clipPath>
<g clip-path="url(#k6)">
<g transform="translate(63.5,231.5)">
<path d="M-1.00,4.00 C0.67,1.97 7.25,3.83 9.00,5.00 C10.75,6.17 10.00,9.08 9.50,11.00 C9.00,12.92 7.75,15.47 6.00,16.50 C4.25,17.53 0.17,19.28 -1.00,17.20 C-2.17,15.12 -2.67,6.03 -1.00,4.00 Z" fill="#dfe4f4" opacity="0.2" filter="url(#bl2)"/>
<path d="M0.00,8.00 C1.33,3.50 6.17,8.75 8.00,9.00 C9.83,9.25 9.83,9.75 11.00,9.50 C12.17,9.25 13.50,8.08 15.00,7.50 C16.50,6.92 18.25,6.42 20.00,6.00 C21.75,5.58 24.33,4.83 25.50,5.00 C26.67,5.17 26.95,5.83 27.00,7.00 C27.05,8.17 26.22,10.50 25.80,12.00 C25.38,13.50 24.63,14.33 24.50,16.00 C24.37,17.67 24.95,19.67 25.00,22.00 C25.05,24.33 24.97,27.67 24.80,30.00 C24.63,32.33 28.13,35.00 24.00,36.00 C19.87,37.00 4.00,40.67 0.00,36.00 C-4.00,31.33 -1.33,12.50 0.00,8.00 Z" fill="#7fa8ff" opacity="0.35" filter="url(#bl5)"/>
<clipPath id="dO6"><path d="M-2.00,17.40 C-1.00,13.93 2.25,17.35 4.00,17.20 C5.75,17.05 7.62,17.20 8.50,16.50 C9.38,15.80 8.88,13.88 9.30,13.00 C9.72,12.12 9.95,11.88 11.00,11.20 C12.05,10.52 14.10,9.55 15.60,8.90 C17.10,8.25 18.67,7.75 20.00,7.30 C21.33,6.85 22.70,6.33 23.60,6.20 C24.50,6.07 25.02,6.12 25.40,6.50 C25.78,6.88 26.05,7.43 25.90,8.50 C25.75,9.57 25.02,11.57 24.50,12.90 C23.98,14.23 23.02,15.38 22.80,16.50 C22.58,17.62 23.07,18.27 23.20,19.60 C23.33,20.93 23.65,22.78 23.60,24.50 C23.55,26.22 23.12,28.18 22.90,29.90 C22.68,31.62 22.62,33.45 22.30,34.80 C21.98,36.15 25.05,37.47 21.00,38.00 C16.95,38.53 1.83,41.43 -2.00,38.00 C-5.83,34.57 -3.00,20.87 -2.00,17.40 Z"/></clipPath>
<path d="M-2.00,17.40 C-1.00,13.93 2.25,17.35 4.00,17.20 C5.75,17.05 7.62,17.20 8.50,16.50 C9.38,15.80 8.88,13.88 9.30,13.00 C9.72,12.12 9.95,11.88 11.00,11.20 C12.05,10.52 14.10,9.55 15.60,8.90 C17.10,8.25 18.67,7.75 20.00,7.30 C21.33,6.85 22.70,6.33 23.60,6.20 C24.50,6.07 25.02,6.12 25.40,6.50 C25.78,6.88 26.05,7.43 25.90,8.50 C25.75,9.57 25.02,11.57 24.50,12.90 C23.98,14.23 23.02,15.38 22.80,16.50 C22.58,17.62 23.07,18.27 23.20,19.60 C23.33,20.93 23.65,22.78 23.60,24.50 C23.55,26.22 23.12,28.18 22.90,29.90 C22.68,31.62 22.62,33.45 22.30,34.80 C21.98,36.15 25.05,37.47 21.00,38.00 C16.95,38.53 1.83,41.43 -2.00,38.00 C-5.83,34.57 -3.00,20.87 -2.00,17.40 Z" fill="#0050ff" filter="url(#bl4)"/>
<g clip-path="url(#dO6)"><g filter="url(#bl3)">
<ellipse cx="18.7" cy="11.6" rx="5.80" ry="3.30" transform="rotate(-20 18.7 11.6)" fill="none" stroke="#0410c0" stroke-width="1.3"/>
<ellipse cx="18.7" cy="11.6" rx="5.20" ry="2.70" transform="rotate(-20 18.7 11.6)" fill="#0090ff"/>
<ellipse cx="18.9" cy="11.6" rx="4.00" ry="1.80" transform="rotate(-20 18.7 11.6)" fill="#10d8f0"/>
<ellipse cx="19.099999999999998" cy="11.6" rx="2.32" ry="1.04" transform="rotate(-20 18.7 11.6)" fill="#40f060"/>
<path d="M-3.00,19.60 C-0.78,18.27 6.75,19.94 10.30,19.50 C13.85,19.06 16.05,17.37 18.30,16.99 C20.55,16.61 22.79,16.47 23.82,17.22 C24.86,17.97 24.59,19.71 24.51,21.47 C24.43,23.24 23.97,25.37 23.36,27.80 C22.75,30.23 22.02,34.70 20.83,36.08 C19.64,37.46 17.38,37.31 16.23,36.08 C15.08,34.85 14.92,30.17 13.93,28.72 C12.94,27.27 13.12,27.60 10.30,27.40 C7.48,27.20 -0.78,28.80 -3.00,27.50 C-5.22,26.20 -5.22,20.93 -3.00,19.60 Z" fill="#0098ff"/>
<path d="M-3.00,20.60 C-0.62,19.68 7.75,20.87 11.30,20.50 C14.85,20.13 16.42,18.69 18.30,18.37 C20.18,18.05 21.73,18.08 22.55,18.60 C23.38,19.12 23.32,20.04 23.25,21.47 C23.17,22.91 22.69,25.06 22.09,27.22 C21.50,29.39 20.47,33.26 19.68,34.47 C18.89,35.68 18.11,35.58 17.38,34.47 C16.65,33.36 16.32,29.21 15.31,27.80 C14.30,26.39 14.35,26.30 11.30,26.00 C8.25,25.70 -0.62,26.90 -3.00,26.00 C-5.38,25.10 -5.38,21.52 -3.00,20.60 Z" fill="#10e0f0"/>
<path d="M6.80,21.13 C7.66,20.52 10.06,20.25 11.98,19.98 C13.89,19.71 16.67,19.60 18.30,19.52 C19.93,19.44 21.12,19.10 21.75,19.52 C22.38,19.94 22.23,20.77 22.09,22.05 C21.96,23.33 21.46,25.46 20.95,27.22 C20.43,28.99 19.57,31.73 18.99,32.63 C18.42,33.53 17.99,33.55 17.50,32.63 C17.00,31.71 16.82,28.49 16.00,27.11 C15.18,25.73 14.08,24.92 12.55,24.35 C11.02,23.77 7.76,24.20 6.80,23.66 C5.84,23.12 5.94,21.74 6.80,21.13 Z" fill="#50f060"/>
<ellipse cx="18.3" cy="23.5" rx="2.6" ry="3.1" fill="#c8f030"/>
<ellipse cx="18.3" cy="23.3" rx="1.8" ry="2.1" fill="#ffd000"/>
<ellipse cx="18.3" cy="23.2" rx="1.35" ry="1.45" fill="#e83000"/>
<circle cx="18.3" cy="23.2" r="0.9" fill="#c80000"/>
</g>
<path d="M-2.00,17.40 C-1.00,13.93 2.25,17.35 4.00,17.20 C5.75,17.05 7.62,17.20 8.50,16.50 C9.38,15.80 8.88,13.88 9.30,13.00 C9.72,12.12 9.95,11.88 11.00,11.20 C12.05,10.52 14.10,9.55 15.60,8.90 C17.10,8.25 18.67,7.75 20.00,7.30 C21.33,6.85 22.70,6.33 23.60,6.20 C24.50,6.07 25.02,6.12 25.40,6.50 C25.78,6.88 26.05,7.43 25.90,8.50 C25.75,9.57 25.02,11.57 24.50,12.90 C23.98,14.23 23.02,15.38 22.80,16.50 C22.58,17.62 23.07,18.27 23.20,19.60 C23.33,20.93 23.65,22.78 23.60,24.50 C23.55,26.22 23.12,28.18 22.90,29.90 C22.68,31.62 22.62,33.45 22.30,34.80 C21.98,36.15 25.05,37.47 21.00,38.00 C16.95,38.53 1.83,41.43 -2.00,38.00 C-5.83,34.57 -3.00,20.87 -2.00,17.40 Z" fill="none" stroke="#0008b8" stroke-width="2.4" stroke-linejoin="round" filter="url(#bl4)"/>
</g></g>
</g>
<rect x="63.5" y="231.5" width="37" height="36" fill="none" stroke="#a0a0a0" stroke-width="1.2"/>
<rect x="64.7" y="235.1" width="8.6" height="12" fill="none" stroke="#a0a0a0" stroke-width="0.6"/>
<text x="73.8" y="238.1" font-size="6.5" text-anchor="start" style="font-family:'Liberation Serif',serif;font-weight:bold" fill="#000" stroke="#000" stroke-width="0.18">0.2</text>
<clipPath id="k7"><rect x="104.5" y="231.5" width="37" height="36"/></clipPath>
<g clip-path="url(#k7)">
<g transform="translate(104.5,231.5)">
<path d="M-1.00,4.00 C0.67,2.75 7.25,4.17 9.00,5.00 C10.75,5.83 10.33,7.92 9.50,9.00 C8.67,10.08 5.75,10.92 4.00,11.50 C2.25,12.08 -0.17,13.75 -1.00,12.50 C-1.83,11.25 -2.67,5.25 -1.00,4.00 Z" fill="#dfe4f4" opacity="0.2" filter="url(#bl2)"/>
<path d="M0.00,7.00 C1.33,2.00 5.67,6.25 8.00,6.00 C10.33,5.75 12.00,5.87 14.00,5.50 C16.00,5.13 18.50,4.18 20.00,3.80 C21.50,3.42 21.83,3.00 23.00,3.20 C24.17,3.40 26.58,3.87 27.00,5.00 C27.42,6.13 25.87,8.17 25.50,10.00 C25.13,11.83 24.88,14.00 24.80,16.00 C24.72,18.00 25.00,19.67 25.00,22.00 C25.00,24.33 24.97,27.67 24.80,30.00 C24.63,32.33 28.13,35.00 24.00,36.00 C19.87,37.00 4.00,40.83 0.00,36.00 C-4.00,31.17 -1.33,12.00 0.00,7.00 Z" fill="#7fa8ff" opacity="0.35" filter="url(#bl5)"/>
<clipPath id="dO7"><path d="M-2.00,12.60 C-1.17,8.18 1.35,11.97 3.00,11.50 C4.65,11.03 5.83,10.48 7.90,9.80 C9.97,9.12 13.38,8.00 15.40,7.40 C17.42,6.80 18.58,6.50 20.00,6.20 C21.42,5.90 22.93,5.55 23.90,5.60 C24.87,5.65 25.65,5.80 25.80,6.50 C25.95,7.20 25.20,8.62 24.80,9.80 C24.40,10.98 23.55,12.03 23.40,13.60 C23.25,15.17 23.90,17.02 23.90,19.20 C23.90,21.38 23.63,24.03 23.40,26.70 C23.17,29.37 22.73,33.32 22.50,35.20 C22.27,37.08 26.08,37.53 22.00,38.00 C17.92,38.47 2.00,42.23 -2.00,38.00 C-6.00,33.77 -2.83,17.02 -2.00,12.60 Z"/></clipPath>
<path d="M-2.00,12.60 C-1.17,8.18 1.35,11.97 3.00,11.50 C4.65,11.03 5.83,10.48 7.90,9.80 C9.97,9.12 13.38,8.00 15.40,7.40 C17.42,6.80 18.58,6.50 20.00,6.20 C21.42,5.90 22.93,5.55 23.90,5.60 C24.87,5.65 25.65,5.80 25.80,6.50 C25.95,7.20 25.20,8.62 24.80,9.80 C24.40,10.98 23.55,12.03 23.40,13.60 C23.25,15.17 23.90,17.02 23.90,19.20 C23.90,21.38 23.63,24.03 23.40,26.70 C23.17,29.37 22.73,33.32 22.50,35.20 C22.27,37.08 26.08,37.53 22.00,38.00 C17.92,38.47 2.00,42.23 -2.00,38.00 C-6.00,33.77 -2.83,17.02 -2.00,12.60 Z" fill="#0050ff" filter="url(#bl4)"/>
<g clip-path="url(#dO7)"><g filter="url(#bl3)">
<ellipse cx="19.5" cy="9.9" rx="5.02" ry="2.55" transform="rotate(-15 19.5 9.9)" fill="none" stroke="#0410c0" stroke-width="1.3"/>
<ellipse cx="19.5" cy="9.9" rx="4.42" ry="1.95" transform="rotate(-15 19.5 9.9)" fill="#0090ff"/>
<ellipse cx="19.7" cy="9.9" rx="3.40" ry="1.30" transform="rotate(-15 19.5 9.9)" fill="#10d8f0"/>
<ellipse cx="19.9" cy="9.9" rx="1.97" ry="0.75" transform="rotate(-15 19.5 9.9)" fill="#40f060"/>
<path d="M-2.00,15.50 C-0.83,13.88 2.67,15.97 5.00,15.80 C7.33,15.63 9.00,14.97 12.00,14.50 C15.00,14.03 21.00,12.25 23.00,13.00 C25.00,13.75 24.03,16.67 24.00,19.00 C23.97,21.33 23.30,24.25 22.80,27.00 C22.30,29.75 22.05,34.08 21.00,35.50 C19.95,36.92 18.00,36.75 16.50,35.50 C15.00,34.25 13.92,29.67 12.00,28.00 C10.08,26.33 7.33,25.92 5.00,25.50 C2.67,25.08 -0.83,27.17 -2.00,25.50 C-3.17,23.83 -3.17,17.12 -2.00,15.50 Z" fill="#0098ff"/>
<path d="M1.00,17.50 C2.17,16.42 5.83,17.12 8.00,16.80 C10.17,16.48 11.63,15.97 14.00,15.60 C16.37,15.23 20.77,14.03 22.20,14.60 C23.63,15.17 22.73,16.93 22.60,19.00 C22.47,21.07 21.90,24.43 21.40,27.00 C20.90,29.57 20.23,33.17 19.60,34.40 C18.97,35.63 18.62,35.72 17.60,34.40 C16.58,33.08 15.27,28.27 13.50,26.50 C11.73,24.73 9.08,24.33 7.00,23.80 C4.92,23.27 2.00,24.35 1.00,23.30 C0.00,22.25 -0.17,18.58 1.00,17.50 Z" fill="#10e0f0"/>
<path d="M8.00,18.30 C8.67,17.62 11.73,17.25 14.00,16.90 C16.27,16.55 20.37,15.52 21.60,16.20 C22.83,16.88 21.62,19.20 21.40,21.00 C21.18,22.80 20.70,25.10 20.30,27.00 C19.90,28.90 19.38,31.50 19.00,32.40 C18.62,33.30 18.75,33.63 18.00,32.40 C17.25,31.17 15.83,26.90 14.50,25.00 C13.17,23.10 11.08,22.12 10.00,21.00 C8.92,19.88 7.33,18.98 8.00,18.30 Z" fill="#50f060"/>
<ellipse cx="18.3" cy="22.8" rx="2.6" ry="3.1" fill="#c8f030"/>
<ellipse cx="18.3" cy="22.6" rx="1.8" ry="2.1" fill="#ffd000"/>
<ellipse cx="18.3" cy="22.5" rx="1.35" ry="1.45" fill="#e83000"/>
<circle cx="18.3" cy="22.5" r="0.9" fill="#c80000"/>
</g>
<path d="M-2.00,12.60 C-1.17,8.18 1.35,11.97 3.00,11.50 C4.65,11.03 5.83,10.48 7.90,9.80 C9.97,9.12 13.38,8.00 15.40,7.40 C17.42,6.80 18.58,6.50 20.00,6.20 C21.42,5.90 22.93,5.55 23.90,5.60 C24.87,5.65 25.65,5.80 25.80,6.50 C25.95,7.20 25.20,8.62 24.80,9.80 C24.40,10.98 23.55,12.03 23.40,13.60 C23.25,15.17 23.90,17.02 23.90,19.20 C23.90,21.38 23.63,24.03 23.40,26.70 C23.17,29.37 22.73,33.32 22.50,35.20 C22.27,37.08 26.08,37.53 22.00,38.00 C17.92,38.47 2.00,42.23 -2.00,38.00 C-6.00,33.77 -2.83,17.02 -2.00,12.60 Z" fill="none" stroke="#0008b8" stroke-width="2.4" stroke-linejoin="round" filter="url(#bl4)"/>
</g></g>
</g>
<rect x="104.5" y="231.5" width="37" height="36" fill="none" stroke="#a0a0a0" stroke-width="1.2"/>
<rect x="105.7" y="235.1" width="8.6" height="12" fill="none" stroke="#a0a0a0" stroke-width="0.6"/>
<text x="114.8" y="238.1" font-size="6.5" text-anchor="start" style="font-family:'Liberation Serif',serif;font-weight:bold" fill="#000" stroke="#000" stroke-width="0.18">0.9</text>
<clipPath id="k8"><rect x="145.5" y="231.5" width="37" height="36"/></clipPath>
<g clip-path="url(#k8)">
<g transform="translate(145.5,231.5)">
<path d="M-1.00,4.00 C0.67,3.17 7.25,4.33 9.00,5.00 C10.75,5.67 10.33,7.25 9.50,8.00 C8.67,8.75 5.75,9.17 4.00,9.50 C2.25,9.83 -0.17,10.92 -1.00,10.00 C-1.83,9.08 -2.67,4.83 -1.00,4.00 Z" fill="#dfe4f4" opacity="0.2" filter="url(#bl2)"/>
<path d="M0.00,6.00 C1.33,0.92 5.67,5.67 8.00,5.50 C10.33,5.33 12.00,5.33 14.00,5.00 C16.00,4.67 18.33,3.83 20.00,3.50 C21.67,3.17 22.83,2.75 24.00,3.00 C25.17,3.25 26.75,3.83 27.00,5.00 C27.25,6.17 25.87,8.17 25.50,10.00 C25.13,11.83 24.88,14.00 24.80,16.00 C24.72,18.00 25.00,19.67 25.00,22.00 C25.00,24.33 24.97,27.67 24.80,30.00 C24.63,32.33 28.13,35.00 24.00,36.00 C19.87,37.00 4.00,41.00 0.00,36.00 C-4.00,31.00 -1.33,11.08 0.00,6.00 Z" fill="#7fa8ff" opacity="0.35" filter="url(#bl5)"/>
<clipPath id="dO8"><path d="M-2.00,10.30 C-1.17,5.60 1.35,10.05 3.00,9.80 C4.65,9.55 5.98,9.20 7.90,8.80 C9.82,8.40 12.30,7.87 14.50,7.40 C16.70,6.93 19.38,6.30 21.10,6.00 C22.82,5.70 24.10,5.43 24.80,5.60 C25.50,5.77 25.45,6.15 25.30,7.00 C25.15,7.85 24.22,9.30 23.90,10.70 C23.58,12.10 23.40,13.83 23.40,15.40 C23.40,16.97 23.93,18.22 23.90,20.10 C23.87,21.98 23.43,24.50 23.20,26.70 C22.97,28.90 22.70,31.80 22.50,33.30 C22.30,34.80 22.17,34.92 22.00,35.70 C21.83,36.48 25.50,37.62 21.50,38.00 C17.50,38.38 1.92,42.62 -2.00,38.00 C-5.92,33.38 -2.83,15.00 -2.00,10.30 Z"/></clipPath>
<path d="M-2.00,10.30 C-1.17,5.60 1.35,10.05 3.00,9.80 C4.65,9.55 5.98,9.20 7.90,8.80 C9.82,8.40 12.30,7.87 14.50,7.40 C16.70,6.93 19.38,6.30 21.10,6.00 C22.82,5.70 24.10,5.43 24.80,5.60 C25.50,5.77 25.45,6.15 25.30,7.00 C25.15,7.85 24.22,9.30 23.90,10.70 C23.58,12.10 23.40,13.83 23.40,15.40 C23.40,16.97 23.93,18.22 23.90,20.10 C23.87,21.98 23.43,24.50 23.20,26.70 C22.97,28.90 22.70,31.80 22.50,33.30 C22.30,34.80 22.17,34.92 22.00,35.70 C21.83,36.48 25.50,37.62 21.50,38.00 C17.50,38.38 1.92,42.62 -2.00,38.00 C-5.92,33.38 -2.83,15.00 -2.00,10.30 Z" fill="#0050ff" filter="url(#bl4)"/>
<g clip-path="url(#dO8)"><g filter="url(#bl3)">
<ellipse cx="18.5" cy="10.5" rx="5.80" ry="2.85" transform="rotate(-25 18.5 10.5)" fill="none" stroke="#0410c0" stroke-width="1.3"/>
<ellipse cx="18.5" cy="10.5" rx="5.20" ry="2.25" transform="rotate(-25 18.5 10.5)" fill="#0090ff"/>
<ellipse cx="18.7" cy="10.5" rx="4.00" ry="1.50" transform="rotate(-25 18.5 10.5)" fill="#10d8f0"/>
<ellipse cx="18.9" cy="10.5" rx="2.32" ry="0.87" transform="rotate(-25 18.5 10.5)" fill="#40f060"/>
<path d="M4.00,13.00 C5.50,12.00 9.67,10.83 12.00,10.00 C14.33,9.17 16.08,8.57 18.00,8.00 C19.92,7.43 22.62,5.93 23.50,6.60 C24.38,7.27 23.47,9.77 23.30,12.00 C23.13,14.23 22.83,17.33 22.50,20.00 C22.17,22.67 21.80,25.42 21.30,28.00 C20.80,30.58 20.63,34.25 19.50,35.50 C18.37,36.75 15.83,36.75 14.50,35.50 C13.17,34.25 12.75,30.42 11.50,28.00 C10.25,25.58 8.42,23.00 7.00,21.00 C5.58,19.00 3.50,17.33 3.00,16.00 C2.50,14.67 2.50,14.00 4.00,13.00 Z" fill="#0098ff"/>
<path d="M6.50,13.50 C7.67,12.63 11.00,11.55 13.00,10.80 C15.00,10.05 16.90,9.50 18.50,9.00 C20.10,8.50 21.95,7.13 22.60,7.80 C23.25,8.47 22.58,10.97 22.40,13.00 C22.22,15.03 21.85,17.50 21.50,20.00 C21.15,22.50 20.82,25.57 20.30,28.00 C19.78,30.43 19.15,33.50 18.40,34.60 C17.65,35.70 16.67,35.87 15.80,34.60 C14.93,33.33 14.25,29.43 13.20,27.00 C12.15,24.57 10.70,21.83 9.50,20.00 C8.30,18.17 6.50,17.08 6.00,16.00 C5.50,14.92 5.33,14.37 6.50,13.50 Z" fill="#10e0f0"/>
<path d="M10.00,14.50 C10.45,13.28 13.08,13.08 15.00,12.20 C16.92,11.32 20.47,8.90 21.50,9.20 C22.53,9.50 21.42,12.20 21.20,14.00 C20.98,15.80 20.50,17.83 20.20,20.00 C19.90,22.17 19.78,24.90 19.40,27.00 C19.02,29.10 18.43,31.67 17.90,32.60 C17.37,33.53 16.72,33.70 16.20,32.60 C15.68,31.50 15.45,28.18 14.80,26.00 C14.15,23.82 13.10,21.42 12.30,19.50 C11.50,17.58 9.55,15.72 10.00,14.50 Z" fill="#50f060"/>
<ellipse cx="16.8" cy="23.7" rx="2.6" ry="3.1" fill="#c8f030"/>
<ellipse cx="16.8" cy="23.5" rx="1.8" ry="2.1" fill="#ffd000"/>
<ellipse cx="16.8" cy="23.4" rx="1.35" ry="1.45" fill="#e83000"/>
<circle cx="16.8" cy="23.4" r="0.9" fill="#c80000"/>
</g>
<path d="M-2.00,10.30 C-1.17,5.60 1.35,10.05 3.00,9.80 C4.65,9.55 5.98,9.20 7.90,8.80 C9.82,8.40 12.30,7.87 14.50,7.40 C16.70,6.93 19.38,6.30 21.10,6.00 C22.82,5.70 24.10,5.43 24.80,5.60 C25.50,5.77 25.45,6.15 25.30,7.00 C25.15,7.85 24.22,9.30 23.90,10.70 C23.58,12.10 23.40,13.83 23.40,15.40 C23.40,16.97 23.93,18.22 23.90,20.10 C23.87,21.98 23.43,24.50 23.20,26.70 C22.97,28.90 22.70,31.80 22.50,33.30 C22.30,34.80 22.17,34.92 22.00,35.70 C21.83,36.48 25.50,37.62 21.50,38.00 C17.50,38.38 1.92,42.62 -2.00,38.00 C-5.92,33.38 -2.83,15.00 -2.00,10.30 Z" fill="none" stroke="#0008b8" stroke-width="2.4" stroke-linejoin="round" filter="url(#bl4)"/>
</g></g>
</g>
<rect x="145.5" y="231.5" width="37" height="36" fill="none" stroke="#a0a0a0" stroke-width="1.2"/>
<rect x="146.7" y="235.1" width="8.6" height="12" fill="none" stroke="#a0a0a0" stroke-width="0.6"/>
<text x="155.8" y="238.1" font-size="6.5" text-anchor="start" style="font-family:'Liberation Serif',serif;font-weight:bold" fill="#000" stroke="#000" stroke-width="0.18">1.2</text>
<line x1="11.2" y1="200.0" x2="11.2" y2="228" stroke="#000" stroke-width="0.9"/>
<path d="M11.2,195 L9.2,200.5 L13.2,200.5 Z" fill="#000"/>
<text x="13.6" y="250.9" font-size="8.6" text-anchor="middle" style="font-family:'Liberation Serif',serif;font-weight:bold" fill="#000" stroke="#000" stroke-width="0.18" transform="rotate(-90 13.6 250.9)">HLA-DR</text>
<text x="23.5" y="281" font-size="8.3" text-anchor="start" style="font-family:'Liberation Serif',serif;font-weight:bold" fill="#000" stroke="#000" stroke-width="0.18">Lineage</text>
<line x1="58" y1="279" x2="177.0" y2="279" stroke="#000" stroke-width="0.9"/>
<path d="M181.5,279 L176.5,277.0 L176.5,281.0 Z" fill="#000"/>
<text x="195.6" y="210.7" font-size="8.8" text-anchor="middle" style="font-family:'Liberation Serif',serif;font-weight:bold" fill="#000" stroke="#000" stroke-width="0.18" transform="rotate(-90 195.6 210.7)">6 h</text>
<text x="195.6" y="247.9" font-size="8.8" text-anchor="middle" style="font-family:'Liberation Serif',serif;font-weight:bold" fill="#000" stroke="#000" stroke-width="0.18" transform="rotate(-90 195.6 247.9)">18 h</text>
<path d="M195,227.1 L208.5,227.1 L208.5,223.8 L215.5,228.6 L208.5,233.4 L208.5,230.1 L195,230.1 Z" fill="#d02020"/>
<text x="231.3" y="181" font-size="8.3" text-anchor="start" style="font-family:'Liberation Serif',serif;font-weight:bold" fill="#000" stroke="#000" stroke-width="0.18">MOI: 0</text>
<text x="289" y="181" font-size="8" text-anchor="middle" style="font-family:'Liberation Serif',serif;font-weight:bold" fill="#000" stroke="#000" stroke-width="0.18">0.1</text>
<text x="329" y="181" font-size="8" text-anchor="middle" style="font-family:'Liberation Serif',serif;font-weight:bold" fill="#000" stroke="#000" stroke-width="0.18">1</text>
<text x="371" y="181" font-size="8" text-anchor="middle" style="font-family:'Liberation Serif',serif;font-weight:bold" fill="#000" stroke="#000" stroke-width="0.18">10</text>
<line x1="219.5" y1="199.0" x2="219.5" y2="234" stroke="#000" stroke-width="0.9"/>
<path d="M219.5,194 L217.5,199.5 L221.5,199.5 Z" fill="#000"/>
<text x="221.6" y="254.7" font-size="8.5" text-anchor="middle" style="font-family:'Liberation Serif',serif;font-weight:bold" fill="#000" stroke="#000" stroke-width="0.18" transform="rotate(-90 221.6 254.7)">CD11c</text>
<clipPath id="k9"><rect x="0" y="0" width="37" height="36"/></clipPath>
<g transform="translate(230.5,190.5)" clip-path="url(#k9)">
<path d="M5.4,35.9 4.9,35.9 4.4,35.9 3.9,35.9 3.6,35.7 3.4,35.6 3.1,35.3 2.9,35.1 2.6,34.8 2.4,34.5 2.1,34.2 1.9,33.9 1.8,33.6 1.6,33.2 1.5,32.9 1.4,32.5 1.3,32.1 1.2,31.6 1.2,31.1 1.2,30.6 1.2,30.1 1.2,29.6 1.3,29.1 1.4,28.9 1.5,28.4 1.6,27.9 1.7,27.6 1.8,27.1 1.9,26.9 2.1,26.4 2.2,26.1 2.4,25.6 2.5,25.4 2.6,25.1 2.8,24.6 3.0,24.4 3.1,24.1 3.4,23.7 3.6,23.4 3.8,23.1 3.9,22.9 4.1,22.6 4.4,22.3 4.6,22.0 4.9,21.7 5.1,21.4 5.4,21.1 5.6,20.9 5.9,20.6 6.1,20.4 6.4,20.1 6.6,19.9 6.9,19.7 7.1,19.5 7.4,19.3 7.6,19.1 8.0,18.9 8.3,18.6 8.6,18.4 8.9,18.2 9.1,18.1 9.4,17.9 9.8,17.6 10.1,17.4 10.4,17.2 10.6,17.1 10.9,16.9 11.3,16.6 11.6,16.4 11.9,16.2 12.1,16.0 12.4,15.9 12.7,15.6 13.0,15.4 13.4,15.1 13.6,14.9 13.9,14.7 14.1,14.6 14.4,14.4 14.7,14.1 15.1,13.9 15.4,13.7 15.6,13.5 15.9,13.3 16.2,13.1 16.6,12.9 16.9,12.7 17.1,12.5 17.4,12.4 17.8,12.1 18.1,12.0 18.4,11.8 18.7,11.6 19.1,11.4 19.4,11.3 19.7,11.1 20.1,10.9 20.4,10.8 20.9,10.6 21.1,10.6 21.6,10.4 21.9,10.4 22.4,10.3 22.9,10.3 23.4,10.3 23.6,10.4 24.1,10.5 24.4,10.6 24.9,10.9 25.1,11.1 25.4,11.3 25.6,11.6 25.7,11.9 25.9,12.2 26.0,12.6 26.0,13.1 26.0,13.6 25.9,14.0 25.8,14.4 25.6,14.7 25.4,15.1 25.2,15.4 25.0,15.6 24.8,15.9 24.5,16.1 24.2,16.4 23.9,16.6 23.6,16.8 23.4,17.0 23.1,17.2 22.8,17.4 22.4,17.6 22.1,17.8 21.9,18.0 21.6,18.1 21.2,18.4 20.9,18.6 20.6,18.8 20.4,19.0 20.1,19.1 19.8,19.4 19.4,19.6 19.1,19.8 18.9,20.0 18.6,20.2 18.4,20.4 18.0,20.6 17.7,20.9 17.4,21.1 17.1,21.3 16.9,21.5 16.6,21.7 16.4,21.9 16.1,22.1 15.8,22.4 15.5,22.6 15.2,22.9 15.0,23.1 14.7,23.4 14.4,23.6 14.1,23.9 13.9,24.1 13.6,24.3 13.4,24.5 13.1,24.7 12.9,24.9 12.6,25.1 12.3,25.4 12.0,25.6 11.6,25.9 11.4,26.1 11.1,26.3 10.9,26.5 10.6,26.7 10.4,26.9 10.1,27.1 9.9,27.4 9.6,27.7 9.4,28.0 9.2,28.4 9.0,28.6 8.9,28.9 8.7,29.4 8.6,29.6 8.5,30.1 8.4,30.5 8.3,30.9 8.2,31.4 8.1,31.6 8.0,32.1 7.9,32.4 7.7,32.9 7.6,33.1 7.4,33.6 7.3,33.9 7.1,34.2 6.9,34.6 6.7,34.9 6.5,35.1 6.2,35.4 5.9,35.6 5.6,35.8 5.4,35.9ZM24.9,26.5 24.4,26.6 23.9,26.6 23.5,26.4 23.2,26.1 22.9,25.9 22.8,25.6 22.6,25.4 22.4,24.9 22.3,24.6 22.2,24.1 22.2,23.6 22.2,23.1 22.3,22.6 22.4,22.1 22.5,21.9 22.6,21.5 22.9,21.1 23.1,20.9 23.4,20.6 23.6,20.5 24.0,20.4 24.4,20.4 24.6,20.4 25.1,20.6 25.4,20.8 25.6,21.1 25.8,21.4 26.0,21.6 26.1,22.0 26.2,22.4 26.3,22.9 26.4,23.2 26.4,23.6 26.4,23.9 26.3,24.4 26.2,24.9 26.1,25.1 25.9,25.5 25.7,25.9 25.4,26.1 25.1,26.4 24.9,26.5Z" fill="#dde9f8" fill-rule="evenodd" stroke="#8cb0e0" stroke-width="0.45" opacity="1.0"/>
<path d="M5.1,34.7 4.6,34.7 4.2,34.6 3.9,34.5 3.6,34.3 3.4,34.1 3.1,33.9 2.9,33.6 2.6,33.2 2.5,32.9 2.4,32.6 2.2,32.1 2.1,31.7 2.1,31.4 2.0,30.9 2.1,30.4 2.1,29.9 2.1,29.6 2.2,29.1 2.3,28.6 2.4,28.4 2.5,27.9 2.6,27.5 2.8,27.1 2.9,26.8 3.1,26.4 3.2,26.1 3.4,25.7 3.5,25.4 3.7,25.1 3.9,24.8 4.1,24.4 4.3,24.1 4.5,23.9 4.6,23.6 4.9,23.3 5.1,23.0 5.4,22.7 5.6,22.4 5.8,22.1 6.0,21.9 6.3,21.6 6.5,21.4 6.8,21.1 7.0,20.9 7.3,20.6 7.6,20.4 7.9,20.2 8.1,20.0 8.4,19.8 8.6,19.6 9.0,19.4 9.4,19.1 9.6,18.9 9.9,18.8 10.1,18.6 10.5,18.4 10.9,18.1 11.1,18.0 11.4,17.8 11.7,17.6 12.0,17.4 12.4,17.1 12.6,16.9 12.9,16.7 13.1,16.5 13.4,16.3 13.6,16.1 14.0,15.9 14.3,15.6 14.6,15.4 14.9,15.2 15.1,15.0 15.4,14.8 15.6,14.6 15.9,14.4 16.3,14.1 16.6,13.9 16.9,13.8 17.1,13.6 17.5,13.4 17.9,13.1 18.1,13.0 18.4,12.9 18.8,12.6 19.1,12.4 19.4,12.3 19.7,12.1 20.1,11.9 20.4,11.8 20.9,11.6 21.1,11.6 21.6,11.4 22.0,11.4 22.4,11.3 22.9,11.4 23.1,11.4 23.6,11.6 23.9,11.7 24.1,11.9 24.4,12.1 24.6,12.5 24.8,12.9 24.8,13.4 24.7,13.9 24.6,14.2 24.4,14.6 24.3,14.9 24.1,15.1 23.8,15.4 23.6,15.6 23.3,15.9 22.9,16.1 22.6,16.3 22.4,16.5 22.1,16.7 21.8,16.9 21.4,17.1 21.1,17.3 20.9,17.5 20.6,17.6 20.3,17.9 19.9,18.1 19.6,18.3 19.4,18.5 19.1,18.6 18.8,18.9 18.4,19.1 18.1,19.3 17.9,19.4 17.6,19.6 17.2,19.9 16.9,20.1 16.6,20.2 16.4,20.4 16.0,20.6 15.6,20.9 15.4,21.0 15.1,21.2 14.8,21.4 14.5,21.6 14.1,21.9 13.9,22.1 13.6,22.3 13.4,22.5 13.1,22.7 12.8,22.9 12.5,23.1 12.2,23.4 11.9,23.6 11.6,23.8 11.4,24.0 11.1,24.2 10.9,24.4 10.6,24.6 10.3,24.9 10.0,25.1 9.8,25.4 9.5,25.6 9.3,25.9 9.1,26.1 8.9,26.4 8.6,26.7 8.4,27.1 8.3,27.4 8.1,27.6 7.9,28.1 7.9,28.4 7.7,28.9 7.6,29.3 7.6,29.6 7.5,30.1 7.4,30.6 7.4,30.9 7.3,31.4 7.1,31.9 7.1,32.1 6.9,32.6 6.8,32.9 6.6,33.2 6.4,33.6 6.2,33.9 6.0,34.1 5.7,34.4 5.4,34.6 5.1,34.7Z" fill="#c6dbf4" fill-rule="evenodd" stroke="#5c8ad0" stroke-width="0.55" opacity="1.0"/>
<path d="M4.9,33.7 4.4,33.6 4.1,33.6 3.8,33.4 3.6,33.1 3.4,32.9 3.1,32.5 3.0,32.1 2.9,31.8 2.8,31.4 2.7,30.9 2.7,30.4 2.8,29.9 2.8,29.4 2.9,29.1 3.0,28.6 3.1,28.3 3.3,27.9 3.4,27.6 3.6,27.1 3.7,26.9 3.9,26.5 4.1,26.1 4.2,25.9 4.4,25.6 4.6,25.2 4.9,24.9 5.0,24.6 5.2,24.4 5.4,24.1 5.6,23.8 5.9,23.5 6.1,23.2 6.4,22.9 6.6,22.6 6.8,22.4 7.0,22.1 7.3,21.9 7.5,21.6 7.8,21.4 8.1,21.1 8.4,20.9 8.6,20.7 8.9,20.5 9.1,20.4 9.5,20.1 9.9,19.9 10.1,19.7 10.4,19.6 10.7,19.4 11.1,19.1 11.4,18.9 11.6,18.8 11.9,18.6 12.2,18.4 12.6,18.1 12.9,17.9 13.1,17.7 13.4,17.5 13.6,17.3 13.9,17.0 14.1,16.8 14.4,16.6 14.6,16.4 14.9,16.1 15.2,15.9 15.5,15.6 15.8,15.4 16.1,15.2 16.4,15.0 16.6,14.8 16.9,14.6 17.3,14.4 17.6,14.2 17.9,14.0 18.1,13.9 18.5,13.6 18.9,13.4 19.1,13.3 19.4,13.1 19.9,12.9 20.1,12.8 20.5,12.6 20.9,12.5 21.2,12.4 21.6,12.3 22.1,12.2 22.6,12.3 22.9,12.4 23.3,12.6 23.5,12.9 23.7,13.1 23.7,13.6 23.6,14.1 23.5,14.4 23.3,14.6 23.1,14.9 22.9,15.1 22.6,15.4 22.3,15.6 21.9,15.9 21.6,16.1 21.4,16.2 21.1,16.4 20.8,16.6 20.4,16.9 20.1,17.1 19.9,17.2 19.6,17.4 19.3,17.6 18.9,17.9 18.6,18.0 18.4,18.2 18.1,18.4 17.7,18.6 17.4,18.8 17.1,18.9 16.8,19.1 16.4,19.4 16.1,19.5 15.9,19.6 15.4,19.9 15.1,20.0 14.9,20.2 14.5,20.4 14.1,20.6 13.9,20.8 13.6,20.9 13.4,21.1 13.0,21.4 12.7,21.6 12.4,21.9 12.1,22.1 11.9,22.3 11.6,22.5 11.4,22.7 11.1,22.9 10.8,23.1 10.5,23.4 10.2,23.6 9.9,23.9 9.6,24.1 9.4,24.3 9.1,24.6 8.9,24.8 8.6,25.1 8.4,25.4 8.2,25.6 8.0,25.9 7.8,26.1 7.6,26.5 7.4,26.9 7.3,27.1 7.2,27.6 7.1,27.9 7.0,28.4 6.9,28.9 6.9,29.3 6.8,29.6 6.8,30.1 6.7,30.6 6.6,31.1 6.6,31.4 6.4,31.9 6.3,32.1 6.1,32.6 5.9,32.9 5.7,33.1 5.5,33.4 5.1,33.6 4.9,33.7Z" fill="#b4cff0" fill-rule="evenodd" stroke="#3a6cbc" stroke-width="0.7" opacity="1.0"/>
<path d="M13.6,19.4 13.3,19.4 13.4,19.1 13.6,18.7 13.9,18.4 14.1,18.1 14.3,17.9 14.5,17.6 14.7,17.4 14.9,17.1 15.2,16.9 15.4,16.6 15.7,16.4 15.9,16.1 16.2,15.9 16.6,15.6 16.9,15.4 17.1,15.2 17.4,15.0 17.6,14.9 18.0,14.6 18.4,14.4 18.6,14.3 18.9,14.1 19.4,13.9 19.6,13.7 19.9,13.6 20.4,13.4 20.6,13.3 21.1,13.1 21.4,13.1 21.9,13.1 22.1,13.1 22.5,13.4 22.7,13.6 22.6,14.1 22.5,14.4 22.3,14.6 22.1,14.9 21.8,15.1 21.5,15.4 21.1,15.6 20.9,15.8 20.6,16.0 20.4,16.1 20.0,16.4 19.7,16.6 19.4,16.8 19.1,17.0 18.9,17.2 18.5,17.4 18.1,17.6 17.9,17.8 17.6,17.9 17.2,18.1 16.9,18.3 16.6,18.4 16.1,18.6 15.9,18.7 15.5,18.9 15.1,19.0 14.7,19.1 14.4,19.2 13.9,19.3 13.6,19.4ZM5.1,32.7 4.6,32.9 4.1,32.7 3.9,32.5 3.6,32.1 3.5,31.9 3.4,31.5 3.3,31.1 3.2,30.6 3.3,30.1 3.3,29.6 3.4,29.4 3.5,28.9 3.6,28.5 3.8,28.1 3.9,27.9 4.1,27.4 4.3,27.1 4.5,26.9 4.6,26.6 4.9,26.3 5.1,26.0 5.4,25.7 5.6,25.4 5.9,25.1 6.1,24.9 6.3,24.6 6.5,24.4 6.7,24.1 6.9,23.8 7.1,23.5 7.4,23.2 7.6,22.9 7.9,22.6 8.1,22.4 8.4,22.1 8.6,21.9 8.9,21.7 9.1,21.5 9.4,21.3 9.7,21.1 10.1,20.9 10.4,20.7 10.6,20.6 11.1,20.4 11.4,20.3 11.8,20.1 12.1,20.1 12.1,20.4 12.0,20.6 11.7,20.9 11.5,21.1 11.3,21.4 11.0,21.6 10.7,21.9 10.5,22.1 10.2,22.4 9.9,22.6 9.6,22.8 9.4,23.0 9.1,23.2 8.9,23.4 8.6,23.7 8.4,23.9 8.1,24.1 7.9,24.4 7.6,24.7 7.4,25.0 7.1,25.3 7.0,25.6 6.8,25.9 6.7,26.4 6.6,26.6 6.5,27.1 6.4,27.6 6.4,28.1 6.4,28.4 6.3,28.9 6.3,29.4 6.3,29.9 6.2,30.4 6.2,30.9 6.1,31.1 5.9,31.6 5.8,31.9 5.6,32.3 5.4,32.5 5.1,32.7Z" fill="#a6c5ec" fill-rule="evenodd" stroke="#22539e" stroke-width="0.85" opacity="1.0"/>
</g>
<g transform="translate(230.5,190.5)">
<ellipse cx="15.0" cy="16.5" rx="13.5" ry="6.3" transform="rotate(-33 15.0 16.5)" fill="none" stroke="#c87878" stroke-width="0.6"/>
<circle cx="25.8" cy="27.5" r="7.9" fill="none" stroke="#c87878" stroke-width="0.6"/>
<text x="12.2" y="15.0" font-size="6.8" text-anchor="middle" style="font-family:'Liberation Serif',serif;font-weight:bold" fill="#000" stroke="#000" stroke-width="0.18">46</text>
<text x="27.8" y="30.5" font-size="6.8" text-anchor="middle" style="font-family:'Liberation Serif',serif;font-weight:bold" fill="#000" stroke="#000" stroke-width="0.18">11</text>
</g>
<rect x="230.5" y="190.5" width="37" height="36" fill="none" stroke="#a0a0a0" stroke-width="1.2"/>
<clipPath id="k10"><rect x="0" y="0" width="37" height="36"/></clipPath>
<g transform="translate(271.5,190.5)" clip-path="url(#k10)">
<path d="M5.6,35.9 5.1,35.9 4.6,35.9 4.1,35.9 3.7,35.9 3.4,35.7 3.1,35.5 2.9,35.2 2.6,34.9 2.4,34.6 2.2,34.4 2.1,34.1 1.9,33.8 1.7,33.4 1.6,33.1 1.4,32.6 1.4,32.3 1.3,31.9 1.2,31.4 1.2,30.9 1.2,30.4 1.3,29.9 1.3,29.4 1.4,29.1 1.4,28.6 1.6,28.1 1.6,27.9 1.8,27.4 1.9,27.0 2.0,26.6 2.1,26.3 2.3,25.9 2.4,25.6 2.6,25.1 2.8,24.9 2.9,24.6 3.1,24.2 3.3,23.9 3.5,23.6 3.7,23.4 3.9,23.1 4.1,22.7 4.4,22.4 4.6,22.1 4.8,21.9 5.0,21.6 5.2,21.4 5.5,21.1 5.7,20.9 6.0,20.6 6.3,20.4 6.5,20.1 6.9,19.9 7.1,19.7 7.4,19.5 7.6,19.3 7.9,19.1 8.3,18.9 8.6,18.6 8.9,18.5 9.1,18.3 9.5,18.1 9.9,17.9 10.1,17.7 10.4,17.6 10.7,17.4 11.1,17.1 11.4,17.0 11.6,16.9 12.0,16.6 12.4,16.4 12.6,16.3 12.9,16.1 13.3,15.9 13.6,15.7 13.9,15.6 14.2,15.4 14.6,15.2 14.9,15.0 15.2,14.9 15.6,14.7 15.9,14.5 16.2,14.4 16.6,14.2 16.9,14.1 17.3,13.9 17.6,13.7 17.9,13.6 18.4,13.4 18.6,13.4 19.1,13.2 19.4,13.1 19.9,13.0 20.4,12.9 20.8,12.9 21.1,12.9 21.5,12.9 21.9,12.9 22.4,13.0 22.7,13.1 23.1,13.3 23.4,13.5 23.6,13.7 23.9,13.9 24.1,14.3 24.3,14.6 24.4,15.0 24.4,15.4 24.4,15.9 24.4,16.3 24.3,16.6 24.1,17.1 24.0,17.4 23.8,17.6 23.6,17.9 23.4,18.2 23.1,18.5 22.9,18.7 22.6,18.9 22.3,19.1 21.9,19.4 21.6,19.6 21.4,19.7 21.0,19.9 20.6,20.1 20.4,20.2 20.0,20.4 19.6,20.6 19.4,20.7 19.1,20.9 18.6,21.1 18.4,21.3 18.1,21.4 17.7,21.6 17.4,21.8 17.1,22.0 16.9,22.1 16.5,22.4 16.1,22.6 15.9,22.8 15.6,23.0 15.4,23.2 15.1,23.4 14.8,23.6 14.5,23.9 14.2,24.1 13.9,24.4 13.6,24.6 13.4,24.8 13.1,25.0 12.9,25.2 12.6,25.4 12.3,25.6 12.0,25.9 11.6,26.1 11.4,26.3 11.1,26.5 10.9,26.7 10.6,26.9 10.4,27.1 10.1,27.4 9.9,27.7 9.6,28.0 9.4,28.4 9.2,28.6 9.1,28.9 8.9,29.4 8.8,29.6 8.7,30.1 8.6,30.4 8.5,30.9 8.4,31.4 8.3,31.6 8.2,32.1 8.1,32.4 8.0,32.9 7.9,33.1 7.6,33.6 7.5,33.9 7.4,34.1 7.1,34.6 6.9,34.9 6.7,35.1 6.5,35.4 6.2,35.6 5.9,35.8 5.6,35.9ZM24.1,28.0 23.6,28.1 23.1,28.1 22.7,27.9 22.4,27.6 22.2,27.4 22.1,27.1 21.9,26.7 21.8,26.4 21.8,25.9 21.8,25.4 21.9,25.1 22.1,24.6 22.3,24.4 22.6,24.1 22.9,24.0 23.1,23.9 23.6,23.8 23.9,23.9 24.3,24.1 24.6,24.4 24.8,24.6 24.9,24.9 25.1,25.4 25.1,25.6 25.2,26.1 25.1,26.5 25.0,26.9 24.9,27.2 24.6,27.6 24.4,27.8 24.1,28.0Z" fill="#dde9f8" fill-rule="evenodd" stroke="#8cb0e0" stroke-width="0.45" opacity="1.0"/>
<path d="M5.4,34.7 4.9,34.8 4.4,34.8 4.0,34.6 3.6,34.4 3.4,34.2 3.1,33.9 2.9,33.6 2.7,33.4 2.6,33.1 2.4,32.6 2.3,32.4 2.2,31.9 2.1,31.4 2.1,31.1 2.1,30.6 2.1,30.1 2.1,29.9 2.2,29.4 2.3,28.9 2.4,28.5 2.5,28.1 2.6,27.6 2.7,27.4 2.9,26.9 3.0,26.6 3.1,26.3 3.3,25.9 3.5,25.6 3.6,25.3 3.9,24.9 4.0,24.6 4.2,24.4 4.4,24.1 4.6,23.8 4.9,23.4 5.1,23.1 5.3,22.9 5.5,22.6 5.7,22.4 5.9,22.1 6.2,21.9 6.4,21.6 6.7,21.4 7.0,21.1 7.2,20.9 7.6,20.6 7.9,20.4 8.1,20.2 8.4,20.0 8.6,19.9 9.0,19.6 9.4,19.4 9.6,19.2 9.9,19.1 10.2,18.9 10.6,18.6 10.9,18.5 11.1,18.3 11.5,18.1 11.9,17.9 12.1,17.7 12.4,17.6 12.7,17.4 13.1,17.1 13.4,17.0 13.6,16.8 13.9,16.6 14.4,16.4 14.6,16.2 14.9,16.1 15.3,15.9 15.6,15.7 15.9,15.6 16.3,15.4 16.6,15.2 16.9,15.1 17.3,14.9 17.6,14.7 17.9,14.6 18.4,14.4 18.6,14.4 19.1,14.2 19.4,14.1 19.9,14.0 20.4,13.9 20.9,13.9 21.4,14.0 21.9,14.1 22.1,14.2 22.4,14.4 22.7,14.6 22.9,14.9 23.1,15.4 23.2,15.6 23.2,16.1 23.1,16.4 23.0,16.9 22.8,17.1 22.6,17.4 22.4,17.7 22.1,17.9 21.9,18.1 21.6,18.4 21.2,18.6 20.9,18.8 20.6,18.9 20.2,19.1 19.9,19.3 19.6,19.4 19.2,19.6 18.9,19.8 18.6,19.9 18.2,20.1 17.9,20.3 17.6,20.4 17.2,20.6 16.9,20.8 16.6,20.9 16.2,21.1 15.9,21.3 15.6,21.4 15.2,21.6 14.9,21.8 14.6,21.9 14.3,22.1 13.9,22.4 13.6,22.5 13.4,22.7 13.0,22.9 12.6,23.1 12.4,23.3 12.1,23.5 11.9,23.6 11.5,23.9 11.2,24.1 10.9,24.4 10.6,24.6 10.4,24.8 10.1,25.0 9.9,25.2 9.6,25.5 9.4,25.7 9.1,26.0 8.9,26.3 8.7,26.6 8.5,26.9 8.4,27.2 8.2,27.6 8.1,27.9 7.9,28.4 7.9,28.7 7.8,29.1 7.7,29.6 7.6,30.1 7.6,30.4 7.5,30.9 7.4,31.4 7.4,31.7 7.3,32.1 7.1,32.5 7.0,32.9 6.8,33.1 6.6,33.5 6.4,33.9 6.2,34.1 5.9,34.4 5.6,34.6 5.4,34.7Z" fill="#c6dbf4" fill-rule="evenodd" stroke="#5c8ad0" stroke-width="0.55" opacity="1.0"/>
<path d="M5.1,33.7 4.6,33.8 4.2,33.6 3.9,33.4 3.6,33.2 3.4,32.9 3.2,32.6 3.1,32.4 2.9,31.9 2.9,31.6 2.8,31.1 2.8,30.6 2.8,30.1 2.8,29.6 2.9,29.4 3.0,28.9 3.1,28.4 3.2,28.1 3.4,27.7 3.5,27.4 3.6,27.1 3.9,26.6 4.0,26.4 4.2,26.1 4.4,25.8 4.6,25.4 4.8,25.1 5.0,24.9 5.2,24.6 5.4,24.3 5.6,24.0 5.9,23.7 6.1,23.4 6.3,23.1 6.5,22.9 6.8,22.6 7.0,22.4 7.3,22.1 7.5,21.9 7.8,21.6 8.1,21.4 8.4,21.2 8.6,21.0 8.9,20.8 9.2,20.6 9.5,20.4 9.9,20.2 10.1,20.0 10.4,19.9 10.8,19.6 11.1,19.4 11.4,19.3 11.6,19.1 12.0,18.9 12.4,18.6 12.6,18.5 12.9,18.3 13.1,18.1 13.5,17.9 13.9,17.6 14.1,17.5 14.4,17.3 14.7,17.1 15.1,16.9 15.4,16.7 15.6,16.6 16.0,16.4 16.4,16.2 16.6,16.1 17.0,15.9 17.4,15.7 17.6,15.6 18.1,15.4 18.4,15.3 18.9,15.1 19.1,15.0 19.6,14.9 19.9,14.9 20.4,14.8 20.9,14.9 21.1,14.9 21.5,15.1 21.8,15.4 21.9,15.6 22.0,16.1 21.9,16.6 21.8,16.9 21.6,17.1 21.4,17.4 21.1,17.6 20.8,17.9 20.4,18.1 20.1,18.3 19.9,18.4 19.4,18.6 19.1,18.8 18.9,18.9 18.4,19.1 18.1,19.3 17.9,19.4 17.4,19.6 17.1,19.7 16.8,19.9 16.4,20.1 16.1,20.2 15.7,20.4 15.4,20.5 15.1,20.6 14.6,20.8 14.4,21.0 14.0,21.1 13.6,21.3 13.4,21.4 13.0,21.6 12.6,21.8 12.4,22.0 12.1,22.2 11.8,22.4 11.4,22.6 11.1,22.8 10.9,23.0 10.6,23.2 10.4,23.4 10.1,23.6 9.7,23.9 9.4,24.1 9.2,24.4 8.9,24.6 8.7,24.9 8.5,25.1 8.3,25.4 8.1,25.6 7.9,25.9 7.6,26.4 7.5,26.6 7.4,27.0 7.3,27.4 7.2,27.9 7.1,28.1 7.1,28.6 7.0,29.1 7.0,29.6 6.9,30.1 6.9,30.5 6.8,30.9 6.7,31.4 6.6,31.8 6.5,32.1 6.4,32.4 6.1,32.9 5.9,33.1 5.7,33.4 5.4,33.6 5.1,33.7Z" fill="#b4cff0" fill-rule="evenodd" stroke="#3a6cbc" stroke-width="0.7" opacity="1.0"/>
<path d="M13.1,20.1 12.9,20.1 12.9,19.8 13.1,19.5 13.4,19.2 13.6,19.0 13.9,18.7 14.1,18.5 14.4,18.3 14.6,18.1 15.0,17.9 15.3,17.6 15.6,17.4 15.9,17.3 16.1,17.1 16.6,16.9 16.9,16.7 17.1,16.6 17.6,16.4 17.9,16.3 18.2,16.1 18.6,16.0 18.9,15.9 19.4,15.8 19.9,15.7 20.4,15.8 20.6,15.9 20.8,16.4 20.6,16.9 20.4,17.1 20.1,17.4 19.9,17.5 19.6,17.7 19.3,17.9 18.9,18.1 18.6,18.2 18.3,18.4 17.9,18.6 17.6,18.7 17.2,18.9 16.9,19.0 16.6,19.1 16.1,19.3 15.9,19.4 15.4,19.6 15.1,19.7 14.6,19.8 14.4,19.9 13.9,20.0 13.4,20.1 13.1,20.1ZM4.9,32.9 4.4,32.9 4.1,32.7 3.9,32.5 3.6,32.1 3.5,31.9 3.4,31.5 3.3,31.1 3.3,30.6 3.3,30.1 3.4,29.6 3.4,29.4 3.5,28.9 3.6,28.6 3.8,28.1 3.9,27.9 4.1,27.5 4.4,27.1 4.6,26.9 4.8,26.6 5.0,26.4 5.2,26.1 5.5,25.9 5.8,25.6 6.1,25.4 6.4,25.2 6.6,25.4 6.6,25.6 6.5,26.1 6.5,26.6 6.4,27.1 6.4,27.6 6.4,28.1 6.4,28.6 6.4,29.1 6.4,29.6 6.4,30.1 6.4,30.4 6.3,30.9 6.2,31.4 6.1,31.6 5.9,32.1 5.7,32.4 5.5,32.6 5.1,32.9 4.9,32.9Z" fill="#a6c5ec" fill-rule="evenodd" stroke="#22539e" stroke-width="0.85" opacity="1.0"/>
</g>
<g transform="translate(271.5,190.5)">
<ellipse cx="15.0" cy="16.5" rx="13.5" ry="6.3" transform="rotate(-33 15.0 16.5)" fill="none" stroke="#c87878" stroke-width="0.6"/>
<circle cx="25.8" cy="27.5" r="7.9" fill="none" stroke="#c87878" stroke-width="0.6"/>
<text x="12.2" y="15.0" font-size="6.8" text-anchor="middle" style="font-family:'Liberation Serif',serif;font-weight:bold" fill="#000" stroke="#000" stroke-width="0.18">57</text>
<text x="27.8" y="30.5" font-size="6.8" text-anchor="middle" style="font-family:'Liberation Serif',serif;font-weight:bold" fill="#000" stroke="#000" stroke-width="0.18">6</text>
</g>
<rect x="271.5" y="190.5" width="37" height="36" fill="none" stroke="#a0a0a0" stroke-width="1.2"/>
<clipPath id="k11"><rect x="0" y="0" width="37" height="36"/></clipPath>
<g transform="translate(312.5,190.5)" clip-path="url(#k11)">
<path d="M5.1,34.9 4.6,35.0 4.1,35.0 3.6,34.9 3.4,34.8 3.0,34.6 2.7,34.4 2.4,34.1 2.2,33.9 2.1,33.6 1.9,33.2 1.8,32.9 1.6,32.4 1.6,32.1 1.6,31.6 1.6,31.1 1.6,30.6 1.7,30.4 1.7,29.9 1.8,29.4 1.9,29.1 2.0,28.6 2.1,28.3 2.3,27.9 2.4,27.6 2.5,27.1 2.6,26.9 2.8,26.4 3.0,26.1 3.1,25.8 3.3,25.4 3.5,25.1 3.6,24.9 3.9,24.5 4.1,24.1 4.3,23.9 4.4,23.6 4.6,23.3 4.9,23.0 5.1,22.6 5.3,22.4 5.4,22.1 5.6,21.7 5.8,21.4 5.8,20.9 5.7,20.4 5.5,20.1 5.3,19.9 5.1,19.6 4.9,19.2 4.7,18.9 4.6,18.6 4.5,18.1 4.5,17.6 4.6,17.1 4.7,16.9 4.9,16.5 5.1,16.1 5.4,15.9 5.6,15.6 5.9,15.4 6.1,15.2 6.4,15.1 6.8,14.9 7.1,14.7 7.4,14.6 7.9,14.4 8.1,14.3 8.6,14.2 8.9,14.1 9.4,13.9 9.6,13.8 10.1,13.7 10.4,13.6 10.9,13.4 11.1,13.3 11.6,13.1 11.9,13.0 12.3,12.9 12.6,12.7 12.9,12.6 13.4,12.4 13.6,12.4 14.1,12.2 14.4,12.1 14.9,11.9 15.1,11.8 15.6,11.6 15.9,11.5 16.3,11.4 16.6,11.3 17.1,11.1 17.4,11.1 17.9,11.0 18.4,10.9 18.9,10.9 18.9,10.9 19.4,10.9 19.9,11.0 20.3,11.1 20.6,11.3 20.9,11.4 21.1,11.6 21.4,11.9 21.6,12.3 21.8,12.6 21.9,12.9 22.0,13.4 21.9,13.9 21.9,14.1 21.7,14.6 21.6,14.9 21.4,15.1 21.1,15.5 20.9,15.7 20.6,15.9 20.4,16.1 20.0,16.4 19.6,16.6 19.4,16.7 19.0,16.9 18.6,17.1 18.4,17.2 17.9,17.4 17.6,17.5 17.4,17.6 16.9,17.9 16.6,18.0 16.3,18.1 15.9,18.4 15.6,18.5 15.4,18.6 15.0,18.9 14.8,19.1 14.6,19.4 14.4,19.8 14.3,20.1 14.2,20.6 14.2,21.1 14.1,21.4 14.0,21.9 13.9,22.4 13.8,22.6 13.6,23.0 13.5,23.4 13.3,23.6 13.1,24.0 12.9,24.3 12.6,24.6 12.4,24.9 12.2,25.1 12.0,25.4 11.8,25.6 11.5,25.9 11.3,26.1 11.0,26.4 10.8,26.6 10.6,26.9 10.3,27.1 10.1,27.4 9.9,27.6 9.6,27.9 9.4,28.2 9.1,28.6 8.9,28.9 8.8,29.1 8.6,29.4 8.4,29.9 8.3,30.1 8.1,30.6 8.0,30.9 7.9,31.3 7.8,31.6 7.6,32.0 7.5,32.4 7.4,32.6 7.1,33.1 7.0,33.4 6.8,33.6 6.6,33.9 6.4,34.2 6.1,34.4 5.8,34.6 5.4,34.8 5.1,34.9ZM22.9,27.7 22.4,27.8 21.9,27.6 21.7,27.4 21.6,27.1 21.5,26.6 21.5,26.1 21.6,25.7 21.9,25.4 22.1,25.2 22.4,25.1 22.6,25.1 23.1,25.4 23.3,25.6 23.4,25.9 23.5,26.4 23.5,26.9 23.4,27.2 23.1,27.5 22.9,27.7Z" fill="#dde9f8" fill-rule="evenodd" stroke="#8cb0e0" stroke-width="0.45" opacity="1.0"/>
<path d="M4.9,33.7 4.4,33.8 3.9,33.7 3.6,33.5 3.4,33.4 3.1,33.1 2.9,32.7 2.8,32.4 2.6,31.9 2.6,31.6 2.6,31.1 2.6,30.7 2.7,30.4 2.7,29.9 2.9,29.4 2.9,29.1 3.1,28.6 3.1,28.4 3.3,27.9 3.4,27.6 3.6,27.1 3.7,26.9 3.9,26.5 4.1,26.1 4.2,25.9 4.4,25.6 4.6,25.2 4.8,24.9 5.0,24.6 5.1,24.4 5.4,24.0 5.6,23.7 5.8,23.4 6.0,23.1 6.2,22.9 6.4,22.6 6.6,22.2 6.8,21.9 6.9,21.6 7.1,21.2 7.2,20.9 7.2,20.4 7.1,20.1 6.9,19.7 6.6,19.5 6.4,19.2 6.1,18.9 6.0,18.6 5.8,18.4 5.8,17.9 5.8,17.4 5.9,17.1 6.1,16.7 6.4,16.4 6.6,16.2 6.9,16.0 7.1,15.8 7.5,15.6 7.9,15.5 8.1,15.4 8.6,15.2 8.9,15.1 9.4,14.9 9.6,14.8 10.1,14.7 10.4,14.6 10.9,14.4 11.1,14.3 11.6,14.2 11.9,14.1 12.4,13.9 12.6,13.8 13.0,13.6 13.4,13.5 13.7,13.4 14.1,13.2 14.4,13.1 14.9,12.9 15.1,12.8 15.6,12.7 15.9,12.6 16.4,12.4 16.6,12.3 17.1,12.2 17.4,12.1 17.9,12.0 18.4,12.0 18.9,12.0 19.4,12.1 19.6,12.2 20.0,12.4 20.3,12.6 20.5,12.9 20.6,13.4 20.6,13.6 20.6,13.9 20.4,14.4 20.3,14.6 20.1,14.9 19.8,15.1 19.5,15.4 19.1,15.6 18.9,15.8 18.6,15.9 18.1,16.1 17.9,16.2 17.5,16.4 17.1,16.6 16.9,16.7 16.4,16.9 16.1,17.0 15.8,17.1 15.4,17.3 15.1,17.4 14.7,17.6 14.4,17.8 14.1,17.9 13.8,18.1 13.5,18.4 13.3,18.6 13.1,18.9 12.9,19.4 12.8,19.6 12.7,20.1 12.7,20.6 12.6,20.9 12.5,21.4 12.4,21.6 12.2,22.1 12.0,22.4 11.9,22.7 11.6,23.1 11.4,23.4 11.2,23.6 11.1,23.9 10.9,24.1 10.6,24.5 10.4,24.8 10.1,25.1 9.9,25.4 9.7,25.6 9.5,25.9 9.3,26.1 9.1,26.4 8.9,26.7 8.6,27.1 8.4,27.4 8.3,27.6 8.1,27.9 7.9,28.3 7.7,28.6 7.6,28.9 7.4,29.4 7.3,29.6 7.2,30.1 7.1,30.4 6.9,30.9 6.8,31.1 6.7,31.6 6.6,31.9 6.4,32.3 6.2,32.6 6.0,32.9 5.8,33.1 5.5,33.4 5.1,33.6 4.9,33.7Z" fill="#c6dbf4" fill-rule="evenodd" stroke="#5c8ad0" stroke-width="0.55" opacity="1.0"/>
<path d="M4.6,32.4 4.3,32.4 4.0,32.1 3.8,31.9 3.6,31.4 3.6,31.1 3.6,30.6 3.6,30.2 3.7,29.9 3.8,29.4 3.9,29.1 4.0,28.6 4.1,28.3 4.3,27.9 4.4,27.6 4.6,27.1 4.7,26.9 4.9,26.6 5.1,26.2 5.3,25.9 5.5,25.6 5.6,25.4 5.9,25.0 6.1,24.6 6.3,24.4 6.5,24.1 6.6,23.9 6.9,23.5 7.1,23.2 7.3,22.9 7.5,22.6 7.7,22.4 7.9,22.1 8.1,21.6 8.3,21.4 8.4,21.1 8.6,20.6 8.7,20.4 8.7,19.9 8.6,19.6 8.4,19.3 8.1,19.1 7.9,18.9 7.6,18.6 7.3,18.4 7.1,18.0 7.1,17.6 7.1,17.4 7.4,17.0 7.6,16.7 7.9,16.6 8.2,16.4 8.6,16.2 8.9,16.1 9.4,15.9 9.6,15.8 10.1,15.6 10.4,15.5 10.9,15.4 11.1,15.3 11.6,15.1 11.9,15.0 12.3,14.9 12.6,14.8 13.0,14.6 13.4,14.5 13.7,14.4 14.1,14.2 14.4,14.1 14.9,13.9 15.1,13.8 15.6,13.7 15.9,13.6 16.4,13.4 16.6,13.4 17.1,13.2 17.6,13.1 17.9,13.1 18.2,13.1 18.6,13.2 18.9,13.4 19.1,13.9 18.9,14.3 18.6,14.6 18.4,14.8 18.1,15.0 17.8,15.1 17.4,15.3 17.1,15.5 16.8,15.6 16.4,15.8 16.1,15.9 15.6,16.1 15.4,16.2 15.0,16.4 14.6,16.5 14.4,16.6 13.9,16.9 13.6,17.0 13.4,17.1 13.0,17.4 12.6,17.6 12.4,17.9 12.1,18.1 11.9,18.4 11.8,18.6 11.6,19.1 11.6,19.4 11.5,19.9 11.5,20.4 11.4,20.9 11.3,21.1 11.2,21.6 11.0,21.9 10.9,22.2 10.6,22.6 10.4,22.9 10.3,23.1 10.1,23.4 9.9,23.7 9.6,24.0 9.4,24.3 9.1,24.6 8.9,24.9 8.7,25.1 8.6,25.4 8.4,25.6 8.1,26.0 7.9,26.3 7.7,26.6 7.5,26.9 7.4,27.1 7.1,27.6 7.0,27.9 6.9,28.2 6.7,28.6 6.6,28.9 6.4,29.4 6.3,29.6 6.2,30.1 6.1,30.4 5.9,30.9 5.8,31.1 5.6,31.5 5.4,31.9 5.2,32.1 4.9,32.3 4.6,32.4Z" fill="#b4cff0" fill-rule="evenodd" stroke="#3a6cbc" stroke-width="0.7" opacity="1.0"/>
<path d="M10.4,17.7 9.9,17.9 9.4,17.7 9.3,17.4 9.6,17.1 9.9,17.0 10.1,16.9 10.6,16.8 10.9,16.9 10.9,17.2 10.6,17.5 10.4,17.7Z" fill="#a6c5ec" fill-rule="evenodd" stroke="#22539e" stroke-width="0.85" opacity="1.0"/>
</g>
<g transform="translate(312.5,190.5)">
<ellipse cx="15.0" cy="16.5" rx="13.5" ry="6.3" transform="rotate(-33 15.0 16.5)" fill="none" stroke="#c87878" stroke-width="0.6"/>
<circle cx="25.8" cy="27.5" r="7.9" fill="none" stroke="#c87878" stroke-width="0.6"/>
<text x="12.2" y="15.0" font-size="6.8" text-anchor="middle" style="font-family:'Liberation Serif',serif;font-weight:bold" fill="#000" stroke="#000" stroke-width="0.18">55</text>
<text x="27.8" y="30.5" font-size="6.8" text-anchor="middle" style="font-family:'Liberation Serif',serif;font-weight:bold" fill="#000" stroke="#000" stroke-width="0.18">4</text>
</g>
<rect x="312.5" y="190.5" width="37" height="36" fill="none" stroke="#a0a0a0" stroke-width="1.2"/>
<clipPath id="k12"><rect x="0" y="0" width="37" height="36"/></clipPath>
<g transform="translate(353.5,190.5)" clip-path="url(#k12)">
<path d="M5.6,34.9 5.1,35.1 4.6,35.0 4.3,34.9 4.0,34.6 3.7,34.4 3.5,34.1 3.4,33.9 3.1,33.4 3.0,33.1 2.9,32.8 2.7,32.4 2.6,31.9 2.6,31.6 2.5,31.1 2.4,30.6 2.4,30.4 2.3,29.9 2.3,29.4 2.3,28.9 2.3,28.4 2.3,27.9 2.3,27.4 2.3,26.9 2.2,26.4 2.2,25.9 2.1,25.6 2.0,25.1 1.9,24.6 1.9,24.1 1.9,23.9 1.8,23.4 1.9,22.9 1.9,22.6 2.0,22.1 2.1,21.8 2.3,21.4 2.4,21.1 2.6,20.7 2.9,20.4 3.0,20.1 3.2,19.9 3.4,19.6 3.7,19.4 3.9,19.1 4.2,18.9 4.4,18.6 4.7,18.4 5.0,18.1 5.4,17.9 5.6,17.7 5.9,17.5 6.1,17.3 6.4,17.1 6.8,16.9 7.1,16.6 7.4,16.5 7.6,16.3 7.9,16.1 8.3,15.9 8.6,15.7 8.9,15.5 9.2,15.4 9.6,15.1 9.9,15.0 10.1,14.8 10.5,14.6 10.9,14.4 11.1,14.3 11.4,14.1 11.9,13.9 12.1,13.7 12.4,13.6 12.8,13.4 13.1,13.2 13.4,13.1 13.9,12.9 14.1,12.8 14.4,12.6 14.9,12.4 15.1,12.3 15.6,12.1 15.9,12.0 16.1,11.9 16.6,11.7 16.9,11.6 17.4,11.4 17.6,11.3 18.1,11.1 18.4,11.0 18.9,10.9 19.1,10.8 19.6,10.7 20.1,10.7 20.6,10.7 21.1,10.7 21.6,10.8 21.9,10.9 22.4,11.1 22.6,11.3 22.9,11.5 23.1,11.8 23.4,12.1 23.5,12.4 23.6,12.6 23.8,13.1 23.8,13.6 23.8,14.1 23.6,14.6 23.5,14.9 23.4,15.2 23.1,15.6 22.9,15.9 22.6,16.1 22.4,16.4 22.1,16.6 21.9,16.8 21.6,16.9 21.3,17.1 20.9,17.4 20.6,17.5 20.4,17.6 19.9,17.9 19.6,18.0 19.4,18.1 18.9,18.4 18.6,18.5 18.4,18.7 18.0,18.9 17.6,19.1 17.4,19.2 17.1,19.4 16.7,19.6 16.4,19.8 16.1,19.9 15.8,20.1 15.4,20.4 15.1,20.5 14.9,20.7 14.5,20.9 14.1,21.1 13.9,21.2 13.6,21.4 13.2,21.6 12.9,21.8 12.6,22.0 12.4,22.2 12.0,22.4 11.6,22.6 11.4,22.8 11.1,23.0 10.9,23.1 10.5,23.4 10.2,23.6 9.9,23.9 9.6,24.1 9.4,24.3 9.1,24.5 8.9,24.8 8.6,25.1 8.4,25.4 8.2,25.6 8.1,25.9 7.9,26.4 7.8,26.6 7.7,27.1 7.7,27.6 7.7,28.1 7.7,28.6 7.7,29.1 7.7,29.6 7.7,30.1 7.6,30.5 7.6,30.9 7.5,31.4 7.4,31.9 7.3,32.1 7.2,32.6 7.1,32.9 6.9,33.4 6.8,33.6 6.6,33.9 6.4,34.2 6.1,34.5 5.9,34.8 5.6,34.9Z" fill="#dde9f8" fill-rule="evenodd" stroke="#8cb0e0" stroke-width="0.45" opacity="1.0"/>
<path d="M5.4,26.5 4.9,26.5 4.6,26.3 4.4,26.1 4.1,25.8 3.9,25.4 3.7,25.1 3.6,24.9 3.4,24.4 3.3,24.1 3.2,23.6 3.1,23.1 3.2,22.6 3.3,22.1 3.4,21.9 3.6,21.4 3.7,21.1 3.9,20.9 4.1,20.5 4.4,20.2 4.6,20.0 4.9,19.7 5.1,19.5 5.4,19.2 5.6,19.0 5.9,18.8 6.1,18.6 6.4,18.4 6.8,18.1 7.1,17.9 7.4,17.7 7.6,17.5 7.9,17.4 8.2,17.1 8.6,16.9 8.9,16.7 9.1,16.6 9.5,16.4 9.9,16.1 10.1,16.0 10.4,15.9 10.8,15.6 11.1,15.4 11.4,15.3 11.7,15.1 12.1,14.9 12.4,14.8 12.7,14.6 13.1,14.4 13.4,14.3 13.7,14.1 14.1,13.9 14.4,13.8 14.8,13.6 15.1,13.5 15.4,13.3 15.9,13.1 16.1,13.0 16.5,12.9 16.9,12.7 17.1,12.6 17.6,12.4 17.9,12.3 18.4,12.1 18.6,12.1 19.1,11.9 19.4,11.9 19.9,11.8 20.4,11.8 20.9,11.9 21.1,11.9 21.5,12.1 21.9,12.4 22.1,12.6 22.3,12.9 22.4,13.1 22.5,13.6 22.5,14.1 22.4,14.5 22.2,14.9 22.0,15.1 21.8,15.4 21.6,15.6 21.3,15.9 20.9,16.1 20.6,16.3 20.4,16.5 20.1,16.6 19.6,16.9 19.4,17.0 19.1,17.1 18.7,17.4 18.4,17.5 18.1,17.7 17.7,17.9 17.4,18.1 17.1,18.2 16.8,18.4 16.4,18.6 16.1,18.8 15.9,18.9 15.5,19.1 15.1,19.4 14.9,19.5 14.6,19.7 14.3,19.9 13.9,20.1 13.6,20.2 13.4,20.4 13.0,20.6 12.6,20.9 12.4,21.0 12.1,21.2 11.8,21.4 11.4,21.6 11.1,21.8 10.9,22.0 10.6,22.1 10.3,22.4 9.9,22.6 9.6,22.8 9.4,23.0 9.1,23.2 8.9,23.4 8.6,23.6 8.3,23.9 8.1,24.1 7.8,24.4 7.5,24.6 7.2,24.9 7.0,25.1 6.7,25.4 6.4,25.6 6.1,25.9 5.9,26.1 5.6,26.3 5.4,26.5Z" fill="#c6dbf4" fill-rule="evenodd" stroke="#5c8ad0" stroke-width="0.55" opacity="1.0"/>
<path d="M5.6,24.4 5.4,24.4 4.9,24.2 4.6,24.0 4.4,23.6 4.3,23.4 4.2,22.9 4.3,22.4 4.4,22.0 4.5,21.6 4.7,21.4 4.9,21.1 5.1,20.7 5.4,20.5 5.6,20.2 5.9,19.9 6.1,19.7 6.4,19.5 6.6,19.3 6.9,19.1 7.2,18.9 7.5,18.6 7.9,18.4 8.1,18.2 8.4,18.0 8.6,17.9 9.0,17.6 9.4,17.4 9.6,17.3 9.9,17.1 10.3,16.9 10.6,16.7 10.9,16.5 11.2,16.4 11.6,16.1 11.9,16.0 12.1,15.9 12.6,15.6 12.9,15.5 13.1,15.4 13.6,15.1 13.9,15.0 14.1,14.9 14.6,14.7 14.9,14.5 15.3,14.4 15.6,14.2 15.9,14.1 16.4,13.9 16.6,13.8 17.1,13.6 17.4,13.5 17.7,13.4 18.1,13.2 18.4,13.1 18.9,13.0 19.4,12.9 19.6,12.9 20.1,12.9 20.4,12.9 20.8,13.1 21.1,13.4 21.2,13.6 21.2,14.1 21.1,14.5 20.9,14.9 20.6,15.1 20.4,15.3 20.1,15.5 19.9,15.7 19.6,15.9 19.1,16.1 18.9,16.2 18.6,16.4 18.2,16.6 17.9,16.8 17.6,16.9 17.3,17.1 16.9,17.4 16.6,17.5 16.4,17.6 16.0,17.9 15.6,18.1 15.4,18.2 15.1,18.4 14.7,18.6 14.4,18.8 14.1,19.0 13.9,19.1 13.5,19.4 13.1,19.6 12.9,19.7 12.6,19.9 12.2,20.1 11.9,20.4 11.6,20.5 11.4,20.7 11.1,20.9 10.7,21.1 10.4,21.3 10.1,21.5 9.9,21.7 9.6,21.9 9.2,22.1 8.9,22.4 8.6,22.6 8.4,22.8 8.1,23.0 7.9,23.2 7.6,23.4 7.3,23.6 6.9,23.9 6.6,24.1 6.4,24.2 5.9,24.4 5.6,24.4Z" fill="#b4cff0" fill-rule="evenodd" stroke="#3a6cbc" stroke-width="0.7" opacity="1.0"/>
<path d="M6.1,23.2 5.7,23.1 5.4,22.9 5.3,22.6 5.3,22.1 5.4,21.9 5.6,21.4 5.8,21.1 6.0,20.9 6.2,20.6 6.5,20.4 6.8,20.1 7.1,19.9 7.4,19.6 7.6,19.4 7.9,19.2 8.1,19.0 8.4,18.9 8.7,18.6 9.1,18.4 9.4,18.2 9.6,18.1 10.0,17.9 10.4,17.6 10.6,17.5 10.9,17.4 11.3,17.1 11.6,17.0 11.9,16.9 12.3,16.6 12.6,16.5 12.9,16.3 13.3,16.1 13.6,16.0 13.9,15.9 14.4,15.7 14.6,15.5 15.0,15.4 15.4,15.2 15.7,15.1 16.1,15.0 16.4,14.9 16.9,14.7 17.1,14.6 17.6,14.5 17.9,14.4 18.4,14.3 18.9,14.2 19.3,14.4 19.1,14.8 18.9,15.0 18.6,15.2 18.4,15.4 18.0,15.6 17.6,15.9 17.4,16.0 17.1,16.2 16.8,16.4 16.5,16.6 16.1,16.8 15.9,17.0 15.6,17.2 15.3,17.4 14.9,17.6 14.6,17.8 14.4,17.9 14.1,18.1 13.7,18.4 13.4,18.6 13.1,18.7 12.9,18.9 12.5,19.1 12.1,19.4 11.9,19.5 11.6,19.7 11.3,19.9 11.0,20.1 10.6,20.4 10.4,20.5 10.1,20.7 9.8,20.9 9.5,21.1 9.1,21.4 8.9,21.5 8.6,21.7 8.4,21.9 8.0,22.1 7.7,22.4 7.4,22.6 7.1,22.8 6.9,22.9 6.4,23.1 6.1,23.2Z" fill="#a6c5ec" fill-rule="evenodd" stroke="#22539e" stroke-width="0.85" opacity="1.0"/>
</g>
<g transform="translate(353.5,190.5)">
<ellipse cx="15.0" cy="16.5" rx="13.5" ry="6.3" transform="rotate(-33 15.0 16.5)" fill="none" stroke="#c87878" stroke-width="0.6"/>
<circle cx="25.8" cy="27.5" r="7.9" fill="none" stroke="#c87878" stroke-width="0.6"/>
<text x="12.2" y="15.0" font-size="6.8" text-anchor="middle" style="font-family:'Liberation Serif',serif;font-weight:bold" fill="#000" stroke="#000" stroke-width="0.18">72</text>
<text x="27.8" y="30.5" font-size="6.8" text-anchor="middle" style="font-family:'Liberation Serif',serif;font-weight:bold" fill="#000" stroke="#000" stroke-width="0.18">3</text>
</g>
<rect x="353.5" y="190.5" width="37" height="36" fill="none" stroke="#a0a0a0" stroke-width="1.2"/>
<clipPath id="k13"><rect x="0" y="0" width="37" height="36"/></clipPath>
<g transform="translate(230.5,231.5)" clip-path="url(#k13)">
<path d="M21.4,35.9 20.9,35.9 20.4,35.9 19.9,35.9 19.4,35.9 19.1,35.7 18.9,35.4 18.8,35.1 18.6,34.9 18.4,34.4 18.3,34.1 18.1,33.6 18.0,33.4 17.9,32.9 17.9,32.6 17.7,32.1 17.7,31.6 17.6,31.3 17.6,30.9 17.5,30.4 17.5,29.9 17.5,29.4 17.5,28.9 17.5,28.4 17.5,27.9 17.5,27.4 17.6,26.9 17.6,26.6 17.7,26.1 17.8,25.6 17.9,25.2 18.0,24.9 18.1,24.4 18.1,24.1 18.2,23.6 18.3,23.1 18.2,22.6 18.1,22.4 17.9,22.1 17.4,21.9 16.9,21.9 16.4,22.0 15.9,22.0 15.4,22.1 15.1,22.2 14.6,22.3 14.1,22.3 13.9,22.4 13.4,22.4 12.9,22.5 12.4,22.5 11.9,22.6 11.4,22.6 11.0,22.6 10.6,22.7 10.1,22.7 9.7,22.9 9.4,23.0 9.1,23.3 8.9,23.6 8.8,23.9 8.8,24.4 8.8,24.9 8.8,25.4 8.9,25.9 8.9,26.1 8.9,26.6 9.0,27.1 9.0,27.6 9.0,28.1 9.0,28.6 9.0,29.1 9.0,29.6 9.0,30.1 8.9,30.6 8.9,30.9 8.8,31.4 8.7,31.9 8.7,32.4 8.6,32.6 8.5,33.1 8.4,33.5 8.3,33.9 8.1,34.3 8.0,34.6 7.9,34.9 7.7,35.4 7.5,35.6 7.4,35.9 6.9,35.9 6.4,36.0 5.9,36.0 5.4,36.0 4.9,35.9 4.4,35.9 4.1,35.7 3.9,35.4 3.8,35.1 3.6,34.7 3.5,34.4 3.4,34.0 3.2,33.6 3.1,33.2 3.0,32.9 2.9,32.4 2.9,32.0 2.8,31.6 2.7,31.1 2.7,30.6 2.6,30.1 2.6,29.8 2.6,29.4 2.6,28.9 2.6,28.4 2.6,27.9 2.6,27.4 2.6,27.1 2.7,26.6 2.7,26.1 2.8,25.6 2.8,25.1 2.9,24.6 2.9,24.4 2.9,23.9 2.9,23.4 2.9,23.0 2.9,22.6 2.9,22.4 2.9,21.9 3.1,21.4 3.2,21.1 3.4,20.9 3.6,20.6 3.9,20.3 4.1,20.1 4.4,19.9 4.8,19.6 5.1,19.5 5.4,19.4 5.9,19.3 6.4,19.3 6.9,19.4 7.1,19.4 7.6,19.6 7.9,19.6 8.4,19.7 8.9,19.8 9.4,19.8 9.9,19.8 10.4,19.7 10.9,19.7 11.1,19.6 11.6,19.6 12.1,19.5 12.6,19.5 13.1,19.4 13.6,19.4 14.1,19.4 14.6,19.4 15.1,19.4 15.6,19.4 16.1,19.4 16.6,19.5 17.1,19.5 17.6,19.5 18.1,19.5 18.6,19.5 19.1,19.5 19.6,19.5 20.1,19.5 20.6,19.6 20.9,19.7 21.1,19.9 21.4,20.1 21.6,20.5 21.8,20.9 21.8,21.4 21.9,21.6 22.0,22.1 22.1,22.6 22.2,22.9 22.4,23.4 22.5,23.6 22.6,24.1 22.7,24.4 22.8,24.9 22.9,25.1 23.0,25.6 23.1,26.1 23.1,26.4 23.2,26.9 23.3,27.4 23.3,27.9 23.3,28.4 23.3,28.9 23.3,29.4 23.3,29.9 23.3,30.4 23.2,30.9 23.2,31.4 23.1,31.7 23.1,32.1 23.0,32.6 22.9,32.9 22.8,33.4 22.6,33.8 22.5,34.1 22.4,34.5 22.2,34.9 22.0,35.1 21.9,35.4 21.6,35.7 21.4,35.9Z" fill="#dde9f8" fill-rule="evenodd" stroke="#8cb0e0" stroke-width="0.45" opacity="1.0"/>
<path d="M6.1,34.5 5.6,34.5 5.3,34.4 5.0,34.1 4.8,33.9 4.6,33.6 4.4,33.2 4.2,32.9 4.1,32.6 4.0,32.1 3.9,31.8 3.8,31.4 3.7,30.9 3.6,30.5 3.6,30.1 3.5,29.6 3.5,29.1 3.5,28.6 3.5,28.1 3.5,27.6 3.6,27.1 3.6,26.6 3.6,26.4 3.7,25.9 3.8,25.4 3.9,25.1 4.0,24.6 4.1,24.1 4.2,23.9 4.3,23.4 4.4,23.0 4.5,22.6 4.6,22.3 4.9,21.9 5.1,21.6 5.4,21.4 5.6,21.3 6.1,21.3 6.6,21.4 6.9,21.6 7.1,21.9 7.2,22.1 7.3,22.6 7.4,23.0 7.4,23.4 7.5,23.9 7.6,24.4 7.6,24.6 7.7,25.1 7.8,25.6 7.9,25.9 8.0,26.4 8.0,26.9 8.1,27.4 8.1,27.9 8.1,28.4 8.1,28.9 8.1,29.4 8.0,29.9 8.0,30.4 7.9,30.9 7.9,31.1 7.8,31.6 7.6,32.1 7.6,32.4 7.4,32.9 7.3,33.1 7.1,33.4 6.9,33.8 6.6,34.1 6.4,34.3 6.1,34.5ZM20.4,34.1 20.1,34.1 19.8,33.9 19.5,33.6 19.3,33.4 19.1,33.0 19.0,32.6 18.9,32.4 18.7,31.9 18.6,31.5 18.5,31.1 18.5,30.6 18.4,30.1 18.4,29.6 18.4,29.4 18.4,28.9 18.4,28.6 18.4,28.1 18.4,27.6 18.5,27.1 18.6,26.6 18.7,26.4 18.8,25.9 18.9,25.6 19.1,25.1 19.2,24.9 19.4,24.5 19.6,24.2 19.9,24.0 20.1,23.8 20.6,23.8 20.9,24.0 21.1,24.2 21.4,24.5 21.6,24.9 21.7,25.1 21.9,25.5 22.0,25.9 22.1,26.3 22.2,26.6 22.3,27.1 22.4,27.6 22.4,27.9 22.4,28.4 22.4,28.9 22.4,29.4 22.4,29.9 22.4,30.2 22.3,30.6 22.3,31.1 22.1,31.6 22.1,31.9 21.9,32.4 21.8,32.6 21.6,33.1 21.5,33.4 21.3,33.6 21.0,33.9 20.6,34.1 20.4,34.1Z" fill="#c6dbf4" fill-rule="evenodd" stroke="#5c8ad0" stroke-width="0.55" opacity="1.0"/>
<path d="M5.9,32.4 5.6,32.4 5.2,32.1 5.0,31.9 4.9,31.6 4.7,31.1 4.6,30.9 4.5,30.4 4.4,29.9 4.4,29.6 4.3,29.1 4.3,28.6 4.3,28.1 4.3,27.6 4.4,27.3 4.4,26.9 4.5,26.4 4.6,26.0 4.8,25.6 4.9,25.4 5.1,24.9 5.4,24.6 5.6,24.4 6.1,24.5 6.4,24.8 6.6,25.1 6.7,25.4 6.9,25.7 7.0,26.1 7.1,26.6 7.2,26.9 7.2,27.4 7.3,27.9 7.3,28.4 7.3,28.9 7.3,29.4 7.2,29.9 7.1,30.3 7.1,30.6 6.9,31.1 6.8,31.4 6.6,31.8 6.4,32.1 6.1,32.3 5.9,32.4ZM20.6,32.0 20.1,32.0 19.9,31.7 19.6,31.4 19.5,31.1 19.4,30.6 19.3,30.4 19.3,29.9 19.2,29.4 19.2,28.9 19.2,28.4 19.3,27.9 19.4,27.4 19.5,27.1 19.6,26.7 19.8,26.4 20.0,26.1 20.4,26.0 20.8,26.1 21.0,26.4 21.2,26.6 21.3,27.1 21.4,27.4 21.5,27.9 21.6,28.4 21.6,28.9 21.6,29.4 21.5,29.9 21.5,30.4 21.4,30.8 21.3,31.1 21.1,31.4 20.9,31.8 20.6,32.0Z" fill="#b4cff0" fill-rule="evenodd" stroke="#3a6cbc" stroke-width="0.7" opacity="1.0"/>
<path d="M5.9,30.3 5.5,30.1 5.4,29.9 5.2,29.4 5.1,28.9 5.1,28.6 5.1,28.1 5.2,27.9 5.3,27.4 5.4,27.1 5.6,26.7 6.1,26.9 6.2,27.1 6.4,27.5 6.4,27.9 6.5,28.4 6.5,28.9 6.4,29.4 6.3,29.6 6.1,30.1 5.9,30.3Z" fill="#a6c5ec" fill-rule="evenodd" stroke="#22539e" stroke-width="0.85" opacity="1.0"/>
</g>
<g transform="translate(230.5,231.5)">
<ellipse cx="14.5" cy="15.2" rx="12.8" ry="6.2" transform="rotate(-31 14.5 15.2)" fill="none" stroke="#c87878" stroke-width="0.6"/>
<circle cx="25.3" cy="27" r="7.6" fill="none" stroke="#c87878" stroke-width="0.6"/>
<text x="12.2" y="15.0" font-size="6.8" text-anchor="middle" style="font-family:'Liberation Serif',serif;font-weight:bold" fill="#000" stroke="#000" stroke-width="0.18">24</text>
<text x="26.5" y="30.0" font-size="6.8" text-anchor="middle" style="font-family:'Liberation Serif',serif;font-weight:bold" fill="#000" stroke="#000" stroke-width="0.18">17</text>
</g>
<rect x="230.5" y="231.5" width="37" height="36" fill="none" stroke="#a0a0a0" stroke-width="1.2"/>
<clipPath id="k14"><rect x="0" y="0" width="37" height="36"/></clipPath>
<g transform="translate(271.5,231.5)" clip-path="url(#k14)">
<path d="M6.9,35.2 6.4,35.2 5.9,35.2 5.6,35.1 5.1,35.0 4.9,34.8 4.6,34.6 4.3,34.4 4.1,34.1 3.9,33.9 3.6,33.4 3.5,33.1 3.4,32.8 3.2,32.4 3.2,31.9 3.1,31.6 3.1,31.1 3.1,30.6 3.0,30.1 3.1,29.6 3.1,29.1 3.1,28.6 3.1,28.1 3.1,27.6 3.1,27.4 3.1,26.9 3.2,26.4 3.2,25.9 3.2,25.4 3.2,24.9 3.2,24.4 3.3,23.9 3.3,23.4 3.4,23.1 3.4,22.6 3.5,22.1 3.6,21.7 3.7,21.4 3.9,20.9 4.0,20.6 4.1,20.2 4.3,19.9 4.4,19.6 4.6,19.2 4.8,18.9 5.0,18.6 5.2,18.4 5.4,18.1 5.6,17.9 5.9,17.6 6.2,17.4 6.5,17.1 6.9,16.9 7.1,16.8 7.4,16.6 7.9,16.4 8.1,16.3 8.6,16.1 8.9,16.0 9.3,15.9 9.6,15.8 10.1,15.6 10.4,15.5 10.9,15.4 11.1,15.3 11.6,15.2 11.9,15.1 12.4,15.0 12.8,14.9 13.1,14.8 13.6,14.7 13.9,14.6 14.4,14.5 14.9,14.4 15.2,14.4 15.6,14.3 16.1,14.2 16.6,14.2 17.1,14.2 17.6,14.2 18.1,14.2 18.6,14.2 19.1,14.3 19.4,14.4 19.9,14.6 20.1,14.7 20.4,14.9 20.7,15.1 21.0,15.4 21.2,15.6 21.4,15.9 21.6,16.4 21.6,16.7 21.7,17.1 21.6,17.4 21.5,17.9 21.4,18.2 21.1,18.6 20.9,18.9 20.7,19.1 20.4,19.4 20.1,19.6 19.9,19.8 19.6,20.0 19.3,20.1 18.9,20.4 18.6,20.5 18.3,20.6 17.9,20.8 17.6,20.9 17.1,21.1 16.9,21.2 16.4,21.4 16.1,21.5 15.7,21.6 15.4,21.7 15.0,21.9 14.6,22.0 14.2,22.1 13.9,22.2 13.4,22.4 13.1,22.5 12.8,22.6 12.4,22.8 12.1,23.0 11.9,23.3 11.7,23.6 11.6,23.9 11.4,24.3 11.3,24.6 11.1,25.1 11.1,25.4 10.9,25.9 10.8,26.1 10.7,26.6 10.6,26.9 10.5,27.4 10.4,27.9 10.4,28.1 10.3,28.6 10.2,29.1 10.1,29.4 10.0,29.9 10.0,30.4 9.9,30.8 9.8,31.1 9.7,31.6 9.6,32.1 9.5,32.4 9.4,32.8 9.3,33.1 9.1,33.4 8.9,33.8 8.6,34.1 8.4,34.4 8.1,34.6 7.9,34.8 7.6,34.9 7.1,35.1 6.9,35.2Z" fill="#dde9f8" fill-rule="evenodd" stroke="#8cb0e0" stroke-width="0.45" opacity="1.0"/>
<path d="M6.9,33.9 6.4,34.0 5.9,33.9 5.6,33.8 5.3,33.6 5.0,33.4 4.8,33.1 4.6,32.9 4.4,32.4 4.3,32.1 4.1,31.6 4.1,31.4 4.1,30.9 4.0,30.4 4.0,29.9 4.0,29.4 4.0,28.9 4.1,28.4 4.1,27.9 4.1,27.4 4.1,26.9 4.1,26.6 4.2,26.1 4.2,25.6 4.2,25.1 4.3,24.6 4.4,24.1 4.4,23.9 4.5,23.4 4.6,22.9 4.7,22.6 4.9,22.1 5.0,21.9 5.1,21.5 5.3,21.1 5.5,20.9 5.6,20.6 5.9,20.2 6.1,19.9 6.3,19.6 6.5,19.4 6.7,19.1 6.9,18.9 7.2,18.6 7.5,18.4 7.8,18.1 8.1,18.0 8.4,17.8 8.8,17.6 9.1,17.5 9.4,17.4 9.9,17.2 10.1,17.1 10.6,16.9 10.9,16.8 11.4,16.7 11.6,16.6 12.1,16.4 12.4,16.4 12.9,16.2 13.3,16.1 13.6,16.0 14.1,15.9 14.4,15.9 14.9,15.8 15.4,15.7 15.9,15.6 16.1,15.6 16.6,15.6 17.1,15.6 17.6,15.6 17.9,15.7 18.4,15.8 18.6,15.9 19.0,16.1 19.2,16.4 19.4,16.6 19.5,17.1 19.4,17.6 19.3,17.9 19.1,18.1 18.8,18.4 18.5,18.6 18.1,18.8 17.9,19.0 17.6,19.1 17.1,19.3 16.9,19.4 16.4,19.6 16.1,19.7 15.6,19.9 15.4,19.9 14.9,20.1 14.6,20.2 14.1,20.3 13.9,20.4 13.4,20.5 13.1,20.6 12.6,20.8 12.3,20.9 11.9,21.0 11.6,21.1 11.2,21.4 10.9,21.6 10.7,21.9 10.6,22.1 10.4,22.6 10.4,23.0 10.3,23.4 10.2,23.9 10.2,24.4 10.1,24.6 10.0,25.1 9.9,25.6 9.9,25.9 9.7,26.4 9.6,26.9 9.6,27.1 9.5,27.6 9.4,28.1 9.3,28.4 9.2,28.9 9.1,29.4 9.1,29.6 9.0,30.1 8.9,30.6 8.9,30.9 8.8,31.4 8.6,31.9 8.5,32.1 8.4,32.5 8.2,32.9 8.0,33.1 7.8,33.4 7.5,33.6 7.1,33.8 6.9,33.9Z" fill="#c6dbf4" fill-rule="evenodd" stroke="#5c8ad0" stroke-width="0.55" opacity="1.0"/>
<path d="M6.9,32.6 6.4,32.7 5.9,32.6 5.6,32.4 5.4,32.1 5.2,31.9 5.1,31.6 5.0,31.1 4.9,30.6 4.9,30.1 4.9,29.9 4.9,29.4 4.9,28.9 4.9,28.4 4.9,28.1 4.9,27.6 4.9,27.1 4.9,26.6 5.0,26.1 5.0,25.6 5.0,25.1 5.1,24.6 5.2,24.4 5.3,23.9 5.4,23.5 5.5,23.1 5.6,22.8 5.8,22.4 6.0,22.1 6.2,21.9 6.4,21.6 6.6,21.3 6.9,21.1 7.2,20.9 7.6,20.6 7.9,20.5 8.1,20.4 8.6,20.3 8.9,20.4 9.0,20.9 9.1,21.4 9.2,21.6 9.2,22.1 9.3,22.6 9.3,23.1 9.3,23.6 9.3,24.1 9.3,24.6 9.2,25.1 9.1,25.5 9.0,25.9 8.9,26.4 8.9,26.6 8.8,27.1 8.6,27.6 8.6,27.9 8.5,28.4 8.4,28.9 8.3,29.1 8.2,29.6 8.1,30.1 8.1,30.4 8.0,30.9 7.9,31.2 7.7,31.6 7.6,31.9 7.4,32.2 7.1,32.5 6.9,32.6Z" fill="#b4cff0" fill-rule="evenodd" stroke="#3a6cbc" stroke-width="0.7" opacity="1.0"/>
<path d="M6.6,31.2 6.1,31.1 6.0,30.9 5.8,30.6 5.7,30.1 5.7,29.6 5.6,29.1 5.6,28.9 5.6,28.4 5.6,27.9 5.6,27.4 5.6,26.9 5.6,26.4 5.6,25.9 5.6,25.6 5.7,25.1 5.8,24.6 5.9,24.2 6.0,23.9 6.1,23.5 6.3,23.1 6.5,22.9 6.7,22.6 7.1,22.4 7.4,22.3 7.9,22.3 8.1,22.5 8.4,22.9 8.5,23.1 8.6,23.6 8.6,24.1 8.6,24.6 8.5,25.1 8.4,25.6 8.4,25.9 8.3,26.4 8.1,26.9 8.1,27.1 7.9,27.6 7.9,27.9 7.7,28.4 7.6,28.9 7.6,29.1 7.4,29.6 7.4,29.9 7.2,30.4 7.1,30.6 6.9,31.0 6.6,31.2Z" fill="#a6c5ec" fill-rule="evenodd" stroke="#22539e" stroke-width="0.85" opacity="1.0"/>
</g>
<g transform="translate(271.5,231.5)">
<ellipse cx="14.5" cy="15.2" rx="12.8" ry="6.2" transform="rotate(-31 14.5 15.2)" fill="none" stroke="#c87878" stroke-width="0.6"/>
<circle cx="25.3" cy="27" r="7.6" fill="none" stroke="#c87878" stroke-width="0.6"/>
<text x="12.2" y="15.0" font-size="6.8" text-anchor="middle" style="font-family:'Liberation Serif',serif;font-weight:bold" fill="#000" stroke="#000" stroke-width="0.18">52</text>
<text x="26.5" y="30.0" font-size="6.8" text-anchor="middle" style="font-family:'Liberation Serif',serif;font-weight:bold" fill="#000" stroke="#000" stroke-width="0.18">6</text>
</g>
<rect x="271.5" y="231.5" width="37" height="36" fill="none" stroke="#a0a0a0" stroke-width="1.2"/>
<clipPath id="k15"><rect x="0" y="0" width="37" height="36"/></clipPath>
<g transform="translate(312.5,231.5)" clip-path="url(#k15)">
<path d="M5.9,35.9 5.4,35.9 4.9,35.9 4.6,35.9 4.1,35.7 3.9,35.5 3.6,35.3 3.4,35.1 3.1,34.8 2.9,34.5 2.7,34.1 2.5,33.9 2.4,33.5 2.2,33.1 2.1,32.7 2.1,32.4 2.0,31.9 1.9,31.4 1.9,30.9 1.9,30.4 2.0,29.9 2.0,29.4 2.0,28.9 2.1,28.4 2.1,28.1 2.2,27.6 2.3,27.1 2.4,26.6 2.4,26.4 2.5,25.9 2.6,25.4 2.7,25.1 2.8,24.6 2.9,24.3 3.0,23.9 3.1,23.6 3.3,23.1 3.4,22.9 3.6,22.4 3.7,22.1 3.9,21.9 4.1,21.5 4.3,21.1 4.5,20.9 4.7,20.6 4.9,20.4 5.1,20.1 5.4,19.8 5.6,19.5 5.9,19.3 6.1,19.1 6.4,18.8 6.7,18.6 7.0,18.4 7.4,18.1 7.6,18.0 7.9,17.8 8.1,17.6 8.5,17.4 8.9,17.2 9.1,17.0 9.4,16.8 9.7,16.6 10.0,16.4 10.4,16.2 10.6,16.0 10.9,15.8 11.2,15.6 11.6,15.4 11.9,15.3 12.2,15.1 12.6,14.9 12.9,14.8 13.3,14.6 13.6,14.5 14.0,14.4 14.4,14.2 14.9,14.1 15.1,14.1 15.6,14.0 16.1,14.0 16.6,14.0 17.1,14.1 17.4,14.2 17.7,14.4 18.0,14.6 18.2,14.9 18.4,15.4 18.4,15.6 18.4,15.9 18.3,16.4 18.1,16.9 18.0,17.1 17.9,17.4 17.6,17.9 17.5,18.1 17.3,18.4 17.1,18.6 16.9,18.9 16.6,19.2 16.4,19.5 16.1,19.8 15.9,20.1 15.6,20.3 15.4,20.6 15.1,20.9 14.9,21.1 14.6,21.4 14.4,21.6 14.3,21.9 14.1,22.1 13.9,22.6 13.8,22.9 13.8,23.4 13.9,23.6 14.1,24.0 14.4,24.3 14.6,24.5 14.9,24.8 15.1,25.1 15.3,25.4 15.4,25.6 15.4,26.1 15.3,26.4 15.1,26.7 14.9,26.9 14.6,27.1 14.1,27.3 13.9,27.4 13.4,27.5 12.9,27.5 12.4,27.5 11.9,27.5 11.4,27.6 11.1,27.6 10.6,27.9 10.4,28.1 10.1,28.3 9.9,28.6 9.8,28.9 9.6,29.2 9.5,29.6 9.4,29.9 9.3,30.4 9.1,30.9 9.1,31.1 9.0,31.6 8.9,32.0 8.8,32.4 8.6,32.8 8.5,33.1 8.4,33.5 8.2,33.9 8.0,34.1 7.9,34.4 7.6,34.7 7.4,35.0 7.1,35.2 6.9,35.4 6.6,35.6 6.1,35.8 5.9,35.9Z" fill="#dde9f8" fill-rule="evenodd" stroke="#8cb0e0" stroke-width="0.45" opacity="1.0"/>
<path d="M5.9,34.4 5.4,34.5 4.9,34.5 4.6,34.4 4.2,34.1 3.9,33.9 3.7,33.6 3.5,33.4 3.4,33.1 3.2,32.6 3.1,32.4 3.0,31.9 2.9,31.4 2.9,30.9 2.9,30.4 2.9,29.9 3.0,29.4 3.0,28.9 3.1,28.4 3.2,28.1 3.3,27.6 3.4,27.1 3.4,26.9 3.6,26.4 3.6,26.1 3.8,25.6 3.9,25.3 4.0,24.9 4.1,24.5 4.3,24.1 4.4,23.8 4.6,23.4 4.7,23.1 4.9,22.7 5.0,22.4 5.2,22.1 5.4,21.8 5.6,21.5 5.9,21.1 6.1,20.9 6.3,20.6 6.6,20.4 6.9,20.1 7.1,20.0 7.4,19.8 7.7,19.6 8.1,19.4 8.4,19.3 8.9,19.2 9.2,19.1 9.6,19.0 10.1,19.0 10.6,19.0 11.1,19.0 11.6,19.1 11.8,19.4 11.9,19.9 11.8,20.4 11.7,20.9 11.6,21.1 11.5,21.6 11.4,22.0 11.3,22.4 11.1,22.9 11.1,23.1 10.9,23.6 10.8,23.9 10.6,24.3 10.5,24.6 10.3,24.9 10.1,25.3 9.9,25.6 9.8,25.9 9.6,26.2 9.4,26.6 9.3,26.9 9.1,27.2 9.0,27.6 8.9,27.9 8.7,28.4 8.6,28.6 8.5,29.1 8.4,29.6 8.3,29.9 8.2,30.4 8.1,30.9 8.1,31.1 8.0,31.6 7.9,31.9 7.7,32.4 7.6,32.6 7.4,33.1 7.2,33.4 7.0,33.6 6.8,33.9 6.5,34.1 6.1,34.3 5.9,34.4Z" fill="#c6dbf4" fill-rule="evenodd" stroke="#5c8ad0" stroke-width="0.55" opacity="1.0"/>
<path d="M5.9,33.2 5.4,33.3 4.9,33.2 4.6,33.0 4.4,32.8 4.1,32.4 4.0,32.1 3.9,31.8 3.8,31.4 3.7,30.9 3.7,30.4 3.8,29.9 3.8,29.4 3.9,28.9 3.9,28.6 4.0,28.1 4.1,27.7 4.2,27.4 4.3,26.9 4.4,26.6 4.6,26.1 4.7,25.9 4.8,25.4 4.9,25.1 5.1,24.6 5.2,24.4 5.4,23.9 5.5,23.6 5.6,23.4 5.9,22.9 6.0,22.6 6.2,22.4 6.4,22.1 6.6,21.8 6.9,21.5 7.1,21.3 7.4,21.1 7.8,20.9 8.1,20.8 8.6,20.7 9.1,20.8 9.4,20.9 9.6,21.1 9.9,21.6 9.9,21.9 9.9,22.4 9.9,22.8 9.8,23.1 9.6,23.6 9.5,23.9 9.4,24.3 9.2,24.6 9.1,24.9 8.9,25.3 8.7,25.6 8.6,25.9 8.4,26.4 8.3,26.6 8.1,27.1 8.1,27.4 7.9,27.9 7.9,28.1 7.7,28.6 7.6,29.1 7.6,29.4 7.5,29.9 7.4,30.4 7.4,30.6 7.2,31.1 7.1,31.5 7.0,31.9 6.9,32.1 6.6,32.5 6.4,32.8 6.1,33.1 5.9,33.2Z" fill="#b4cff0" fill-rule="evenodd" stroke="#3a6cbc" stroke-width="0.7" opacity="1.0"/>
<path d="M5.4,32.1 5.1,32.1 4.9,31.9 4.6,31.4 4.5,31.1 4.5,30.6 4.5,30.1 4.5,29.6 4.6,29.1 4.6,28.8 4.7,28.4 4.9,27.9 4.9,27.6 5.1,27.1 5.2,26.9 5.3,26.4 5.4,26.1 5.6,25.6 5.7,25.4 5.9,25.0 6.0,24.6 6.1,24.4 6.3,23.9 6.5,23.6 6.6,23.3 6.9,22.9 7.1,22.6 7.4,22.4 7.6,22.2 7.9,22.1 8.4,22.1 8.6,22.3 8.8,22.6 8.8,23.1 8.6,23.6 8.6,23.9 8.4,24.3 8.2,24.6 8.1,24.9 7.9,25.4 7.8,25.6 7.6,26.0 7.5,26.4 7.4,26.8 7.3,27.1 7.2,27.6 7.1,27.9 7.0,28.4 7.0,28.9 6.9,29.4 6.8,29.6 6.7,30.1 6.6,30.6 6.5,30.9 6.4,31.3 6.2,31.6 6.0,31.9 5.6,32.1 5.4,32.1Z" fill="#a6c5ec" fill-rule="evenodd" stroke="#22539e" stroke-width="0.85" opacity="1.0"/>
</g>
<g transform="translate(312.5,231.5)">
<ellipse cx="14.5" cy="15.2" rx="12.8" ry="6.2" transform="rotate(-31 14.5 15.2)" fill="none" stroke="#c87878" stroke-width="0.6"/>
<circle cx="25.3" cy="27" r="7.6" fill="none" stroke="#c87878" stroke-width="0.6"/>
<text x="12.2" y="15.0" font-size="6.8" text-anchor="middle" style="font-family:'Liberation Serif',serif;font-weight:bold" fill="#000" stroke="#000" stroke-width="0.18">58</text>
<text x="26.5" y="30.0" font-size="6.8" text-anchor="middle" style="font-family:'Liberation Serif',serif;font-weight:bold" fill="#000" stroke="#000" stroke-width="0.18">1</text>
</g>
<rect x="312.5" y="231.5" width="37" height="36" fill="none" stroke="#a0a0a0" stroke-width="1.2"/>
<clipPath id="k16"><rect x="0" y="0" width="37" height="36"/></clipPath>
<g transform="translate(353.5,231.5)" clip-path="url(#k16)">
<path d="M5.9,34.4 5.4,34.5 4.9,34.4 4.6,34.3 4.2,34.1 3.9,33.9 3.6,33.6 3.4,33.4 3.2,33.1 3.0,32.9 2.8,32.6 2.6,32.2 2.5,31.9 2.4,31.6 2.2,31.1 2.1,30.8 2.0,30.4 2.0,29.9 2.0,29.4 1.9,28.9 1.9,28.4 2.0,27.9 2.0,27.4 2.1,26.9 2.1,26.5 2.2,26.1 2.3,25.6 2.4,25.1 2.4,24.9 2.6,24.4 2.6,24.1 2.8,23.6 2.9,23.4 3.1,22.9 3.2,22.6 3.4,22.3 3.6,21.9 3.8,21.6 4.0,21.4 4.2,21.1 4.4,20.9 4.6,20.6 4.9,20.4 5.2,20.1 5.5,19.9 5.9,19.6 6.1,19.5 6.4,19.3 6.7,19.1 7.1,18.9 7.4,18.7 7.6,18.6 8.0,18.4 8.3,18.1 8.6,17.9 8.9,17.7 9.1,17.6 9.4,17.4 9.7,17.1 10.1,16.9 10.4,16.7 10.6,16.5 10.9,16.3 11.2,16.1 11.6,15.9 11.9,15.8 12.2,15.6 12.6,15.4 12.9,15.3 13.3,15.1 13.6,15.0 14.0,14.9 14.4,14.7 14.9,14.6 15.1,14.6 15.6,14.5 16.1,14.5 16.6,14.5 17.1,14.6 17.4,14.7 17.7,14.9 18.0,15.1 18.2,15.4 18.4,15.9 18.4,16.1 18.4,16.4 18.3,16.9 18.1,17.4 18.0,17.6 17.9,17.9 17.6,18.4 17.5,18.6 17.3,18.9 17.1,19.1 16.9,19.4 16.6,19.7 16.4,20.0 16.1,20.3 15.9,20.5 15.6,20.7 15.4,21.0 15.1,21.2 14.9,21.4 14.6,21.6 14.3,21.9 13.9,22.1 13.6,22.3 13.4,22.5 13.1,22.7 12.8,22.9 12.5,23.1 12.1,23.4 11.9,23.6 11.6,23.8 11.4,24.0 11.1,24.3 10.9,24.6 10.7,24.9 10.6,25.1 10.4,25.4 10.1,25.9 10.0,26.1 9.9,26.4 9.7,26.9 9.6,27.1 9.5,27.6 9.4,27.9 9.3,28.4 9.2,28.9 9.1,29.1 9.0,29.6 8.9,30.1 8.8,30.4 8.7,30.9 8.6,31.1 8.4,31.6 8.3,31.9 8.1,32.1 7.9,32.6 7.7,32.9 7.5,33.1 7.3,33.4 7.0,33.6 6.8,33.9 6.4,34.1 6.1,34.3 5.9,34.4Z" fill="#dde9f8" fill-rule="evenodd" stroke="#8cb0e0" stroke-width="0.45" opacity="1.0"/>
<path d="M5.6,32.7 5.1,32.7 4.9,32.6 4.4,32.4 4.1,32.2 3.9,32.0 3.6,31.6 3.5,31.4 3.4,31.1 3.2,30.6 3.1,30.4 3.0,29.9 3.0,29.4 3.0,28.9 3.0,28.4 3.0,27.9 3.1,27.4 3.1,27.0 3.2,26.6 3.3,26.1 3.4,25.8 3.5,25.4 3.6,24.9 3.7,24.6 3.9,24.2 4.0,23.9 4.1,23.6 4.4,23.1 4.5,22.9 4.7,22.6 4.9,22.4 5.1,22.1 5.4,21.8 5.6,21.6 5.9,21.4 6.2,21.1 6.6,20.9 6.9,20.8 7.4,20.6 7.6,20.6 8.1,20.5 8.6,20.4 9.1,20.4 9.6,20.5 10.0,20.6 10.3,20.9 10.3,21.4 10.3,21.9 10.1,22.4 10.1,22.6 9.9,23.1 9.9,23.4 9.7,23.9 9.6,24.1 9.4,24.6 9.3,24.9 9.1,25.3 9.0,25.6 8.9,26.1 8.8,26.4 8.6,26.9 8.6,27.1 8.4,27.6 8.4,27.9 8.3,28.4 8.2,28.9 8.1,29.1 8.0,29.6 7.9,30.0 7.8,30.4 7.6,30.7 7.4,31.1 7.3,31.4 7.1,31.6 6.9,31.9 6.6,32.2 6.4,32.4 5.9,32.6 5.6,32.7Z" fill="#c6dbf4" fill-rule="evenodd" stroke="#5c8ad0" stroke-width="0.55" opacity="1.0"/>
<path d="M5.4,31.4 5.1,31.4 4.7,31.1 4.4,30.9 4.2,30.6 4.1,30.4 3.9,29.9 3.9,29.6 3.8,29.1 3.8,28.6 3.8,28.1 3.9,27.8 3.9,27.4 4.0,26.9 4.1,26.5 4.2,26.1 4.4,25.6 4.4,25.4 4.6,24.9 4.7,24.6 4.9,24.4 5.1,23.9 5.3,23.6 5.5,23.4 5.7,23.1 5.9,22.9 6.2,22.6 6.6,22.4 6.9,22.3 7.4,22.2 7.9,22.3 8.1,22.5 8.4,22.9 8.4,23.1 8.5,23.6 8.4,24.1 8.4,24.4 8.2,24.9 8.1,25.4 8.1,25.6 7.9,26.1 7.9,26.4 7.8,26.9 7.6,27.4 7.6,27.6 7.5,28.1 7.4,28.6 7.3,28.9 7.2,29.4 7.1,29.6 6.9,30.1 6.8,30.4 6.6,30.6 6.4,30.9 6.1,31.1 5.6,31.4 5.4,31.4Z" fill="#b4cff0" fill-rule="evenodd" stroke="#3a6cbc" stroke-width="0.7" opacity="1.0"/>
<path d="M5.4,30.1 5.1,30.0 4.9,29.8 4.7,29.4 4.6,29.0 4.6,28.6 4.6,28.1 4.6,27.9 4.7,27.4 4.8,26.9 4.9,26.6 5.1,26.1 5.1,25.9 5.4,25.4 5.5,25.1 5.6,24.9 5.9,24.6 6.1,24.3 6.4,24.1 6.9,24.0 7.1,24.3 7.2,24.6 7.2,25.1 7.2,25.6 7.1,25.9 7.0,26.4 7.0,26.9 6.9,27.4 6.8,27.6 6.7,28.1 6.6,28.6 6.5,28.9 6.4,29.3 6.2,29.6 6.0,29.9 5.6,30.1 5.4,30.1Z" fill="#a6c5ec" fill-rule="evenodd" stroke="#22539e" stroke-width="0.85" opacity="1.0"/>
</g>
<g transform="translate(353.5,231.5)">
<ellipse cx="14.5" cy="15.2" rx="12.8" ry="6.2" transform="rotate(-31 14.5 15.2)" fill="none" stroke="#c87878" stroke-width="0.6"/>
<circle cx="25.3" cy="27" r="7.6" fill="none" stroke="#c87878" stroke-width="0.6"/>
<text x="12.2" y="15.0" font-size="6.8" text-anchor="middle" style="font-family:'Liberation Serif',serif;font-weight:bold" fill="#000" stroke="#000" stroke-width="0.18">71</text>
<text x="26.5" y="30.0" font-size="6.8" text-anchor="middle" style="font-family:'Liberation Serif',serif;font-weight:bold" fill="#000" stroke="#000" stroke-width="0.18">0</text>
</g>
<rect x="353.5" y="231.5" width="37" height="36" fill="none" stroke="#a0a0a0" stroke-width="1.2"/>
<text x="231.3" y="281.2" font-size="8.3" text-anchor="start" style="font-family:'Liberation Serif',serif;font-weight:bold" fill="#000" stroke="#000" stroke-width="0.18">CD123</text>
<line x1="266.5" y1="279" x2="385.0" y2="279" stroke="#000" stroke-width="0.9"/>
<path d="M389.5,279 L384.5,277.0 L384.5,281.0 Z" fill="#000"/>
<text x="404" y="214.1" font-size="8.8" text-anchor="middle" style="font-family:'Liberation Serif',serif;font-weight:bold" fill="#000" stroke="#000" stroke-width="0.18" transform="rotate(-90 404 214.1)">6 h</text>
<text x="404" y="247.9" font-size="8.8" text-anchor="middle" style="font-family:'Liberation Serif',serif;font-weight:bold" fill="#000" stroke="#000" stroke-width="0.18" transform="rotate(-90 404 247.9)">18 h</text>
<text x="3.2" y="315.4" font-size="14" text-anchor="start" style="font-family:'Liberation Sans',sans-serif;font-weight:bold" fill="#000">D</text>
<text x="30.5" y="320.5" font-size="8.3" text-anchor="start" style="font-family:'Liberation Serif',serif;font-weight:bold" fill="#000" stroke="#000" stroke-width="0.18">MOI: 0</text>
<text x="88" y="320.5" font-size="8" text-anchor="middle" style="font-family:'Liberation Serif',serif;font-weight:bold" fill="#000" stroke="#000" stroke-width="0.18">0.1</text>
<text x="130" y="320.5" font-size="8" text-anchor="middle" style="font-family:'Liberation Serif',serif;font-weight:bold" fill="#000" stroke="#000" stroke-width="0.18">1</text>
<text x="171" y="320.5" font-size="8" text-anchor="middle" style="font-family:'Liberation Serif',serif;font-weight:bold" fill="#000" stroke="#000" stroke-width="0.18">10</text>
<clipPath id="k17"><rect x="28.5" y="330.5" width="37" height="36"/></clipPath>
<g clip-path="url(#k17)">
<g transform="translate(28.5,330.5)">
<path d="M-1.00,4.00 C0.33,1.67 5.58,2.00 7.00,4.00 C8.42,6.00 8.83,13.67 7.50,16.00 C6.17,18.33 0.42,20.00 -1.00,18.00 C-2.42,16.00 -2.33,6.33 -1.00,4.00 Z" fill="#dfe4f4" opacity="0.2" filter="url(#bl2)"/>
<path d="M-1,26 C4,30 10,34 20,36.5 L20,37 L-1,37 Z" fill="#ccd2ea" opacity="0.7" filter="url(#bl2)"/>
<clipPath id="dO9"><path d="M-2.00,19.80 C-0.52,17.83 4.47,18.28 6.90,17.70 C9.33,17.12 11.58,16.75 12.60,16.30 C13.62,15.85 13.18,15.47 13.00,15.00 C12.82,14.53 11.92,14.08 11.50,13.50 C11.08,12.92 10.50,12.20 10.50,11.50 C10.50,10.80 10.85,9.93 11.50,9.30 C12.15,8.67 12.97,8.10 14.40,7.70 C15.83,7.30 18.45,6.92 20.10,6.90 C21.75,6.88 23.52,7.25 24.30,7.60 C25.08,7.95 24.93,8.40 24.80,9.00 C24.67,9.60 24.05,10.57 23.50,11.20 C22.95,11.83 22.17,12.30 21.50,12.80 C20.83,13.30 19.82,13.70 19.50,14.20 C19.18,14.70 19.27,14.98 19.60,15.80 C19.93,16.62 21.03,17.45 21.50,19.10 C21.97,20.75 22.28,23.00 22.40,25.70 C22.52,28.40 22.43,33.25 22.20,35.30 C21.97,37.35 22.03,37.55 21.00,38.00 C19.97,38.45 16.83,38.30 16.00,38.00 C15.17,37.70 17.10,36.70 16.00,36.20 C14.90,35.70 11.48,35.60 9.40,35.00 C7.32,34.40 5.40,33.52 3.50,32.60 C1.60,31.68 -1.08,31.63 -2.00,29.50 C-2.92,27.37 -3.48,21.77 -2.00,19.80 Z"/></clipPath>
<path d="M-2.00,19.80 C-0.52,17.83 4.47,18.28 6.90,17.70 C9.33,17.12 11.58,16.75 12.60,16.30 C13.62,15.85 13.18,15.47 13.00,15.00 C12.82,14.53 11.92,14.08 11.50,13.50 C11.08,12.92 10.50,12.20 10.50,11.50 C10.50,10.80 10.85,9.93 11.50,9.30 C12.15,8.67 12.97,8.10 14.40,7.70 C15.83,7.30 18.45,6.92 20.10,6.90 C21.75,6.88 23.52,7.25 24.30,7.60 C25.08,7.95 24.93,8.40 24.80,9.00 C24.67,9.60 24.05,10.57 23.50,11.20 C22.95,11.83 22.17,12.30 21.50,12.80 C20.83,13.30 19.82,13.70 19.50,14.20 C19.18,14.70 19.27,14.98 19.60,15.80 C19.93,16.62 21.03,17.45 21.50,19.10 C21.97,20.75 22.28,23.00 22.40,25.70 C22.52,28.40 22.43,33.25 22.20,35.30 C21.97,37.35 22.03,37.55 21.00,38.00 C19.97,38.45 16.83,38.30 16.00,38.00 C15.17,37.70 17.10,36.70 16.00,36.20 C14.90,35.70 11.48,35.60 9.40,35.00 C7.32,34.40 5.40,33.52 3.50,32.60 C1.60,31.68 -1.08,31.63 -2.00,29.50 C-2.92,27.37 -3.48,21.77 -2.00,19.80 Z" fill="#0050ff" filter="url(#bl4)"/>
<g clip-path="url(#dO9)"><g filter="url(#bl3)">
<ellipse cx="17.6" cy="10.4" rx="7.49" ry="3.60" transform="rotate(-9 17.6 10.4)" fill="none" stroke="#0410c0" stroke-width="1.3"/>
<ellipse cx="17.6" cy="10.4" rx="6.89" ry="3.00" transform="rotate(-9 17.6 10.4)" fill="#0090ff"/>
<ellipse cx="17.8" cy="10.4" rx="5.30" ry="2.00" transform="rotate(-9 17.6 10.4)" fill="#10d8f0"/>
<ellipse cx="18.0" cy="10.4" rx="3.07" ry="1.16" transform="rotate(-9 17.6 10.4)" fill="#40f060"/>
<path d="M-3.00,21.00 C-0.78,19.65 6.75,21.63 10.30,20.90 C13.85,20.17 16.05,17.22 18.30,16.60 C20.55,15.98 22.80,16.22 23.80,17.20 C24.80,18.18 24.42,20.62 24.30,22.50 C24.18,24.38 23.70,26.28 23.10,28.50 C22.50,30.72 21.87,34.58 20.70,35.80 C19.53,37.02 17.30,36.77 16.10,35.80 C14.90,34.83 14.47,31.15 13.50,30.00 C12.53,28.85 13.05,29.07 10.30,28.90 C7.55,28.73 -0.78,30.32 -3.00,29.00 C-5.22,27.68 -5.22,22.35 -3.00,21.00 Z" fill="#0098ff"/>
<path d="M5.00,23.20 C6.05,22.47 9.08,22.80 11.30,21.90 C13.52,21.00 16.38,18.37 18.30,17.80 C20.22,17.23 21.97,17.72 22.80,18.50 C23.63,19.28 23.42,20.92 23.30,22.50 C23.18,24.08 22.67,25.98 22.10,28.00 C21.53,30.02 20.73,33.50 19.90,34.60 C19.07,35.70 17.95,35.53 17.10,34.60 C16.25,33.67 15.77,30.18 14.80,29.00 C13.83,27.82 12.93,27.95 11.30,27.50 C9.67,27.05 6.05,27.02 5.00,26.30 C3.95,25.58 3.95,23.93 5.00,23.20 Z" fill="#10e0f0"/>
<path d="M10.80,19.70 C11.63,19.15 13.80,19.28 15.30,19.20 C16.80,19.12 18.70,18.98 19.80,19.20 C20.90,19.42 21.55,19.70 21.90,20.50 C22.25,21.30 22.10,22.67 21.90,24.00 C21.70,25.33 21.17,26.97 20.70,28.50 C20.23,30.03 19.60,32.42 19.10,33.20 C18.60,33.98 18.25,33.98 17.70,33.20 C17.15,32.42 16.53,29.83 15.80,28.50 C15.07,27.17 14.22,26.20 13.30,25.20 C12.38,24.20 10.72,23.42 10.30,22.50 C9.88,21.58 9.97,20.25 10.80,19.70 Z" fill="#50f060"/>
<ellipse cx="18.3" cy="24.3" rx="2.6" ry="3.1" fill="#c8f030"/>
<ellipse cx="18.3" cy="24.1" rx="1.8" ry="2.1" fill="#ffd000"/>
<ellipse cx="18.3" cy="24.0" rx="1.35" ry="1.45" fill="#e83000"/>
<circle cx="18.3" cy="24.0" r="0.9" fill="#c80000"/>
</g>
<path d="M-2.00,19.80 C-0.52,17.83 4.47,18.28 6.90,17.70 C9.33,17.12 11.58,16.75 12.60,16.30 C13.62,15.85 13.18,15.47 13.00,15.00 C12.82,14.53 11.92,14.08 11.50,13.50 C11.08,12.92 10.50,12.20 10.50,11.50 C10.50,10.80 10.85,9.93 11.50,9.30 C12.15,8.67 12.97,8.10 14.40,7.70 C15.83,7.30 18.45,6.92 20.10,6.90 C21.75,6.88 23.52,7.25 24.30,7.60 C25.08,7.95 24.93,8.40 24.80,9.00 C24.67,9.60 24.05,10.57 23.50,11.20 C22.95,11.83 22.17,12.30 21.50,12.80 C20.83,13.30 19.82,13.70 19.50,14.20 C19.18,14.70 19.27,14.98 19.60,15.80 C19.93,16.62 21.03,17.45 21.50,19.10 C21.97,20.75 22.28,23.00 22.40,25.70 C22.52,28.40 22.43,33.25 22.20,35.30 C21.97,37.35 22.03,37.55 21.00,38.00 C19.97,38.45 16.83,38.30 16.00,38.00 C15.17,37.70 17.10,36.70 16.00,36.20 C14.90,35.70 11.48,35.60 9.40,35.00 C7.32,34.40 5.40,33.52 3.50,32.60 C1.60,31.68 -1.08,31.63 -2.00,29.50 C-2.92,27.37 -3.48,21.77 -2.00,19.80 Z" fill="none" stroke="#0008b8" stroke-width="2.4" stroke-linejoin="round" filter="url(#bl4)"/>
</g></g>
</g>
<rect x="28.5" y="330.5" width="37" height="36" fill="none" stroke="#a0a0a0" stroke-width="1.2"/>
<rect x="29.7" y="333.8" width="5.7" height="13.2" fill="none" stroke="#a0a0a0" stroke-width="0.6"/>
<text x="36.7" y="335.9" font-size="7.4" text-anchor="start" style="font-family:'Liberation Serif',serif;font-weight:bold" fill="#000" stroke="#000" stroke-width="0.18">0.3</text>
<clipPath id="k18"><rect x="69.5" y="330.5" width="37" height="36"/></clipPath>
<g clip-path="url(#k18)">
<g transform="translate(69.5,330.5)">
<path d="M-1.00,4.00 C0.33,1.83 5.58,2.17 7.00,4.00 C8.42,5.83 8.83,12.83 7.50,15.00 C6.17,17.17 0.42,18.83 -1.00,17.00 C-2.42,15.17 -2.33,6.17 -1.00,4.00 Z" fill="#dfe4f4" opacity="0.2" filter="url(#bl2)"/>
<path d="M-1,26 C4,30 10,34 20,36.5 L20,37 L-1,37 Z" fill="#ccd2ea" opacity="0.7" filter="url(#bl2)"/>
<clipPath id="dO10"><path d="M-2.00,17.30 C-0.98,15.33 2.45,16.28 4.10,15.90 C5.75,15.52 6.95,15.55 7.90,15.00 C8.85,14.45 9.17,13.47 9.80,12.60 C10.43,11.73 10.77,10.58 11.70,9.80 C12.63,9.02 14.00,8.25 15.40,7.90 C16.80,7.55 19.08,7.47 20.10,7.70 C21.12,7.93 21.57,8.63 21.50,9.30 C21.43,9.97 20.17,10.98 19.70,11.70 C19.23,12.42 18.63,12.82 18.70,13.60 C18.77,14.38 19.47,15.47 20.10,16.40 C20.73,17.33 21.90,18.12 22.50,19.20 C23.10,20.28 23.50,21.33 23.70,22.90 C23.90,24.47 23.78,26.55 23.70,28.60 C23.62,30.65 23.32,33.63 23.20,35.20 C23.08,36.77 24.60,37.53 23.00,38.00 C21.40,38.47 15.17,38.38 13.60,38.00 C12.03,37.62 13.92,36.32 13.60,35.70 C13.28,35.08 12.65,35.02 11.70,34.30 C10.75,33.58 9.17,32.18 7.90,31.40 C6.63,30.62 5.75,30.22 4.10,29.60 C2.45,28.98 -0.98,29.75 -2.00,27.70 C-3.02,25.65 -3.02,19.27 -2.00,17.30 Z"/></clipPath>
<path d="M-2.00,17.30 C-0.98,15.33 2.45,16.28 4.10,15.90 C5.75,15.52 6.95,15.55 7.90,15.00 C8.85,14.45 9.17,13.47 9.80,12.60 C10.43,11.73 10.77,10.58 11.70,9.80 C12.63,9.02 14.00,8.25 15.40,7.90 C16.80,7.55 19.08,7.47 20.10,7.70 C21.12,7.93 21.57,8.63 21.50,9.30 C21.43,9.97 20.17,10.98 19.70,11.70 C19.23,12.42 18.63,12.82 18.70,13.60 C18.77,14.38 19.47,15.47 20.10,16.40 C20.73,17.33 21.90,18.12 22.50,19.20 C23.10,20.28 23.50,21.33 23.70,22.90 C23.90,24.47 23.78,26.55 23.70,28.60 C23.62,30.65 23.32,33.63 23.20,35.20 C23.08,36.77 24.60,37.53 23.00,38.00 C21.40,38.47 15.17,38.38 13.60,38.00 C12.03,37.62 13.92,36.32 13.60,35.70 C13.28,35.08 12.65,35.02 11.70,34.30 C10.75,33.58 9.17,32.18 7.90,31.40 C6.63,30.62 5.75,30.22 4.10,29.60 C2.45,28.98 -0.98,29.75 -2.00,27.70 C-3.02,25.65 -3.02,19.27 -2.00,17.30 Z" fill="#0050ff" filter="url(#bl4)"/>
<g clip-path="url(#dO10)"><g filter="url(#bl3)">
<ellipse cx="16.2" cy="10.4" rx="6.06" ry="3.00" transform="rotate(-15 16.2 10.4)" fill="none" stroke="#0410c0" stroke-width="1.3"/>
<ellipse cx="16.2" cy="10.4" rx="5.46" ry="2.40" transform="rotate(-15 16.2 10.4)" fill="#0090ff"/>
<ellipse cx="16.4" cy="10.4" rx="4.20" ry="1.60" transform="rotate(-15 16.2 10.4)" fill="#10d8f0"/>
<ellipse cx="16.599999999999998" cy="10.4" rx="2.44" ry="0.93" transform="rotate(-15 16.2 10.4)" fill="#40f060"/>
<path d="M-3.00,20.00 C-0.72,18.57 7.08,20.57 10.70,19.90 C14.32,19.23 16.45,16.55 18.70,16.00 C20.95,15.45 23.20,15.62 24.20,16.60 C25.20,17.58 24.82,20.02 24.70,21.90 C24.58,23.78 24.10,25.68 23.50,27.90 C22.90,30.12 22.27,33.98 21.10,35.20 C19.93,36.42 17.70,36.17 16.50,35.20 C15.30,34.23 14.87,30.53 13.90,29.40 C12.93,28.27 13.52,28.55 10.70,28.40 C7.88,28.25 -0.72,29.90 -3.00,28.50 C-5.28,27.10 -5.28,21.43 -3.00,20.00 Z" fill="#0098ff"/>
<path d="M4.00,22.20 C5.28,21.38 9.25,21.73 11.70,20.90 C14.15,20.07 16.78,17.70 18.70,17.20 C20.62,16.70 22.37,17.12 23.20,17.90 C24.03,18.68 23.82,20.32 23.70,21.90 C23.58,23.48 23.07,25.38 22.50,27.40 C21.93,29.42 21.13,32.90 20.30,34.00 C19.47,35.10 18.35,34.93 17.50,34.00 C16.65,33.07 16.17,29.57 15.20,28.40 C14.23,27.23 13.57,27.43 11.70,27.00 C9.83,26.57 5.28,26.60 4.00,25.80 C2.72,25.00 2.72,23.02 4.00,22.20 Z" fill="#10e0f0"/>
<path d="M11.20,19.10 C12.03,18.55 14.20,18.68 15.70,18.60 C17.20,18.52 19.10,18.38 20.20,18.60 C21.30,18.82 21.95,19.10 22.30,19.90 C22.65,20.70 22.50,22.07 22.30,23.40 C22.10,24.73 21.57,26.37 21.10,27.90 C20.63,29.43 20.00,31.82 19.50,32.60 C19.00,33.38 18.65,33.38 18.10,32.60 C17.55,31.82 16.93,29.23 16.20,27.90 C15.47,26.57 14.62,25.60 13.70,24.60 C12.78,23.60 11.12,22.82 10.70,21.90 C10.28,20.98 10.37,19.65 11.20,19.10 Z" fill="#50f060"/>
<ellipse cx="18.7" cy="23.7" rx="2.6" ry="3.1" fill="#c8f030"/>
<ellipse cx="18.7" cy="23.5" rx="1.8" ry="2.1" fill="#ffd000"/>
<ellipse cx="18.7" cy="23.4" rx="1.35" ry="1.45" fill="#e83000"/>
<circle cx="18.7" cy="23.4" r="0.9" fill="#c80000"/>
</g>
<path d="M-2.00,17.30 C-0.98,15.33 2.45,16.28 4.10,15.90 C5.75,15.52 6.95,15.55 7.90,15.00 C8.85,14.45 9.17,13.47 9.80,12.60 C10.43,11.73 10.77,10.58 11.70,9.80 C12.63,9.02 14.00,8.25 15.40,7.90 C16.80,7.55 19.08,7.47 20.10,7.70 C21.12,7.93 21.57,8.63 21.50,9.30 C21.43,9.97 20.17,10.98 19.70,11.70 C19.23,12.42 18.63,12.82 18.70,13.60 C18.77,14.38 19.47,15.47 20.10,16.40 C20.73,17.33 21.90,18.12 22.50,19.20 C23.10,20.28 23.50,21.33 23.70,22.90 C23.90,24.47 23.78,26.55 23.70,28.60 C23.62,30.65 23.32,33.63 23.20,35.20 C23.08,36.77 24.60,37.53 23.00,38.00 C21.40,38.47 15.17,38.38 13.60,38.00 C12.03,37.62 13.92,36.32 13.60,35.70 C13.28,35.08 12.65,35.02 11.70,34.30 C10.75,33.58 9.17,32.18 7.90,31.40 C6.63,30.62 5.75,30.22 4.10,29.60 C2.45,28.98 -0.98,29.75 -2.00,27.70 C-3.02,25.65 -3.02,19.27 -2.00,17.30 Z" fill="none" stroke="#0008b8" stroke-width="2.4" stroke-linejoin="round" filter="url(#bl4)"/>
</g></g>
</g>
<rect x="69.5" y="330.5" width="37" height="36" fill="none" stroke="#a0a0a0" stroke-width="1.2"/>
<rect x="70.7" y="333.8" width="5.7" height="13.2" fill="none" stroke="#a0a0a0" stroke-width="0.6"/>
<text x="77.7" y="335.9" font-size="7.4" text-anchor="start" style="font-family:'Liberation Serif',serif;font-weight:bold" fill="#000" stroke="#000" stroke-width="0.18">0.3</text>
<clipPath id="k19"><rect x="110.5" y="330.5" width="37" height="36"/></clipPath>
<g clip-path="url(#k19)">
<g transform="translate(110.5,330.5)">
<path d="M-1.00,4.00 C0.33,2.33 5.58,2.67 7.00,4.00 C8.42,5.33 8.83,10.33 7.50,12.00 C6.17,13.67 0.42,15.33 -1.00,14.00 C-2.42,12.67 -2.33,5.67 -1.00,4.00 Z" fill="#dfe4f4" opacity="0.2" filter="url(#bl2)"/>
<path d="M-1,26 C4,30 10,34 20,36.5 L20,37 L-1,37 Z" fill="#ccd2ea" opacity="0.7" filter="url(#bl2)"/>
<clipPath id="dO11"><path d="M-2.00,14.50 C-0.98,11.67 2.13,13.38 4.10,12.60 C6.07,11.82 8.07,10.50 9.80,9.80 C11.53,9.10 12.62,8.80 14.50,8.40 C16.38,8.00 19.85,7.40 21.10,7.40 C22.35,7.40 22.17,7.77 22.00,8.40 C21.83,9.03 20.65,10.27 20.10,11.20 C19.55,12.13 18.77,13.22 18.70,14.00 C18.63,14.78 19.07,15.12 19.70,15.90 C20.33,16.68 21.77,17.68 22.50,18.70 C23.23,19.72 23.78,20.67 24.10,22.00 C24.42,23.33 24.47,24.97 24.40,26.70 C24.33,28.43 23.90,30.90 23.70,32.40 C23.50,33.90 23.32,34.77 23.20,35.70 C23.08,36.63 23.98,37.62 23.00,38.00 C22.02,38.38 18.25,38.33 17.30,38.00 C16.35,37.67 18.72,36.38 17.30,36.00 C15.88,35.62 11.00,36.15 8.80,35.70 C6.60,35.25 5.90,34.32 4.10,33.30 C2.30,32.28 -0.98,32.73 -2.00,29.60 C-3.02,26.47 -3.02,17.33 -2.00,14.50 Z"/></clipPath>
<path d="M-2.00,14.50 C-0.98,11.67 2.13,13.38 4.10,12.60 C6.07,11.82 8.07,10.50 9.80,9.80 C11.53,9.10 12.62,8.80 14.50,8.40 C16.38,8.00 19.85,7.40 21.10,7.40 C22.35,7.40 22.17,7.77 22.00,8.40 C21.83,9.03 20.65,10.27 20.10,11.20 C19.55,12.13 18.77,13.22 18.70,14.00 C18.63,14.78 19.07,15.12 19.70,15.90 C20.33,16.68 21.77,17.68 22.50,18.70 C23.23,19.72 23.78,20.67 24.10,22.00 C24.42,23.33 24.47,24.97 24.40,26.70 C24.33,28.43 23.90,30.90 23.70,32.40 C23.50,33.90 23.32,34.77 23.20,35.70 C23.08,36.63 23.98,37.62 23.00,38.00 C22.02,38.38 18.25,38.33 17.30,38.00 C16.35,37.67 18.72,36.38 17.30,36.00 C15.88,35.62 11.00,36.15 8.80,35.70 C6.60,35.25 5.90,34.32 4.10,33.30 C2.30,32.28 -0.98,32.73 -2.00,29.60 C-3.02,26.47 -3.02,17.33 -2.00,14.50 Z" fill="#0050ff" filter="url(#bl4)"/>
<g clip-path="url(#dO11)"><g filter="url(#bl3)">
<ellipse cx="14.5" cy="10.8" rx="7.10" ry="3.00" transform="rotate(-20 14.5 10.8)" fill="none" stroke="#0410c0" stroke-width="1.3"/>
<ellipse cx="14.5" cy="10.8" rx="6.50" ry="2.40" transform="rotate(-20 14.5 10.8)" fill="#0090ff"/>
<ellipse cx="14.7" cy="10.8" rx="5.00" ry="1.60" transform="rotate(-20 14.5 10.8)" fill="#10d8f0"/>
<ellipse cx="14.9" cy="10.8" rx="2.90" ry="0.93" transform="rotate(-20 14.5 10.8)" fill="#40f060"/>
<path d="M-3.00,19.50 C-0.55,17.98 7.92,19.98 11.70,19.40 C15.48,18.82 17.45,16.47 19.70,16.00 C21.95,15.53 24.20,15.62 25.20,16.60 C26.20,17.58 25.82,20.02 25.70,21.90 C25.58,23.78 25.10,25.68 24.50,27.90 C23.90,30.12 23.27,33.98 22.10,35.20 C20.93,36.42 18.70,36.17 17.50,35.20 C16.30,34.23 15.87,30.53 14.90,29.40 C13.93,28.27 14.68,28.55 11.70,28.40 C8.72,28.25 -0.55,29.98 -3.00,28.50 C-5.45,27.02 -5.45,21.02 -3.00,19.50 Z" fill="#0098ff"/>
<path d="M2.00,21.70 C3.78,20.80 9.75,21.15 12.70,20.40 C15.65,19.65 17.78,17.62 19.70,17.20 C21.62,16.78 23.37,17.12 24.20,17.90 C25.03,18.68 24.82,20.32 24.70,21.90 C24.58,23.48 24.07,25.38 23.50,27.40 C22.93,29.42 22.13,32.90 21.30,34.00 C20.47,35.10 19.35,34.93 18.50,34.00 C17.65,33.07 17.17,29.57 16.20,28.40 C15.23,27.23 15.07,27.43 12.70,27.00 C10.33,26.57 3.78,26.68 2.00,25.80 C0.22,24.92 0.22,22.60 2.00,21.70 Z" fill="#10e0f0"/>
<path d="M12.20,19.10 C13.03,18.55 15.20,18.68 16.70,18.60 C18.20,18.52 20.10,18.38 21.20,18.60 C22.30,18.82 22.95,19.10 23.30,19.90 C23.65,20.70 23.50,22.07 23.30,23.40 C23.10,24.73 22.57,26.37 22.10,27.90 C21.63,29.43 21.00,31.82 20.50,32.60 C20.00,33.38 19.65,33.38 19.10,32.60 C18.55,31.82 17.93,29.23 17.20,27.90 C16.47,26.57 15.62,25.60 14.70,24.60 C13.78,23.60 12.12,22.82 11.70,21.90 C11.28,20.98 11.37,19.65 12.20,19.10 Z" fill="#50f060"/>
<ellipse cx="19.7" cy="23.7" rx="2.6" ry="3.1" fill="#c8f030"/>
<ellipse cx="19.7" cy="23.5" rx="1.8" ry="2.1" fill="#ffd000"/>
<ellipse cx="19.7" cy="23.4" rx="1.35" ry="1.45" fill="#e83000"/>
<circle cx="19.7" cy="23.4" r="0.9" fill="#c80000"/>
</g>
<path d="M-2.00,14.50 C-0.98,11.67 2.13,13.38 4.10,12.60 C6.07,11.82 8.07,10.50 9.80,9.80 C11.53,9.10 12.62,8.80 14.50,8.40 C16.38,8.00 19.85,7.40 21.10,7.40 C22.35,7.40 22.17,7.77 22.00,8.40 C21.83,9.03 20.65,10.27 20.10,11.20 C19.55,12.13 18.77,13.22 18.70,14.00 C18.63,14.78 19.07,15.12 19.70,15.90 C20.33,16.68 21.77,17.68 22.50,18.70 C23.23,19.72 23.78,20.67 24.10,22.00 C24.42,23.33 24.47,24.97 24.40,26.70 C24.33,28.43 23.90,30.90 23.70,32.40 C23.50,33.90 23.32,34.77 23.20,35.70 C23.08,36.63 23.98,37.62 23.00,38.00 C22.02,38.38 18.25,38.33 17.30,38.00 C16.35,37.67 18.72,36.38 17.30,36.00 C15.88,35.62 11.00,36.15 8.80,35.70 C6.60,35.25 5.90,34.32 4.10,33.30 C2.30,32.28 -0.98,32.73 -2.00,29.60 C-3.02,26.47 -3.02,17.33 -2.00,14.50 Z" fill="none" stroke="#0008b8" stroke-width="2.4" stroke-linejoin="round" filter="url(#bl4)"/>
</g></g>
</g>
<rect x="110.5" y="330.5" width="37" height="36" fill="none" stroke="#a0a0a0" stroke-width="1.2"/>
<rect x="111.7" y="333.8" width="5.7" height="13.2" fill="none" stroke="#a0a0a0" stroke-width="0.6"/>
<text x="118.7" y="335.9" font-size="7.4" text-anchor="start" style="font-family:'Liberation Serif',serif;font-weight:bold" fill="#000" stroke="#000" stroke-width="0.18">0.7</text>
<clipPath id="k20"><rect x="151.5" y="330.5" width="37" height="36"/></clipPath>
<g clip-path="url(#k20)">
<g transform="translate(151.5,330.5)">
<path d="M-1.00,4.00 C0.33,2.58 5.58,2.83 7.00,4.00 C8.42,5.17 8.83,9.58 7.50,11.00 C6.17,12.42 0.42,13.67 -1.00,12.50 C-2.42,11.33 -2.33,5.42 -1.00,4.00 Z" fill="#dfe4f4" opacity="0.2" filter="url(#bl2)"/>
<path d="M-1,26 C4,30 10,34 20,36.5 L20,37 L-1,37 Z" fill="#ccd2ea" opacity="0.7" filter="url(#bl2)"/>
<clipPath id="dO12"><path d="M-2.00,12.80 C-0.98,10.37 2.13,11.70 4.10,11.20 C6.07,10.70 7.92,10.27 9.80,9.80 C11.68,9.33 13.60,8.75 15.40,8.40 C17.20,8.05 19.57,7.63 20.60,7.70 C21.63,7.77 21.75,8.22 21.60,8.80 C21.45,9.38 20.18,10.40 19.70,11.20 C19.22,12.00 18.63,12.73 18.70,13.60 C18.77,14.47 19.47,15.47 20.10,16.40 C20.73,17.33 21.95,18.12 22.50,19.20 C23.05,20.28 23.25,21.33 23.40,22.90 C23.55,24.47 23.50,26.55 23.40,28.60 C23.30,30.65 22.95,33.63 22.80,35.20 C22.65,36.77 24.03,37.53 22.50,38.00 C20.97,38.47 15.08,38.38 13.60,38.00 C12.12,37.62 13.92,36.40 13.60,35.70 C13.28,35.00 12.50,34.58 11.70,33.80 C10.90,33.02 10.07,31.87 8.80,31.00 C7.53,30.13 5.90,29.47 4.10,28.60 C2.30,27.73 -0.98,28.43 -2.00,25.80 C-3.02,23.17 -3.02,15.23 -2.00,12.80 Z"/></clipPath>
<path d="M-2.00,12.80 C-0.98,10.37 2.13,11.70 4.10,11.20 C6.07,10.70 7.92,10.27 9.80,9.80 C11.68,9.33 13.60,8.75 15.40,8.40 C17.20,8.05 19.57,7.63 20.60,7.70 C21.63,7.77 21.75,8.22 21.60,8.80 C21.45,9.38 20.18,10.40 19.70,11.20 C19.22,12.00 18.63,12.73 18.70,13.60 C18.77,14.47 19.47,15.47 20.10,16.40 C20.73,17.33 21.95,18.12 22.50,19.20 C23.05,20.28 23.25,21.33 23.40,22.90 C23.55,24.47 23.50,26.55 23.40,28.60 C23.30,30.65 22.95,33.63 22.80,35.20 C22.65,36.77 24.03,37.53 22.50,38.00 C20.97,38.47 15.08,38.38 13.60,38.00 C12.12,37.62 13.92,36.40 13.60,35.70 C13.28,35.00 12.50,34.58 11.70,33.80 C10.90,33.02 10.07,31.87 8.80,31.00 C7.53,30.13 5.90,29.47 4.10,28.60 C2.30,27.73 -0.98,28.43 -2.00,25.80 C-3.02,23.17 -3.02,15.23 -2.00,12.80 Z" fill="#0050ff" filter="url(#bl4)"/>
<g clip-path="url(#dO12)"><g filter="url(#bl3)">
<ellipse cx="12.6" cy="11.5" rx="8.14" ry="3.00" transform="rotate(-12 12.6 11.5)" fill="none" stroke="#0410c0" stroke-width="1.3"/>
<ellipse cx="12.6" cy="11.5" rx="7.54" ry="2.40" transform="rotate(-12 12.6 11.5)" fill="#0090ff"/>
<ellipse cx="12.799999999999999" cy="11.5" rx="5.80" ry="1.60" transform="rotate(-12 12.6 11.5)" fill="#10d8f0"/>
<ellipse cx="13.0" cy="11.5" rx="3.36" ry="0.93" transform="rotate(-12 12.6 11.5)" fill="#40f060"/>
<path d="M-3.00,19.50 C-0.72,18.07 7.08,19.98 10.70,19.40 C14.32,18.82 16.45,16.47 18.70,16.00 C20.95,15.53 23.20,15.62 24.20,16.60 C25.20,17.58 24.82,20.02 24.70,21.90 C24.58,23.78 24.10,25.68 23.50,27.90 C22.90,30.12 22.27,33.98 21.10,35.20 C19.93,36.42 17.70,36.17 16.50,35.20 C15.30,34.23 14.87,30.62 13.90,29.40 C12.93,28.18 13.52,28.13 10.70,27.90 C7.88,27.67 -0.72,29.40 -3.00,28.00 C-5.28,26.60 -5.28,20.93 -3.00,19.50 Z" fill="#0098ff"/>
<path d="M2.00,21.70 C3.62,20.88 8.92,21.15 11.70,20.40 C14.48,19.65 16.78,17.62 18.70,17.20 C20.62,16.78 22.37,17.12 23.20,17.90 C24.03,18.68 23.82,20.32 23.70,21.90 C23.58,23.48 23.07,25.38 22.50,27.40 C21.93,29.42 21.13,32.90 20.30,34.00 C19.47,35.10 18.35,34.93 17.50,34.00 C16.65,33.07 16.17,29.65 15.20,28.40 C14.23,27.15 13.90,27.02 11.70,26.50 C9.50,25.98 3.62,26.10 2.00,25.30 C0.38,24.50 0.38,22.52 2.00,21.70 Z" fill="#10e0f0"/>
<path d="M11.20,19.10 C12.03,18.55 14.20,18.68 15.70,18.60 C17.20,18.52 19.10,18.38 20.20,18.60 C21.30,18.82 21.95,19.10 22.30,19.90 C22.65,20.70 22.50,22.07 22.30,23.40 C22.10,24.73 21.57,26.37 21.10,27.90 C20.63,29.43 20.00,31.82 19.50,32.60 C19.00,33.38 18.65,33.38 18.10,32.60 C17.55,31.82 16.93,29.23 16.20,27.90 C15.47,26.57 14.62,25.60 13.70,24.60 C12.78,23.60 11.12,22.82 10.70,21.90 C10.28,20.98 10.37,19.65 11.20,19.10 Z" fill="#50f060"/>
<ellipse cx="18.7" cy="23.7" rx="2.6" ry="3.1" fill="#c8f030"/>
<ellipse cx="18.7" cy="23.5" rx="1.8" ry="2.1" fill="#ffd000"/>
<ellipse cx="18.7" cy="23.4" rx="1.35" ry="1.45" fill="#e83000"/>
<circle cx="18.7" cy="23.4" r="0.9" fill="#c80000"/>
</g>
<path d="M-2.00,12.80 C-0.98,10.37 2.13,11.70 4.10,11.20 C6.07,10.70 7.92,10.27 9.80,9.80 C11.68,9.33 13.60,8.75 15.40,8.40 C17.20,8.05 19.57,7.63 20.60,7.70 C21.63,7.77 21.75,8.22 21.60,8.80 C21.45,9.38 20.18,10.40 19.70,11.20 C19.22,12.00 18.63,12.73 18.70,13.60 C18.77,14.47 19.47,15.47 20.10,16.40 C20.73,17.33 21.95,18.12 22.50,19.20 C23.05,20.28 23.25,21.33 23.40,22.90 C23.55,24.47 23.50,26.55 23.40,28.60 C23.30,30.65 22.95,33.63 22.80,35.20 C22.65,36.77 24.03,37.53 22.50,38.00 C20.97,38.47 15.08,38.38 13.60,38.00 C12.12,37.62 13.92,36.40 13.60,35.70 C13.28,35.00 12.50,34.58 11.70,33.80 C10.90,33.02 10.07,31.87 8.80,31.00 C7.53,30.13 5.90,29.47 4.10,28.60 C2.30,27.73 -0.98,28.43 -2.00,25.80 C-3.02,23.17 -3.02,15.23 -2.00,12.80 Z" fill="none" stroke="#0008b8" stroke-width="2.4" stroke-linejoin="round" filter="url(#bl4)"/>
</g></g>
</g>
<rect x="151.5" y="330.5" width="37" height="36" fill="none" stroke="#a0a0a0" stroke-width="1.2"/>
<rect x="152.7" y="333.8" width="5.7" height="13.2" fill="none" stroke="#a0a0a0" stroke-width="0.6"/>
<text x="159.7" y="335.9" font-size="7.4" text-anchor="start" style="font-family:'Liberation Serif',serif;font-weight:bold" fill="#000" stroke="#000" stroke-width="0.18">1.4</text>
<clipPath id="k21"><rect x="28.5" y="371.5" width="37" height="36"/></clipPath>
<g clip-path="url(#k21)">
<g transform="translate(28.5,371.5)">
<path d="M-1.00,4.00 C0.33,1.67 5.58,2.00 7.00,4.00 C8.42,6.00 8.83,13.67 7.50,16.00 C6.17,18.33 0.42,20.00 -1.00,18.00 C-2.42,16.00 -2.33,6.33 -1.00,4.00 Z" fill="#dfe4f4" opacity="0.2" filter="url(#bl2)"/>
<path d="M-1,26 C4,30 10,34 20,36.5 L20,37 L-1,37 Z" fill="#ccd2ea" opacity="0.7" filter="url(#bl2)"/>
<clipPath id="dO13"><path d="M-2.00,18.70 C-0.67,17.22 3.72,18.12 6.00,17.80 C8.28,17.48 10.27,17.20 11.70,16.80 C13.13,16.40 14.72,15.83 14.60,15.40 C14.48,14.97 12.12,14.58 11.00,14.20 C9.88,13.82 8.57,13.68 7.90,13.10 C7.23,12.52 6.82,11.25 7.00,10.70 C7.18,10.15 8.07,10.03 9.00,9.80 C9.93,9.57 11.27,9.53 12.60,9.30 C13.93,9.07 15.67,8.63 17.00,8.40 C18.33,8.17 19.92,7.75 20.60,7.90 C21.28,8.05 21.10,8.67 21.10,9.30 C21.10,9.93 20.77,10.75 20.60,11.70 C20.43,12.65 19.93,14.07 20.10,15.00 C20.27,15.93 21.08,16.28 21.60,17.30 C22.12,18.32 22.90,19.53 23.20,21.10 C23.50,22.67 23.43,24.35 23.40,26.70 C23.37,29.05 23.15,33.32 23.00,35.20 C22.85,37.08 23.92,37.53 22.50,38.00 C21.08,38.47 15.83,38.38 14.50,38.00 C13.17,37.62 14.82,36.32 14.50,35.70 C14.18,35.08 13.55,34.93 12.60,34.30 C11.65,33.67 10.22,32.68 8.80,31.90 C7.38,31.12 5.90,30.47 4.10,29.60 C2.30,28.73 -0.98,28.52 -2.00,26.70 C-3.02,24.88 -3.33,20.18 -2.00,18.70 Z"/></clipPath>
<path d="M-2.00,18.70 C-0.67,17.22 3.72,18.12 6.00,17.80 C8.28,17.48 10.27,17.20 11.70,16.80 C13.13,16.40 14.72,15.83 14.60,15.40 C14.48,14.97 12.12,14.58 11.00,14.20 C9.88,13.82 8.57,13.68 7.90,13.10 C7.23,12.52 6.82,11.25 7.00,10.70 C7.18,10.15 8.07,10.03 9.00,9.80 C9.93,9.57 11.27,9.53 12.60,9.30 C13.93,9.07 15.67,8.63 17.00,8.40 C18.33,8.17 19.92,7.75 20.60,7.90 C21.28,8.05 21.10,8.67 21.10,9.30 C21.10,9.93 20.77,10.75 20.60,11.70 C20.43,12.65 19.93,14.07 20.10,15.00 C20.27,15.93 21.08,16.28 21.60,17.30 C22.12,18.32 22.90,19.53 23.20,21.10 C23.50,22.67 23.43,24.35 23.40,26.70 C23.37,29.05 23.15,33.32 23.00,35.20 C22.85,37.08 23.92,37.53 22.50,38.00 C21.08,38.47 15.83,38.38 14.50,38.00 C13.17,37.62 14.82,36.32 14.50,35.70 C14.18,35.08 13.55,34.93 12.60,34.30 C11.65,33.67 10.22,32.68 8.80,31.90 C7.38,31.12 5.90,30.47 4.10,29.60 C2.30,28.73 -0.98,28.52 -2.00,26.70 C-3.02,24.88 -3.33,20.18 -2.00,18.70 Z" fill="#0050ff" filter="url(#bl4)"/>
<g clip-path="url(#dO13)"><g filter="url(#bl3)">
<ellipse cx="15.8" cy="10.8" rx="6.06" ry="2.55" transform="rotate(-10 15.8 10.8)" fill="none" stroke="#0410c0" stroke-width="1.3"/>
<ellipse cx="15.8" cy="10.8" rx="5.46" ry="1.95" transform="rotate(-10 15.8 10.8)" fill="#0090ff"/>
<ellipse cx="16.0" cy="10.8" rx="4.20" ry="1.30" transform="rotate(-10 15.8 10.8)" fill="#10d8f0"/>
<ellipse cx="16.2" cy="10.8" rx="2.44" ry="0.75" transform="rotate(-10 15.8 10.8)" fill="#40f060"/>
<path d="M-3.00,20.50 C-0.72,19.15 7.08,21.15 10.70,20.40 C14.32,19.65 16.45,16.63 18.70,16.00 C20.95,15.37 23.20,15.62 24.20,16.60 C25.20,17.58 24.82,20.02 24.70,21.90 C24.58,23.78 24.10,25.68 23.50,27.90 C22.90,30.12 22.27,33.98 21.10,35.20 C19.93,36.42 17.70,36.17 16.50,35.20 C15.30,34.23 14.87,30.53 13.90,29.40 C12.93,28.27 13.52,28.55 10.70,28.40 C7.88,28.25 -0.72,29.82 -3.00,28.50 C-5.28,27.18 -5.28,21.85 -3.00,20.50 Z" fill="#0098ff"/>
<path d="M5.00,22.70 C6.12,21.97 9.42,22.32 11.70,21.40 C13.98,20.48 16.78,17.78 18.70,17.20 C20.62,16.62 22.37,17.12 23.20,17.90 C24.03,18.68 23.82,20.32 23.70,21.90 C23.58,23.48 23.07,25.38 22.50,27.40 C21.93,29.42 21.13,32.90 20.30,34.00 C19.47,35.10 18.35,34.93 17.50,34.00 C16.65,33.07 16.17,29.57 15.20,28.40 C14.23,27.23 13.40,27.43 11.70,27.00 C10.00,26.57 6.12,26.52 5.00,25.80 C3.88,25.08 3.88,23.43 5.00,22.70 Z" fill="#10e0f0"/>
<path d="M11.20,19.10 C12.03,18.55 14.20,18.68 15.70,18.60 C17.20,18.52 19.10,18.38 20.20,18.60 C21.30,18.82 21.95,19.10 22.30,19.90 C22.65,20.70 22.50,22.07 22.30,23.40 C22.10,24.73 21.57,26.37 21.10,27.90 C20.63,29.43 20.00,31.82 19.50,32.60 C19.00,33.38 18.65,33.38 18.10,32.60 C17.55,31.82 16.93,29.23 16.20,27.90 C15.47,26.57 14.62,25.60 13.70,24.60 C12.78,23.60 11.12,22.82 10.70,21.90 C10.28,20.98 10.37,19.65 11.20,19.10 Z" fill="#50f060"/>
<ellipse cx="18.7" cy="23.7" rx="2.6" ry="3.1" fill="#c8f030"/>
<ellipse cx="18.7" cy="23.5" rx="1.8" ry="2.1" fill="#ffd000"/>
<ellipse cx="18.7" cy="23.4" rx="1.35" ry="1.45" fill="#e83000"/>
<circle cx="18.7" cy="23.4" r="0.9" fill="#c80000"/>
</g>
<path d="M-2.00,18.70 C-0.67,17.22 3.72,18.12 6.00,17.80 C8.28,17.48 10.27,17.20 11.70,16.80 C13.13,16.40 14.72,15.83 14.60,15.40 C14.48,14.97 12.12,14.58 11.00,14.20 C9.88,13.82 8.57,13.68 7.90,13.10 C7.23,12.52 6.82,11.25 7.00,10.70 C7.18,10.15 8.07,10.03 9.00,9.80 C9.93,9.57 11.27,9.53 12.60,9.30 C13.93,9.07 15.67,8.63 17.00,8.40 C18.33,8.17 19.92,7.75 20.60,7.90 C21.28,8.05 21.10,8.67 21.10,9.30 C21.10,9.93 20.77,10.75 20.60,11.70 C20.43,12.65 19.93,14.07 20.10,15.00 C20.27,15.93 21.08,16.28 21.60,17.30 C22.12,18.32 22.90,19.53 23.20,21.10 C23.50,22.67 23.43,24.35 23.40,26.70 C23.37,29.05 23.15,33.32 23.00,35.20 C22.85,37.08 23.92,37.53 22.50,38.00 C21.08,38.47 15.83,38.38 14.50,38.00 C13.17,37.62 14.82,36.32 14.50,35.70 C14.18,35.08 13.55,34.93 12.60,34.30 C11.65,33.67 10.22,32.68 8.80,31.90 C7.38,31.12 5.90,30.47 4.10,29.60 C2.30,28.73 -0.98,28.52 -2.00,26.70 C-3.02,24.88 -3.33,20.18 -2.00,18.70 Z" fill="none" stroke="#0008b8" stroke-width="2.4" stroke-linejoin="round" filter="url(#bl4)"/>
</g></g>
</g>
<rect x="28.5" y="371.5" width="37" height="36" fill="none" stroke="#a0a0a0" stroke-width="1.2"/>
<rect x="29.7" y="374.8" width="5.7" height="13.2" fill="none" stroke="#a0a0a0" stroke-width="0.6"/>
<text x="36.7" y="376.9" font-size="7.4" text-anchor="start" style="font-family:'Liberation Serif',serif;font-weight:bold" fill="#000" stroke="#000" stroke-width="0.18">0.4</text>
<clipPath id="k22"><rect x="69.5" y="371.5" width="37" height="36"/></clipPath>
<g clip-path="url(#k22)">
<g transform="translate(69.5,371.5)">
<path d="M-1.00,4.00 C0.33,1.67 5.58,2.00 7.00,4.00 C8.42,6.00 8.83,13.67 7.50,16.00 C6.17,18.33 0.42,20.00 -1.00,18.00 C-2.42,16.00 -2.33,6.33 -1.00,4.00 Z" fill="#dfe4f4" opacity="0.2" filter="url(#bl2)"/>
<path d="M-1,26 C4,30 10,34 20,36.5 L20,37 L-1,37 Z" fill="#ccd2ea" opacity="0.7" filter="url(#bl2)"/>
<clipPath id="dO14"><path d="M-2.00,19.70 C-0.67,18.30 4.03,18.85 6.00,18.30 C7.97,17.75 8.70,16.95 9.80,16.40 C10.90,15.85 11.97,15.40 12.60,15.00 C13.23,14.60 13.92,14.55 13.60,14.00 C13.28,13.45 11.18,12.48 10.70,11.70 C10.22,10.92 10.07,9.93 10.70,9.30 C11.33,8.67 12.77,8.13 14.50,7.90 C16.23,7.67 19.92,7.75 21.10,7.90 C22.28,8.05 21.77,8.25 21.60,8.80 C21.43,9.35 20.35,10.33 20.10,11.20 C19.85,12.07 19.78,12.98 20.10,14.00 C20.42,15.02 21.48,15.97 22.00,17.30 C22.52,18.63 22.97,20.12 23.20,22.00 C23.43,23.88 23.47,26.32 23.40,28.60 C23.33,30.88 22.95,34.13 22.80,35.70 C22.65,37.27 23.80,37.62 22.50,38.00 C21.20,38.38 16.25,38.38 15.00,38.00 C13.75,37.62 15.40,36.48 15.00,35.70 C14.60,34.92 13.78,34.25 12.60,33.30 C11.42,32.35 9.32,30.78 7.90,30.00 C6.48,29.22 5.75,29.15 4.10,28.60 C2.45,28.05 -0.98,28.18 -2.00,26.70 C-3.02,25.22 -3.33,21.10 -2.00,19.70 Z"/></clipPath>
<path d="M-2.00,19.70 C-0.67,18.30 4.03,18.85 6.00,18.30 C7.97,17.75 8.70,16.95 9.80,16.40 C10.90,15.85 11.97,15.40 12.60,15.00 C13.23,14.60 13.92,14.55 13.60,14.00 C13.28,13.45 11.18,12.48 10.70,11.70 C10.22,10.92 10.07,9.93 10.70,9.30 C11.33,8.67 12.77,8.13 14.50,7.90 C16.23,7.67 19.92,7.75 21.10,7.90 C22.28,8.05 21.77,8.25 21.60,8.80 C21.43,9.35 20.35,10.33 20.10,11.20 C19.85,12.07 19.78,12.98 20.10,14.00 C20.42,15.02 21.48,15.97 22.00,17.30 C22.52,18.63 22.97,20.12 23.20,22.00 C23.43,23.88 23.47,26.32 23.40,28.60 C23.33,30.88 22.95,34.13 22.80,35.70 C22.65,37.27 23.80,37.62 22.50,38.00 C21.20,38.38 16.25,38.38 15.00,38.00 C13.75,37.62 15.40,36.48 15.00,35.70 C14.60,34.92 13.78,34.25 12.60,33.30 C11.42,32.35 9.32,30.78 7.90,30.00 C6.48,29.22 5.75,29.15 4.10,28.60 C2.45,28.05 -0.98,28.18 -2.00,26.70 C-3.02,25.22 -3.33,21.10 -2.00,19.70 Z" fill="#0050ff" filter="url(#bl4)"/>
<g clip-path="url(#dO14)"><g filter="url(#bl3)">
<ellipse cx="16.5" cy="10.0" rx="5.28" ry="2.40" transform="rotate(-10 16.5 10.0)" fill="none" stroke="#0410c0" stroke-width="1.3"/>
<ellipse cx="16.5" cy="10.0" rx="4.68" ry="1.80" transform="rotate(-10 16.5 10.0)" fill="#0090ff"/>
<ellipse cx="16.7" cy="10.0" rx="3.60" ry="1.20" transform="rotate(-10 16.5 10.0)" fill="#10d8f0"/>
<ellipse cx="16.9" cy="10.0" rx="2.09" ry="0.70" transform="rotate(-10 16.5 10.0)" fill="#40f060"/>
<path d="M-3.00,20.50 C-0.55,19.15 7.92,21.18 11.70,20.40 C15.48,19.62 17.45,16.47 19.70,15.80 C21.95,15.13 24.20,15.42 25.20,16.40 C26.20,17.38 25.82,19.82 25.70,21.70 C25.58,23.58 25.10,25.48 24.50,27.70 C23.90,29.92 23.27,33.78 22.10,35.00 C20.93,36.22 18.70,35.97 17.50,35.00 C16.30,34.03 15.87,30.30 14.90,29.20 C13.93,28.10 14.68,28.52 11.70,28.40 C8.72,28.28 -0.55,29.82 -3.00,28.50 C-5.45,27.18 -5.45,21.85 -3.00,20.50 Z" fill="#0098ff"/>
<path d="M5.00,22.70 C6.28,21.97 10.25,22.35 12.70,21.40 C15.15,20.45 17.78,17.62 19.70,17.00 C21.62,16.38 23.37,16.92 24.20,17.70 C25.03,18.48 24.82,20.12 24.70,21.70 C24.58,23.28 24.07,25.18 23.50,27.20 C22.93,29.22 22.13,32.70 21.30,33.80 C20.47,34.90 19.35,34.73 18.50,33.80 C17.65,32.87 17.17,29.33 16.20,28.20 C15.23,27.07 14.57,27.40 12.70,27.00 C10.83,26.60 6.28,26.52 5.00,25.80 C3.72,25.08 3.72,23.43 5.00,22.70 Z" fill="#10e0f0"/>
<path d="M12.20,18.90 C13.03,18.35 15.20,18.48 16.70,18.40 C18.20,18.32 20.10,18.18 21.20,18.40 C22.30,18.62 22.95,18.90 23.30,19.70 C23.65,20.50 23.50,21.87 23.30,23.20 C23.10,24.53 22.57,26.17 22.10,27.70 C21.63,29.23 21.00,31.62 20.50,32.40 C20.00,33.18 19.65,33.18 19.10,32.40 C18.55,31.62 17.93,29.03 17.20,27.70 C16.47,26.37 15.62,25.40 14.70,24.40 C13.78,23.40 12.12,22.62 11.70,21.70 C11.28,20.78 11.37,19.45 12.20,18.90 Z" fill="#50f060"/>
<ellipse cx="19.7" cy="23.5" rx="2.6" ry="3.1" fill="#c8f030"/>
<ellipse cx="19.7" cy="23.3" rx="1.8" ry="2.1" fill="#ffd000"/>
<ellipse cx="19.7" cy="23.2" rx="1.35" ry="1.45" fill="#e83000"/>
<circle cx="19.7" cy="23.2" r="0.9" fill="#c80000"/>
</g>
<path d="M-2.00,19.70 C-0.67,18.30 4.03,18.85 6.00,18.30 C7.97,17.75 8.70,16.95 9.80,16.40 C10.90,15.85 11.97,15.40 12.60,15.00 C13.23,14.60 13.92,14.55 13.60,14.00 C13.28,13.45 11.18,12.48 10.70,11.70 C10.22,10.92 10.07,9.93 10.70,9.30 C11.33,8.67 12.77,8.13 14.50,7.90 C16.23,7.67 19.92,7.75 21.10,7.90 C22.28,8.05 21.77,8.25 21.60,8.80 C21.43,9.35 20.35,10.33 20.10,11.20 C19.85,12.07 19.78,12.98 20.10,14.00 C20.42,15.02 21.48,15.97 22.00,17.30 C22.52,18.63 22.97,20.12 23.20,22.00 C23.43,23.88 23.47,26.32 23.40,28.60 C23.33,30.88 22.95,34.13 22.80,35.70 C22.65,37.27 23.80,37.62 22.50,38.00 C21.20,38.38 16.25,38.38 15.00,38.00 C13.75,37.62 15.40,36.48 15.00,35.70 C14.60,34.92 13.78,34.25 12.60,33.30 C11.42,32.35 9.32,30.78 7.90,30.00 C6.48,29.22 5.75,29.15 4.10,28.60 C2.45,28.05 -0.98,28.18 -2.00,26.70 C-3.02,25.22 -3.33,21.10 -2.00,19.70 Z" fill="none" stroke="#0008b8" stroke-width="2.4" stroke-linejoin="round" filter="url(#bl4)"/>
</g></g>
</g>
<rect x="69.5" y="371.5" width="37" height="36" fill="none" stroke="#a0a0a0" stroke-width="1.2"/>
<rect x="70.7" y="374.8" width="5.7" height="13.2" fill="none" stroke="#a0a0a0" stroke-width="0.6"/>
<text x="77.7" y="376.9" font-size="7.4" text-anchor="start" style="font-family:'Liberation Serif',serif;font-weight:bold" fill="#000" stroke="#000" stroke-width="0.18">0.2</text>
<clipPath id="k23"><rect x="110.5" y="371.5" width="37" height="36"/></clipPath>
<g clip-path="url(#k23)">
<g transform="translate(110.5,371.5)">
<path d="M-1.00,4.00 C0.33,1.83 5.58,2.33 7.00,4.00 C8.42,5.67 8.83,11.83 7.50,14.00 C6.17,16.17 0.42,18.67 -1.00,17.00 C-2.42,15.33 -2.33,6.17 -1.00,4.00 Z" fill="#dfe4f4" opacity="0.2" filter="url(#bl2)"/>
<path d="M-1,26 C4,30 10,34 20,36.5 L20,37 L-1,37 Z" fill="#ccd2ea" opacity="0.7" filter="url(#bl2)"/>
<clipPath id="dO15"><path d="M-2.00,19.20 C-1.17,17.58 1.50,18.40 3.00,17.80 C4.50,17.20 6.00,16.40 7.00,15.60 C8.00,14.80 8.48,13.78 9.00,13.00 C9.52,12.22 9.43,11.52 10.10,10.90 C10.77,10.28 11.95,9.73 13.00,9.30 C14.05,8.87 15.05,8.37 16.40,8.30 C17.75,8.23 20.28,8.62 21.10,8.90 C21.92,9.18 21.55,9.27 21.30,10.00 C21.05,10.73 20.02,12.23 19.60,13.30 C19.18,14.37 18.55,15.10 18.80,16.40 C19.05,17.70 20.58,19.00 21.10,21.10 C21.62,23.20 21.90,26.63 21.90,29.00 C21.90,31.37 21.33,33.80 21.10,35.30 C20.87,36.80 21.05,37.55 20.50,38.00 C19.95,38.45 18.25,38.33 17.80,38.00 C17.35,37.67 18.55,36.57 17.80,36.00 C17.05,35.43 15.37,35.37 13.30,34.60 C11.23,33.83 7.95,32.58 5.40,31.40 C2.85,30.22 -0.77,29.53 -2.00,27.50 C-3.23,25.47 -2.83,20.82 -2.00,19.20 Z"/></clipPath>
<path d="M-2.00,19.20 C-1.17,17.58 1.50,18.40 3.00,17.80 C4.50,17.20 6.00,16.40 7.00,15.60 C8.00,14.80 8.48,13.78 9.00,13.00 C9.52,12.22 9.43,11.52 10.10,10.90 C10.77,10.28 11.95,9.73 13.00,9.30 C14.05,8.87 15.05,8.37 16.40,8.30 C17.75,8.23 20.28,8.62 21.10,8.90 C21.92,9.18 21.55,9.27 21.30,10.00 C21.05,10.73 20.02,12.23 19.60,13.30 C19.18,14.37 18.55,15.10 18.80,16.40 C19.05,17.70 20.58,19.00 21.10,21.10 C21.62,23.20 21.90,26.63 21.90,29.00 C21.90,31.37 21.33,33.80 21.10,35.30 C20.87,36.80 21.05,37.55 20.50,38.00 C19.95,38.45 18.25,38.33 17.80,38.00 C17.35,37.67 18.55,36.57 17.80,36.00 C17.05,35.43 15.37,35.37 13.30,34.60 C11.23,33.83 7.95,32.58 5.40,31.40 C2.85,30.22 -0.77,29.53 -2.00,27.50 C-3.23,25.47 -2.83,20.82 -2.00,19.20 Z" fill="#0050ff" filter="url(#bl4)"/>
<g clip-path="url(#dO15)"><g filter="url(#bl3)">
<ellipse cx="15.0" cy="11.5" rx="6.45" ry="3.30" transform="rotate(-20 15.0 11.5)" fill="none" stroke="#0410c0" stroke-width="1.3"/>
<ellipse cx="15.0" cy="11.5" rx="5.85" ry="2.70" transform="rotate(-20 15.0 11.5)" fill="#0090ff"/>
<ellipse cx="15.2" cy="11.5" rx="4.50" ry="1.80" transform="rotate(-20 15.0 11.5)" fill="#10d8f0"/>
<ellipse cx="15.4" cy="11.5" rx="2.61" ry="1.04" transform="rotate(-20 15.0 11.5)" fill="#40f060"/>
<path d="M-3.00,20.50 C-0.70,19.15 7.17,21.13 10.80,20.40 C14.43,19.67 16.55,16.72 18.80,16.10 C21.05,15.48 23.30,15.72 24.30,16.70 C25.30,17.68 24.92,20.12 24.80,22.00 C24.68,23.88 24.20,25.78 23.60,28.00 C23.00,30.22 22.37,34.08 21.20,35.30 C20.03,36.52 17.80,36.27 16.60,35.30 C15.40,34.33 14.97,30.65 14.00,29.50 C13.03,28.35 13.63,28.57 10.80,28.40 C7.97,28.23 -0.70,29.82 -3.00,28.50 C-5.30,27.18 -5.30,21.85 -3.00,20.50 Z" fill="#0098ff"/>
<path d="M5.00,22.70 C6.13,21.97 9.50,22.30 11.80,21.40 C14.10,20.50 16.88,17.87 18.80,17.30 C20.72,16.73 22.47,17.22 23.30,18.00 C24.13,18.78 23.92,20.42 23.80,22.00 C23.68,23.58 23.17,25.48 22.60,27.50 C22.03,29.52 21.23,33.00 20.40,34.10 C19.57,35.20 18.45,35.03 17.60,34.10 C16.75,33.17 16.27,29.68 15.30,28.50 C14.33,27.32 13.52,27.45 11.80,27.00 C10.08,26.55 6.13,26.52 5.00,25.80 C3.87,25.08 3.87,23.43 5.00,22.70 Z" fill="#10e0f0"/>
<path d="M11.30,19.20 C12.13,18.65 14.30,18.78 15.80,18.70 C17.30,18.62 19.20,18.48 20.30,18.70 C21.40,18.92 22.05,19.20 22.40,20.00 C22.75,20.80 22.60,22.17 22.40,23.50 C22.20,24.83 21.67,26.47 21.20,28.00 C20.73,29.53 20.10,31.92 19.60,32.70 C19.10,33.48 18.75,33.48 18.20,32.70 C17.65,31.92 17.03,29.33 16.30,28.00 C15.57,26.67 14.72,25.70 13.80,24.70 C12.88,23.70 11.22,22.92 10.80,22.00 C10.38,21.08 10.47,19.75 11.30,19.20 Z" fill="#50f060"/>
<ellipse cx="18.8" cy="23.8" rx="2.6" ry="3.1" fill="#c8f030"/>
<ellipse cx="18.8" cy="23.6" rx="1.8" ry="2.1" fill="#ffd000"/>
<ellipse cx="18.8" cy="23.5" rx="1.35" ry="1.45" fill="#e83000"/>
<circle cx="18.8" cy="23.5" r="0.9" fill="#c80000"/>
</g>
<path d="M-2.00,19.20 C-1.17,17.58 1.50,18.40 3.00,17.80 C4.50,17.20 6.00,16.40 7.00,15.60 C8.00,14.80 8.48,13.78 9.00,13.00 C9.52,12.22 9.43,11.52 10.10,10.90 C10.77,10.28 11.95,9.73 13.00,9.30 C14.05,8.87 15.05,8.37 16.40,8.30 C17.75,8.23 20.28,8.62 21.10,8.90 C21.92,9.18 21.55,9.27 21.30,10.00 C21.05,10.73 20.02,12.23 19.60,13.30 C19.18,14.37 18.55,15.10 18.80,16.40 C19.05,17.70 20.58,19.00 21.10,21.10 C21.62,23.20 21.90,26.63 21.90,29.00 C21.90,31.37 21.33,33.80 21.10,35.30 C20.87,36.80 21.05,37.55 20.50,38.00 C19.95,38.45 18.25,38.33 17.80,38.00 C17.35,37.67 18.55,36.57 17.80,36.00 C17.05,35.43 15.37,35.37 13.30,34.60 C11.23,33.83 7.95,32.58 5.40,31.40 C2.85,30.22 -0.77,29.53 -2.00,27.50 C-3.23,25.47 -2.83,20.82 -2.00,19.20 Z" fill="none" stroke="#0008b8" stroke-width="2.4" stroke-linejoin="round" filter="url(#bl4)"/>
</g></g>
</g>
<rect x="110.5" y="371.5" width="37" height="36" fill="none" stroke="#a0a0a0" stroke-width="1.2"/>
<rect x="111.7" y="374.8" width="5.7" height="13.2" fill="none" stroke="#a0a0a0" stroke-width="0.6"/>
<text x="118.7" y="376.9" font-size="7.4" text-anchor="start" style="font-family:'Liberation Serif',serif;font-weight:bold" fill="#000" stroke="#000" stroke-width="0.18">0.2</text>
<clipPath id="k24"><rect x="151.5" y="371.5" width="37" height="36"/></clipPath>
<g clip-path="url(#k24)">
<g transform="translate(151.5,371.5)">
<path d="M-1.00,4.00 C0.33,1.83 5.58,2.33 7.00,4.00 C8.42,5.67 8.83,11.83 7.50,14.00 C6.17,16.17 0.42,18.67 -1.00,17.00 C-2.42,15.33 -2.33,6.17 -1.00,4.00 Z" fill="#dfe4f4" opacity="0.2" filter="url(#bl2)"/>
<path d="M-1,26 C4,30 10,34 20,36.5 L20,37 L-1,37 Z" fill="#ccd2ea" opacity="0.7" filter="url(#bl2)"/>
<clipPath id="dO16"><path d="M-2.00,20.20 C-1.17,18.58 1.25,19.40 3.00,18.50 C4.75,17.60 7.25,15.97 8.50,14.80 C9.75,13.63 9.83,12.42 10.50,11.50 C11.17,10.58 11.58,9.88 12.50,9.30 C13.42,8.72 14.82,8.30 16.00,8.00 C17.18,7.70 18.72,7.42 19.60,7.50 C20.48,7.58 21.18,7.83 21.30,8.50 C21.42,9.17 20.72,10.45 20.30,11.50 C19.88,12.55 18.92,13.45 18.80,14.80 C18.68,16.15 18.95,18.02 19.60,19.60 C20.25,21.18 22.18,21.68 22.70,24.30 C23.22,26.92 22.82,33.02 22.70,35.30 C22.58,37.58 23.57,37.55 22.00,38.00 C20.43,38.45 14.75,38.45 13.30,38.00 C11.85,37.55 14.35,36.40 13.30,35.30 C12.25,34.20 9.55,32.58 7.00,31.40 C4.45,30.22 -0.50,30.07 -2.00,28.20 C-3.50,26.33 -2.83,21.82 -2.00,20.20 Z"/></clipPath>
<path d="M-2.00,20.20 C-1.17,18.58 1.25,19.40 3.00,18.50 C4.75,17.60 7.25,15.97 8.50,14.80 C9.75,13.63 9.83,12.42 10.50,11.50 C11.17,10.58 11.58,9.88 12.50,9.30 C13.42,8.72 14.82,8.30 16.00,8.00 C17.18,7.70 18.72,7.42 19.60,7.50 C20.48,7.58 21.18,7.83 21.30,8.50 C21.42,9.17 20.72,10.45 20.30,11.50 C19.88,12.55 18.92,13.45 18.80,14.80 C18.68,16.15 18.95,18.02 19.60,19.60 C20.25,21.18 22.18,21.68 22.70,24.30 C23.22,26.92 22.82,33.02 22.70,35.30 C22.58,37.58 23.57,37.55 22.00,38.00 C20.43,38.45 14.75,38.45 13.30,38.00 C11.85,37.55 14.35,36.40 13.30,35.30 C12.25,34.20 9.55,32.58 7.00,31.40 C4.45,30.22 -0.50,30.07 -2.00,28.20 C-3.50,26.33 -2.83,21.82 -2.00,20.20 Z" fill="#0050ff" filter="url(#bl4)"/>
<g clip-path="url(#dO16)"><g filter="url(#bl3)">
<ellipse cx="16.0" cy="11.0" rx="6.45" ry="3.30" transform="rotate(-20 16.0 11.0)" fill="none" stroke="#0410c0" stroke-width="1.3"/>
<ellipse cx="16.0" cy="11.0" rx="5.85" ry="2.70" transform="rotate(-20 16.0 11.0)" fill="#0090ff"/>
<ellipse cx="16.2" cy="11.0" rx="4.50" ry="1.80" transform="rotate(-20 16.0 11.0)" fill="#10d8f0"/>
<ellipse cx="16.4" cy="11.0" rx="2.61" ry="1.04" transform="rotate(-20 16.0 11.0)" fill="#40f060"/>
<path d="M-3.00,20.00 C-0.60,18.65 7.67,20.65 11.40,19.90 C15.13,19.15 17.15,16.13 19.40,15.50 C21.65,14.87 23.90,15.12 24.90,16.10 C25.90,17.08 25.52,19.52 25.40,21.40 C25.28,23.28 24.80,25.18 24.20,27.40 C23.60,29.62 22.97,33.48 21.80,34.70 C20.63,35.92 18.40,35.67 17.20,34.70 C16.00,33.73 15.57,30.03 14.60,28.90 C13.63,27.77 14.33,28.05 11.40,27.90 C8.47,27.75 -0.60,29.32 -3.00,28.00 C-5.40,26.68 -5.40,21.35 -3.00,20.00 Z" fill="#0098ff"/>
<path d="M5.00,22.20 C6.23,21.47 10.00,21.82 12.40,20.90 C14.80,19.98 17.48,17.28 19.40,16.70 C21.32,16.12 23.07,16.62 23.90,17.40 C24.73,18.18 24.52,19.82 24.40,21.40 C24.28,22.98 23.77,24.88 23.20,26.90 C22.63,28.92 21.83,32.40 21.00,33.50 C20.17,34.60 19.05,34.43 18.20,33.50 C17.35,32.57 16.87,29.07 15.90,27.90 C14.93,26.73 14.22,26.93 12.40,26.50 C10.58,26.07 6.23,26.02 5.00,25.30 C3.77,24.58 3.77,22.93 5.00,22.20 Z" fill="#10e0f0"/>
<path d="M11.90,18.60 C12.73,18.05 14.90,18.18 16.40,18.10 C17.90,18.02 19.80,17.88 20.90,18.10 C22.00,18.32 22.65,18.60 23.00,19.40 C23.35,20.20 23.20,21.57 23.00,22.90 C22.80,24.23 22.27,25.87 21.80,27.40 C21.33,28.93 20.70,31.32 20.20,32.10 C19.70,32.88 19.35,32.88 18.80,32.10 C18.25,31.32 17.63,28.73 16.90,27.40 C16.17,26.07 15.32,25.10 14.40,24.10 C13.48,23.10 11.82,22.32 11.40,21.40 C10.98,20.48 11.07,19.15 11.90,18.60 Z" fill="#50f060"/>
<ellipse cx="19.4" cy="23.2" rx="2.6" ry="3.1" fill="#c8f030"/>
<ellipse cx="19.4" cy="23.0" rx="1.8" ry="2.1" fill="#ffd000"/>
<ellipse cx="19.4" cy="22.9" rx="1.35" ry="1.45" fill="#e83000"/>
<circle cx="19.4" cy="22.9" r="0.9" fill="#c80000"/>
</g>
<path d="M-2.00,20.20 C-1.17,18.58 1.25,19.40 3.00,18.50 C4.75,17.60 7.25,15.97 8.50,14.80 C9.75,13.63 9.83,12.42 10.50,11.50 C11.17,10.58 11.58,9.88 12.50,9.30 C13.42,8.72 14.82,8.30 16.00,8.00 C17.18,7.70 18.72,7.42 19.60,7.50 C20.48,7.58 21.18,7.83 21.30,8.50 C21.42,9.17 20.72,10.45 20.30,11.50 C19.88,12.55 18.92,13.45 18.80,14.80 C18.68,16.15 18.95,18.02 19.60,19.60 C20.25,21.18 22.18,21.68 22.70,24.30 C23.22,26.92 22.82,33.02 22.70,35.30 C22.58,37.58 23.57,37.55 22.00,38.00 C20.43,38.45 14.75,38.45 13.30,38.00 C11.85,37.55 14.35,36.40 13.30,35.30 C12.25,34.20 9.55,32.58 7.00,31.40 C4.45,30.22 -0.50,30.07 -2.00,28.20 C-3.50,26.33 -2.83,21.82 -2.00,20.20 Z" fill="none" stroke="#0008b8" stroke-width="2.4" stroke-linejoin="round" filter="url(#bl4)"/>
</g></g>
</g>
<rect x="151.5" y="371.5" width="37" height="36" fill="none" stroke="#a0a0a0" stroke-width="1.2"/>
<rect x="152.7" y="374.8" width="5.7" height="13.2" fill="none" stroke="#a0a0a0" stroke-width="0.6"/>
<text x="159.7" y="376.9" font-size="7.4" text-anchor="start" style="font-family:'Liberation Serif',serif;font-weight:bold" fill="#000" stroke="#000" stroke-width="0.18">0.3</text>
<line x1="17" y1="338.0" x2="17" y2="369.5" stroke="#000" stroke-width="0.9"/>
<path d="M17,333 L15.0,338.5 L19.0,338.5 Z" fill="#000"/>
<text x="19.5" y="391" font-size="8.3" text-anchor="middle" style="font-family:'Liberation Serif',serif;font-weight:bold" fill="#000" stroke="#000" stroke-width="0.18" transform="rotate(-90 19.5 391)">HLA-DR</text>
<text x="29.5" y="422.5" font-size="8.3" text-anchor="start" style="font-family:'Liberation Serif',serif;font-weight:bold" fill="#000" stroke="#000" stroke-width="0.18">Lineage</text>
<line x1="63.8" y1="419.2" x2="181.8" y2="419.2" stroke="#000" stroke-width="0.9"/>
<path d="M186.3,419.2 L181.3,417.2 L181.3,421.2 Z" fill="#000"/>
<text x="200.5" y="368.6" font-size="7.5" text-anchor="middle" style="font-family:'Liberation Serif',serif;font-weight:bold" fill="#000" stroke="#000" stroke-width="0.18" transform="rotate(-90 200.5 368.6)">CD14<tspan font-size="4.5" dy="-2.8">+</tspan><tspan dy="2.8"> depleted Undepleted</tspan></text>
<text x="256.8" y="315" font-size="14" text-anchor="start" style="font-family:'Liberation Sans',sans-serif;font-weight:bold" fill="#000">E</text>
<text x="273.8" y="320.5" font-size="8.3" text-anchor="start" style="font-family:'Liberation Serif',serif;font-weight:bold" fill="#000" stroke="#000" stroke-width="0.18">MOI: 0</text>
<text x="331" y="320.5" font-size="8" text-anchor="middle" style="font-family:'Liberation Serif',serif;font-weight:bold" fill="#000" stroke="#000" stroke-width="0.18">0.1</text>
<text x="371.3" y="320.5" font-size="8" text-anchor="middle" style="font-family:'Liberation Serif',serif;font-weight:bold" fill="#000" stroke="#000" stroke-width="0.18">1</text>
<text x="413" y="320.5" font-size="8" text-anchor="middle" style="font-family:'Liberation Serif',serif;font-weight:bold" fill="#000" stroke="#000" stroke-width="0.18">10</text>
<clipPath id="k25"><rect x="0" y="0" width="37" height="36"/></clipPath>
<g transform="translate(273.5,330.5)" clip-path="url(#k25)">
<path d="M21.4,32.6 20.9,32.6 20.6,32.6 20.1,32.5 19.9,32.3 19.5,32.1 19.2,31.9 19.0,31.6 18.7,31.4 18.5,31.1 18.4,30.8 18.1,30.4 18.0,30.1 17.9,29.7 17.8,29.4 17.7,28.9 17.6,28.6 17.5,28.1 17.5,27.6 17.5,27.1 17.6,26.6 17.6,26.4 17.7,25.9 17.9,25.5 18.0,25.1 18.1,24.8 18.4,24.4 18.5,24.1 18.7,23.9 18.9,23.6 19.2,23.4 19.5,23.1 19.9,22.9 20.1,22.7 20.5,22.6 20.9,22.6 21.4,22.6 21.7,22.6 22.1,22.7 22.4,22.9 22.9,23.1 23.1,23.3 23.4,23.5 23.6,23.7 23.9,23.9 24.2,24.1 24.5,24.4 24.7,24.6 24.9,24.9 25.1,25.2 25.3,25.6 25.4,25.9 25.4,26.4 25.5,26.9 25.4,27.4 25.3,27.6 25.2,28.1 25.1,28.4 24.9,28.9 24.8,29.1 24.6,29.5 24.5,29.9 24.3,30.1 24.1,30.5 23.9,30.9 23.7,31.1 23.5,31.4 23.3,31.6 23.0,31.9 22.7,32.1 22.4,32.3 22.1,32.4 21.6,32.6 21.4,32.6Z" fill="#dde9f8" fill-rule="evenodd" stroke="#8cb0e0" stroke-width="0.45" opacity="1.0"/>
<path d="M21.9,31.7 21.4,31.8 20.9,31.8 20.4,31.7 20.1,31.6 19.8,31.4 19.5,31.1 19.2,30.9 19.0,30.6 18.9,30.4 18.6,29.9 18.5,29.6 18.4,29.3 18.3,28.9 18.2,28.4 18.1,27.9 18.1,27.6 18.1,27.4 18.2,26.9 18.2,26.4 18.4,25.9 18.5,25.6 18.6,25.3 18.8,24.9 19.0,24.6 19.2,24.4 19.4,24.1 19.7,23.9 20.1,23.6 20.4,23.5 20.9,23.4 21.4,23.4 21.9,23.5 22.2,23.6 22.6,23.9 22.9,24.1 23.1,24.3 23.4,24.6 23.6,24.9 23.8,25.1 24.0,25.4 24.1,25.7 24.3,26.1 24.4,26.4 24.4,26.9 24.4,27.4 24.4,27.9 24.3,28.1 24.2,28.6 24.1,28.9 23.9,29.4 23.8,29.6 23.6,30.0 23.4,30.4 23.2,30.6 23.0,30.9 22.8,31.1 22.4,31.4 22.1,31.6 21.9,31.7Z" fill="#c6dbf4" fill-rule="evenodd" stroke="#5c8ad0" stroke-width="0.55" opacity="1.0"/>
<path d="M21.6,30.9 21.1,31.0 20.6,30.9 20.4,30.8 20.0,30.6 19.7,30.4 19.5,30.1 19.3,29.9 19.1,29.5 19.0,29.1 18.9,28.8 18.8,28.4 18.7,27.9 18.7,27.4 18.8,26.9 18.9,26.4 19.0,26.1 19.1,25.7 19.3,25.4 19.5,25.1 19.7,24.9 20.0,24.6 20.4,24.4 20.6,24.3 21.1,24.2 21.6,24.3 21.9,24.4 22.3,24.6 22.6,24.9 22.9,25.1 23.1,25.4 23.3,25.6 23.4,25.9 23.6,26.4 23.7,26.6 23.7,27.1 23.7,27.6 23.7,28.1 23.6,28.4 23.4,28.9 23.3,29.1 23.1,29.5 22.9,29.9 22.7,30.1 22.5,30.4 22.2,30.6 21.9,30.8 21.6,30.9Z" fill="#b4cff0" fill-rule="evenodd" stroke="#3a6cbc" stroke-width="0.7" opacity="1.0"/>
<path d="M21.6,29.9 21.1,30.0 20.6,29.9 20.4,29.8 20.1,29.6 19.9,29.3 19.7,28.9 19.6,28.6 19.4,28.1 19.4,27.6 19.4,27.1 19.5,26.6 19.6,26.4 19.9,25.9 20.1,25.6 20.4,25.4 20.6,25.3 21.1,25.2 21.6,25.3 21.9,25.4 22.2,25.6 22.5,25.9 22.7,26.1 22.9,26.6 23.0,26.9 23.0,27.4 23.0,27.9 22.9,28.3 22.8,28.6 22.6,28.9 22.4,29.3 22.1,29.6 21.9,29.8 21.6,29.9Z" fill="#a6c5ec" fill-rule="evenodd" stroke="#22539e" stroke-width="0.85" opacity="1.0"/>
</g>
<rect x="273.5" y="330.5" width="37" height="36" fill="none" stroke="#a0a0a0" stroke-width="1.2"/>
<line x1="291.7" y1="330.5" x2="291.7" y2="366.5" stroke="#d09696" stroke-width="0.8"/>
<line x1="273.5" y1="350.5" x2="310.5" y2="350.5" stroke="#d09696" stroke-width="0.8"/>
<text x="279.3" y="338.1" font-size="7.3" text-anchor="middle" style="font-family:'Liberation Serif',serif;font-weight:bold" fill="#000" stroke="#000" stroke-width="0.18">0</text>
<text x="307.5" y="338.1" font-size="7.3" text-anchor="end" style="font-family:'Liberation Serif',serif;font-weight:bold" fill="#000" stroke="#000" stroke-width="0.18">0</text>
<text x="307.5" y="364.7" font-size="7.3" text-anchor="end" style="font-family:'Liberation Serif',serif;font-weight:bold" fill="#000" stroke="#000" stroke-width="0.18">99</text>
<clipPath id="k26"><rect x="0" y="0" width="37" height="36"/></clipPath>
<g transform="translate(314.5,330.5)" clip-path="url(#k26)">
<path d="M20.9,33.5 20.4,33.5 19.9,33.5 19.5,33.4 19.1,33.2 18.9,33.0 18.6,32.8 18.4,32.6 18.1,32.3 17.9,31.9 17.7,31.6 17.5,31.4 17.4,31.0 17.2,30.6 17.1,30.3 17.0,29.9 16.9,29.4 16.9,29.1 16.8,28.6 16.7,28.1 16.7,27.6 16.7,27.1 16.8,26.6 16.8,26.1 16.9,25.9 17.0,25.4 17.1,24.9 17.2,24.6 17.4,24.2 17.5,23.9 17.6,23.6 17.9,23.2 18.1,22.9 18.2,22.6 18.4,22.4 18.6,22.1 18.9,21.7 19.0,21.4 19.1,21.1 19.2,20.6 19.3,20.1 19.3,19.6 19.3,19.1 19.4,18.6 19.4,18.4 19.6,17.9 19.7,17.6 19.9,17.3 20.1,17.1 20.6,17.0 20.9,17.1 21.2,17.4 21.4,17.8 21.5,18.1 21.6,18.6 21.7,18.9 21.7,19.4 21.7,19.9 21.7,20.4 21.7,20.9 21.8,21.4 21.9,21.6 22.1,22.1 22.3,22.4 22.4,22.6 22.6,23.0 22.9,23.4 23.0,23.6 23.1,23.9 23.3,24.4 23.4,24.6 23.5,25.1 23.6,25.5 23.7,25.9 23.8,26.4 23.8,26.9 23.9,27.4 23.9,27.9 23.8,28.4 23.8,28.9 23.7,29.4 23.6,29.7 23.5,30.1 23.4,30.6 23.3,30.9 23.1,31.2 22.9,31.6 22.8,31.9 22.6,32.1 22.4,32.4 22.1,32.7 21.9,32.9 21.6,33.1 21.1,33.4 20.9,33.5Z" fill="#dde9f8" fill-rule="evenodd" stroke="#8cb0e0" stroke-width="0.45" opacity="1.0"/>
<path d="M20.9,32.5 20.4,32.6 19.9,32.5 19.5,32.4 19.1,32.2 18.9,32.0 18.6,31.7 18.4,31.4 18.2,31.1 18.1,30.9 17.9,30.5 17.7,30.1 17.6,29.8 17.5,29.4 17.4,28.9 17.4,28.5 17.3,28.1 17.3,27.6 17.3,27.1 17.4,26.7 17.4,26.4 17.5,25.9 17.6,25.4 17.7,25.1 17.9,24.7 18.0,24.4 18.2,24.1 18.4,23.8 18.6,23.4 18.9,23.1 19.1,22.9 19.4,22.6 19.6,22.4 19.9,22.3 20.4,22.1 20.9,22.3 21.1,22.4 21.4,22.7 21.6,22.9 21.9,23.2 22.1,23.6 22.3,23.9 22.5,24.1 22.6,24.5 22.8,24.9 22.9,25.1 23.0,25.6 23.1,26.0 23.2,26.4 23.3,26.9 23.3,27.4 23.3,27.9 23.2,28.4 23.2,28.9 23.1,29.2 23.0,29.6 22.9,30.1 22.8,30.4 22.6,30.7 22.4,31.1 22.2,31.4 22.0,31.6 21.8,31.9 21.5,32.1 21.1,32.4 20.9,32.5Z" fill="#c6dbf4" fill-rule="evenodd" stroke="#5c8ad0" stroke-width="0.55" opacity="1.0"/>
<path d="M20.9,31.5 20.4,31.6 19.9,31.5 19.5,31.4 19.2,31.1 18.9,30.9 18.7,30.6 18.6,30.4 18.4,30.0 18.2,29.6 18.1,29.3 18.0,28.9 18.0,28.4 17.9,27.9 17.9,27.4 18.0,26.9 18.0,26.4 18.1,25.9 18.2,25.6 18.4,25.2 18.5,24.9 18.7,24.6 18.9,24.3 19.1,24.0 19.4,23.8 19.6,23.6 20.1,23.4 20.6,23.4 21.0,23.6 21.3,23.9 21.6,24.1 21.8,24.4 21.9,24.6 22.1,25.0 22.3,25.4 22.4,25.6 22.5,26.1 22.6,26.6 22.7,26.9 22.7,27.4 22.7,27.9 22.6,28.4 22.6,28.6 22.5,29.1 22.4,29.6 22.3,29.9 22.1,30.2 21.9,30.6 21.7,30.9 21.4,31.1 21.1,31.3 20.9,31.5Z" fill="#b4cff0" fill-rule="evenodd" stroke="#3a6cbc" stroke-width="0.7" opacity="1.0"/>
<path d="M20.6,30.4 20.1,30.4 19.9,30.4 19.5,30.1 19.3,29.9 19.1,29.6 18.9,29.2 18.8,28.9 18.7,28.4 18.6,28.1 18.6,27.6 18.6,27.1 18.6,26.9 18.8,26.4 18.9,26.0 19.1,25.6 19.2,25.4 19.4,25.1 19.6,24.9 20.1,24.6 20.4,24.6 20.6,24.7 21.0,24.9 21.2,25.1 21.4,25.4 21.6,25.8 21.8,26.1 21.9,26.5 21.9,26.9 22.0,27.4 22.0,27.9 21.9,28.4 21.9,28.7 21.7,29.1 21.6,29.4 21.4,29.8 21.1,30.1 20.9,30.3 20.6,30.4Z" fill="#a6c5ec" fill-rule="evenodd" stroke="#22539e" stroke-width="0.85" opacity="1.0"/>
</g>
<rect x="314.5" y="330.5" width="37" height="36" fill="none" stroke="#a0a0a0" stroke-width="1.2"/>
<line x1="332.5" y1="330.5" x2="332.5" y2="366.5" stroke="#d09696" stroke-width="0.8"/>
<line x1="314.5" y1="350.5" x2="351.5" y2="350.5" stroke="#d09696" stroke-width="0.8"/>
<text x="320.3" y="338.1" font-size="7.3" text-anchor="middle" style="font-family:'Liberation Serif',serif;font-weight:bold" fill="#000" stroke="#000" stroke-width="0.18">0</text>
<text x="348.5" y="338.1" font-size="7.3" text-anchor="end" style="font-family:'Liberation Serif',serif;font-weight:bold" fill="#000" stroke="#000" stroke-width="0.18">3</text>
<text x="348.5" y="364.7" font-size="7.3" text-anchor="end" style="font-family:'Liberation Serif',serif;font-weight:bold" fill="#000" stroke="#000" stroke-width="0.18">95</text>
<clipPath id="k27"><rect x="0" y="0" width="37" height="36"/></clipPath>
<g transform="translate(355.5,330.5)" clip-path="url(#k27)">
<path d="M22.4,35.9 21.9,36.0 21.4,36.0 20.9,36.0 20.4,36.0 19.9,36.0 19.4,36.0 18.9,36.0 18.4,35.9 18.1,35.9 18.0,35.4 17.9,34.9 17.9,34.6 17.8,34.1 17.7,33.6 17.7,33.1 17.7,32.6 17.6,32.2 17.6,31.9 17.6,31.4 17.5,30.9 17.5,30.4 17.5,29.9 17.5,29.4 17.4,28.9 17.4,28.4 17.4,27.9 17.4,27.4 17.4,26.9 17.4,26.4 17.4,25.9 17.4,25.4 17.4,24.9 17.4,24.4 17.4,23.9 17.5,23.4 17.5,22.9 17.5,22.4 17.5,21.9 17.5,21.4 17.6,20.9 17.6,20.4 17.6,20.1 17.7,19.6 17.7,19.1 17.7,18.6 17.8,18.1 17.8,17.6 17.8,17.1 17.9,16.6 17.9,16.4 17.9,15.9 18.0,15.4 18.0,14.9 18.0,14.4 18.1,13.9 18.1,13.5 18.2,13.1 18.2,12.6 18.3,12.1 18.4,11.8 18.4,11.4 18.5,10.9 18.6,10.5 18.7,10.1 18.8,9.6 18.9,9.4 19.0,8.9 19.1,8.5 19.2,8.1 19.4,7.6 19.4,7.4 19.6,6.9 19.6,6.6 19.8,6.1 19.9,5.9 20.1,5.4 20.1,5.1 20.4,4.6 20.5,4.4 20.6,4.1 20.9,3.6 21.0,3.4 21.3,3.1 21.6,2.9 21.9,2.8 22.3,2.9 22.6,3.1 22.8,3.4 22.9,3.6 23.1,4.0 23.3,4.4 23.4,4.7 23.5,5.1 23.6,5.6 23.7,5.9 23.8,6.4 23.9,6.6 24.0,7.1 24.1,7.6 24.1,7.9 24.2,8.4 24.3,8.9 24.4,9.1 24.5,9.6 24.6,10.1 24.6,10.6 24.7,10.9 24.7,11.4 24.8,11.9 24.8,12.4 24.8,12.9 24.9,13.4 24.9,13.9 24.9,14.4 24.8,14.9 24.8,15.4 24.8,15.9 24.8,16.4 24.8,16.9 24.8,17.4 24.8,17.9 24.8,18.4 24.8,18.9 24.9,19.4 24.9,19.9 24.9,20.3 24.9,20.6 24.9,21.1 24.9,21.6 24.9,22.1 24.9,22.6 24.9,23.1 24.9,23.4 24.9,23.9 24.8,24.4 24.8,24.9 24.8,25.4 24.7,25.9 24.7,26.4 24.6,26.6 24.6,27.1 24.5,27.6 24.4,28.1 24.3,28.4 24.3,28.9 24.1,29.4 24.1,29.6 24.0,30.1 23.9,30.6 23.8,30.9 23.7,31.4 23.6,31.7 23.5,32.1 23.4,32.6 23.3,32.9 23.2,33.4 23.1,33.7 23.0,34.1 22.9,34.6 22.8,34.9 22.7,35.4 22.6,35.6 22.4,35.9Z" fill="#dde9f8" fill-rule="evenodd" stroke="#8cb0e0" stroke-width="0.45" opacity="1.0"/>
<path d="M20.9,35.9 20.4,35.9 19.9,35.9 19.6,35.8 19.4,35.4 19.3,35.1 19.1,34.7 19.0,34.4 18.9,33.9 18.8,33.6 18.7,33.1 18.7,32.6 18.6,32.4 18.5,31.9 18.5,31.4 18.4,30.9 18.4,30.4 18.4,30.1 18.3,29.6 18.3,29.1 18.3,28.6 18.2,28.1 18.2,27.6 18.2,27.1 18.2,26.6 18.2,26.1 18.2,25.6 18.2,25.1 18.2,24.6 18.2,24.1 18.2,23.6 18.2,23.1 18.2,22.6 18.2,22.1 18.3,21.6 18.3,21.1 18.3,20.6 18.4,20.1 18.4,19.9 18.4,19.4 18.4,18.9 18.5,18.4 18.5,17.9 18.5,17.4 18.6,16.9 18.6,16.4 18.6,15.9 18.6,15.4 18.6,15.1 18.7,14.6 18.7,14.1 18.8,13.6 18.8,13.1 18.9,12.9 19.0,12.4 19.1,11.9 19.1,11.6 19.2,11.1 19.4,10.6 19.4,10.4 19.6,9.9 19.7,9.6 19.9,9.2 20.0,8.9 20.1,8.6 20.3,8.1 20.5,7.9 20.6,7.6 20.9,7.2 21.1,7.0 21.4,6.7 21.9,6.6 22.3,6.9 22.5,7.1 22.7,7.4 22.9,7.7 23.1,8.1 23.2,8.4 23.4,8.8 23.5,9.1 23.6,9.6 23.7,9.9 23.8,10.4 23.9,10.6 24.0,11.1 24.1,11.6 24.1,12.1 24.1,12.4 24.2,12.9 24.2,13.4 24.2,13.9 24.2,14.4 24.2,14.9 24.2,15.4 24.1,15.9 24.1,16.1 24.1,16.6 24.1,17.1 24.1,17.6 24.0,18.1 24.0,18.6 24.0,19.1 24.0,19.6 24.1,20.1 24.1,20.6 24.1,21.1 24.0,21.6 24.0,22.1 24.0,22.6 24.0,23.1 24.0,23.6 23.9,24.1 23.9,24.6 23.9,24.9 23.8,25.4 23.8,25.9 23.7,26.4 23.6,26.8 23.6,27.1 23.5,27.6 23.4,28.1 23.4,28.4 23.3,28.9 23.1,29.4 23.1,29.6 23.0,30.1 22.9,30.5 22.8,30.9 22.7,31.4 22.6,31.6 22.5,32.1 22.4,32.4 22.2,32.9 22.1,33.2 22.0,33.6 21.9,34.0 21.7,34.4 21.6,34.6 21.4,35.1 21.2,35.4 21.1,35.6 20.9,35.9Z" fill="#c6dbf4" fill-rule="evenodd" stroke="#5c8ad0" stroke-width="0.55" opacity="1.0"/>
<path d="M20.6,31.7 20.3,31.6 20.0,31.4 19.9,31.1 19.7,30.6 19.6,30.4 19.5,29.9 19.4,29.4 19.4,29.1 19.3,28.6 19.2,28.1 19.2,27.6 19.2,27.1 19.1,26.7 19.1,26.4 19.1,25.9 19.1,25.4 19.1,24.9 19.1,24.4 19.1,23.9 19.1,23.4 19.1,22.9 19.1,22.4 19.1,21.9 19.1,21.5 19.1,21.1 19.2,20.6 19.2,20.1 19.2,19.6 19.3,19.1 19.3,18.6 19.3,18.1 19.3,17.6 19.3,17.1 19.3,16.6 19.3,16.1 19.3,15.6 19.3,15.1 19.3,14.6 19.3,14.1 19.4,13.8 19.4,13.4 19.5,12.9 19.6,12.4 19.7,12.1 19.8,11.6 19.9,11.4 20.1,10.9 20.2,10.6 20.4,10.2 20.6,9.9 20.8,9.6 21.0,9.4 21.4,9.1 21.6,9.0 22.0,9.1 22.4,9.4 22.6,9.6 22.7,9.9 22.9,10.1 23.1,10.6 23.2,10.9 23.3,11.4 23.4,11.7 23.5,12.1 23.5,12.6 23.6,13.1 23.6,13.6 23.6,14.1 23.6,14.6 23.6,15.1 23.5,15.6 23.5,16.1 23.4,16.6 23.4,17.1 23.4,17.4 23.3,17.9 23.3,18.4 23.3,18.9 23.2,19.4 23.2,19.9 23.2,20.4 23.2,20.9 23.2,21.4 23.2,21.9 23.2,22.4 23.2,22.9 23.2,23.4 23.1,23.7 23.1,24.1 23.0,24.6 23.0,25.1 22.9,25.6 22.9,25.9 22.8,26.4 22.7,26.9 22.6,27.1 22.5,27.6 22.4,28.1 22.3,28.4 22.2,28.9 22.1,29.1 21.9,29.6 21.8,29.9 21.6,30.4 21.5,30.6 21.4,30.9 21.1,31.3 20.9,31.6 20.6,31.7Z" fill="#b4cff0" fill-rule="evenodd" stroke="#3a6cbc" stroke-width="0.7" opacity="1.0"/>
<path d="M21.9,19.0 21.4,19.1 21.0,18.9 20.7,18.6 20.5,18.4 20.4,18.1 20.2,17.6 20.1,17.3 20.0,16.9 20.0,16.4 19.9,15.9 19.9,15.4 19.9,14.9 19.9,14.4 20.0,13.9 20.1,13.4 20.1,13.1 20.2,12.6 20.4,12.2 20.5,11.9 20.6,11.6 20.9,11.2 21.1,10.9 21.4,10.8 21.9,10.8 22.1,10.9 22.4,11.3 22.5,11.6 22.6,11.9 22.8,12.4 22.9,12.9 22.9,13.1 23.0,13.6 23.0,14.1 23.0,14.6 23.0,15.1 22.9,15.6 22.9,15.9 22.8,16.4 22.7,16.9 22.6,17.2 22.5,17.6 22.4,18.0 22.2,18.4 22.1,18.6 21.9,19.0Z" fill="#a6c5ec" fill-rule="evenodd" stroke="#22539e" stroke-width="0.85" opacity="1.0"/>
</g>
<rect x="355.5" y="330.5" width="37" height="36" fill="none" stroke="#a0a0a0" stroke-width="1.2"/>
<line x1="373.5" y1="330.5" x2="373.5" y2="366.5" stroke="#d09696" stroke-width="0.8"/>
<line x1="355.5" y1="350.5" x2="392.5" y2="350.5" stroke="#d09696" stroke-width="0.8"/>
<text x="361.3" y="338.1" font-size="7.3" text-anchor="middle" style="font-family:'Liberation Serif',serif;font-weight:bold" fill="#000" stroke="#000" stroke-width="0.18">0</text>
<text x="389.5" y="338.1" font-size="7.3" text-anchor="end" style="font-family:'Liberation Serif',serif;font-weight:bold" fill="#000" stroke="#000" stroke-width="0.18">47</text>
<text x="389.5" y="364.7" font-size="7.3" text-anchor="end" style="font-family:'Liberation Serif',serif;font-weight:bold" fill="#000" stroke="#000" stroke-width="0.18">50</text>
<clipPath id="k28"><rect x="0" y="0" width="37" height="36"/></clipPath>
<g transform="translate(396.5,330.5)" clip-path="url(#k28)">
<path d="M19.9,35.9 19.4,35.9 18.9,35.9 18.4,35.9 17.9,35.9 17.8,35.6 17.6,35.2 17.5,34.9 17.4,34.4 17.3,34.1 17.2,33.6 17.2,33.1 17.1,32.8 17.1,32.4 17.0,31.9 17.0,31.4 16.9,30.9 16.9,30.4 16.9,29.9 16.9,29.6 16.9,29.1 16.8,28.6 16.8,28.1 16.8,27.6 16.8,27.1 16.8,26.6 16.9,26.1 16.9,25.6 16.9,25.4 16.9,24.9 16.9,24.4 16.9,23.9 17.0,23.4 17.0,22.9 17.0,22.4 17.1,21.9 17.1,21.5 17.2,21.1 17.2,20.6 17.2,20.1 17.3,19.6 17.4,19.1 17.4,18.9 17.4,18.4 17.5,17.9 17.5,17.4 17.6,16.9 17.6,16.4 17.6,16.1 17.7,15.6 17.7,15.1 17.7,14.6 17.8,14.1 17.9,13.6 17.9,13.4 18.0,12.9 18.1,12.4 18.1,12.1 18.3,11.6 18.4,11.2 18.5,10.9 18.6,10.4 18.7,10.1 18.9,9.7 19.0,9.4 19.1,9.0 19.3,8.6 19.4,8.4 19.6,7.9 19.7,7.6 19.9,7.3 20.1,6.9 20.2,6.6 20.4,6.2 20.5,5.9 20.7,5.6 20.9,5.3 21.1,5.0 21.4,4.7 21.6,4.5 21.9,4.3 22.4,4.3 22.6,4.5 22.9,4.7 23.1,5.1 23.2,5.4 23.4,5.8 23.5,6.1 23.6,6.6 23.7,6.9 23.8,7.4 23.9,7.8 23.9,8.1 24.0,8.6 24.1,9.1 24.1,9.4 24.2,9.9 24.3,10.4 24.3,10.9 24.4,11.4 24.4,11.6 24.4,12.1 24.4,12.6 24.5,13.1 24.5,13.6 24.5,14.1 24.4,14.6 24.4,15.1 24.4,15.6 24.4,16.1 24.4,16.6 24.5,17.1 24.5,17.6 24.5,18.1 24.5,18.6 24.5,19.1 24.5,19.6 24.5,20.1 24.5,20.6 24.5,21.1 24.4,21.6 24.4,22.1 24.3,22.4 24.2,22.9 24.1,23.4 24.1,23.6 23.9,24.1 23.9,24.4 23.7,24.9 23.6,25.2 23.5,25.6 23.4,26.0 23.3,26.4 23.1,26.8 23.0,27.1 22.9,27.6 22.8,27.9 22.7,28.4 22.6,28.6 22.5,29.1 22.4,29.5 22.3,29.9 22.1,30.4 22.1,30.6 21.9,31.1 21.9,31.4 21.7,31.9 21.6,32.1 21.5,32.6 21.4,32.9 21.2,33.4 21.1,33.6 20.9,34.1 20.8,34.4 20.6,34.8 20.4,35.1 20.3,35.4 20.1,35.7 19.9,35.9Z" fill="#dde9f8" fill-rule="evenodd" stroke="#8cb0e0" stroke-width="0.45" opacity="1.0"/>
<path d="M19.6,32.9 19.1,33.1 18.8,32.9 18.6,32.6 18.4,32.2 18.3,31.9 18.1,31.4 18.1,31.1 18.0,30.6 17.9,30.1 17.9,29.9 17.8,29.4 17.8,28.9 17.7,28.4 17.7,27.9 17.7,27.4 17.7,26.9 17.7,26.4 17.7,25.9 17.7,25.4 17.7,24.9 17.7,24.4 17.7,23.9 17.7,23.4 17.8,22.9 17.8,22.4 17.8,21.9 17.9,21.4 17.9,21.1 17.9,20.6 18.0,20.1 18.0,19.6 18.1,19.1 18.1,18.7 18.2,18.4 18.2,17.9 18.2,17.4 18.2,16.9 18.3,16.4 18.3,15.9 18.3,15.4 18.4,14.9 18.4,14.6 18.4,14.1 18.5,13.6 18.6,13.1 18.6,12.9 18.8,12.4 18.9,11.9 19.0,11.6 19.1,11.1 19.2,10.9 19.4,10.5 19.5,10.1 19.6,9.9 19.9,9.4 20.0,9.1 20.2,8.9 20.4,8.6 20.6,8.3 20.9,8.0 21.1,7.8 21.4,7.6 21.9,7.5 22.2,7.6 22.5,7.9 22.7,8.1 22.9,8.5 23.0,8.9 23.1,9.1 23.3,9.6 23.4,9.9 23.5,10.4 23.6,10.9 23.6,11.2 23.7,11.6 23.7,12.1 23.8,12.6 23.8,13.1 23.8,13.6 23.8,14.1 23.7,14.6 23.7,15.1 23.7,15.6 23.7,16.1 23.6,16.6 23.6,16.9 23.6,17.4 23.6,17.9 23.6,18.4 23.5,18.9 23.5,19.4 23.5,19.9 23.5,20.4 23.4,20.9 23.4,21.2 23.3,21.6 23.2,22.1 23.2,22.6 23.1,22.9 23.0,23.4 22.9,23.9 22.8,24.1 22.7,24.6 22.6,25.0 22.5,25.4 22.4,25.9 22.3,26.1 22.2,26.6 22.1,27.0 22.0,27.4 21.9,27.9 21.8,28.1 21.7,28.6 21.6,28.9 21.4,29.4 21.4,29.6 21.2,30.1 21.1,30.4 20.9,30.9 20.8,31.1 20.6,31.5 20.4,31.9 20.3,32.1 20.1,32.4 19.9,32.7 19.6,32.9Z" fill="#c6dbf4" fill-rule="evenodd" stroke="#5c8ad0" stroke-width="0.55" opacity="1.0"/>
<path d="M19.9,28.5 19.4,28.4 19.2,28.1 19.1,27.9 19.0,27.4 18.9,27.0 18.8,26.6 18.8,26.1 18.7,25.6 18.7,25.1 18.7,24.6 18.7,24.1 18.7,23.6 18.7,23.1 18.7,22.6 18.7,22.1 18.8,21.6 18.8,21.1 18.8,20.6 18.9,20.2 18.9,19.9 18.9,19.4 18.9,18.9 19.0,18.4 18.9,17.9 18.9,17.4 18.9,16.9 18.9,16.4 18.9,15.9 18.9,15.4 19.0,14.9 19.0,14.4 19.1,13.9 19.1,13.6 19.2,13.1 19.4,12.6 19.4,12.4 19.6,11.9 19.7,11.6 19.9,11.2 20.0,10.9 20.2,10.6 20.4,10.3 20.6,10.0 20.9,9.7 21.1,9.6 21.6,9.5 22.0,9.6 22.3,9.9 22.4,10.1 22.6,10.5 22.8,10.9 22.9,11.3 23.0,11.6 23.0,12.1 23.1,12.6 23.1,13.1 23.1,13.4 23.1,13.9 23.1,14.4 23.1,14.6 23.1,15.1 23.0,15.6 23.0,16.1 22.9,16.6 22.9,17.0 22.8,17.4 22.8,17.9 22.7,18.4 22.7,18.9 22.6,19.4 22.6,19.6 22.5,20.1 22.5,20.6 22.4,21.1 22.4,21.5 22.3,21.9 22.2,22.4 22.1,22.8 22.1,23.1 21.9,23.6 21.9,23.9 21.7,24.4 21.6,24.8 21.5,25.1 21.4,25.6 21.3,25.9 21.1,26.3 21.0,26.6 20.9,27.0 20.7,27.4 20.6,27.6 20.4,28.0 20.1,28.3 19.9,28.5Z" fill="#b4cff0" fill-rule="evenodd" stroke="#3a6cbc" stroke-width="0.7" opacity="1.0"/>
<path d="M21.1,18.1 20.7,18.1 20.4,18.0 20.1,17.8 19.9,17.4 19.8,17.1 19.7,16.6 19.6,16.2 19.6,15.9 19.6,15.4 19.6,14.9 19.7,14.6 19.7,14.1 19.8,13.6 19.9,13.4 20.0,12.9 20.1,12.6 20.4,12.1 20.5,11.9 20.7,11.6 20.9,11.4 21.4,11.2 21.8,11.4 22.0,11.6 22.1,11.9 22.3,12.4 22.4,12.7 22.4,13.1 22.5,13.6 22.5,14.1 22.5,14.6 22.4,15.1 22.4,15.5 22.3,15.9 22.2,16.4 22.1,16.7 22.0,17.1 21.9,17.4 21.6,17.8 21.4,18.0 21.1,18.1Z" fill="#a6c5ec" fill-rule="evenodd" stroke="#22539e" stroke-width="0.85" opacity="1.0"/>
</g>
<rect x="396.5" y="330.5" width="37" height="36" fill="none" stroke="#a0a0a0" stroke-width="1.2"/>
<line x1="414.7" y1="330.5" x2="414.7" y2="366.5" stroke="#d09696" stroke-width="0.8"/>
<line x1="396.5" y1="350.5" x2="433.5" y2="350.5" stroke="#d09696" stroke-width="0.8"/>
<text x="402.3" y="338.1" font-size="7.3" text-anchor="middle" style="font-family:'Liberation Serif',serif;font-weight:bold" fill="#000" stroke="#000" stroke-width="0.18">1</text>
<text x="430.5" y="338.1" font-size="7.3" text-anchor="end" style="font-family:'Liberation Serif',serif;font-weight:bold" fill="#000" stroke="#000" stroke-width="0.18">73</text>
<text x="430.5" y="364.7" font-size="7.3" text-anchor="end" style="font-family:'Liberation Serif',serif;font-weight:bold" fill="#000" stroke="#000" stroke-width="0.18">24</text>
<clipPath id="k29"><rect x="0" y="0" width="37" height="36"/></clipPath>
<g transform="translate(273.5,371)" clip-path="url(#k29)">
<path d="M23.1,33.4 22.6,33.4 22.1,33.4 21.9,33.4 21.4,33.3 20.9,33.1 20.6,33.1 20.2,32.9 19.9,32.7 19.6,32.6 19.3,32.4 19.0,32.1 18.7,31.9 18.4,31.6 18.1,31.4 17.9,31.2 17.6,31.1 17.1,31.0 16.7,31.1 16.4,31.2 16.1,31.4 15.6,31.5 15.3,31.6 14.9,31.7 14.4,31.8 13.9,31.8 13.4,31.8 12.9,31.8 12.4,31.7 11.9,31.7 11.6,31.6 11.1,31.4 10.9,31.3 10.4,31.1 10.1,30.9 9.9,30.7 9.7,30.4 9.6,30.1 9.6,29.8 9.8,29.4 10.1,29.1 10.4,28.9 10.6,28.8 10.9,28.6 11.4,28.5 11.7,28.4 12.1,28.3 12.6,28.2 13.1,28.2 13.6,28.2 14.1,28.2 14.6,28.3 15.1,28.3 15.4,28.4 15.9,28.5 16.1,28.6 16.6,28.8 17.1,28.8 17.4,28.6 17.6,28.4 17.9,28.1 18.1,27.8 18.4,27.4 18.6,27.1 18.9,26.9 19.1,26.7 19.4,26.4 19.6,26.3 19.9,26.1 20.3,25.9 20.6,25.7 21.0,25.6 21.4,25.5 21.9,25.4 22.4,25.4 22.9,25.4 23.4,25.4 23.9,25.5 24.2,25.6 24.6,25.8 24.9,25.9 25.3,26.1 25.6,26.3 25.9,26.5 26.1,26.7 26.4,27.0 26.6,27.3 26.9,27.6 27.0,27.9 27.1,28.2 27.3,28.6 27.3,29.1 27.3,29.6 27.3,30.1 27.1,30.6 27.0,30.9 26.9,31.1 26.6,31.5 26.4,31.8 26.1,32.1 25.9,32.3 25.6,32.5 25.4,32.7 25.0,32.9 24.6,33.0 24.3,33.1 23.9,33.3 23.4,33.4 23.1,33.4Z" fill="#dde9f8" fill-rule="evenodd" stroke="#8cb0e0" stroke-width="0.45" opacity="1.0"/>
<path d="M23.6,32.6 23.1,32.7 22.6,32.8 22.1,32.7 21.6,32.7 21.4,32.6 20.9,32.4 20.6,32.3 20.3,32.1 19.9,31.9 19.6,31.7 19.4,31.5 19.1,31.2 18.9,30.9 18.7,30.6 18.6,30.4 18.4,29.9 18.4,29.4 18.5,28.9 18.6,28.6 18.8,28.1 19.0,27.9 19.2,27.6 19.4,27.4 19.7,27.1 20.0,26.9 20.4,26.6 20.6,26.5 20.9,26.4 21.4,26.2 21.8,26.1 22.1,26.1 22.6,26.0 23.1,26.1 23.4,26.1 23.9,26.2 24.3,26.4 24.6,26.5 24.9,26.7 25.2,26.9 25.5,27.1 25.8,27.4 26.0,27.6 26.1,27.9 26.4,28.4 26.5,28.6 26.6,29.1 26.6,29.6 26.5,30.1 26.4,30.4 26.2,30.9 26.0,31.1 25.8,31.4 25.6,31.6 25.3,31.9 24.9,32.1 24.6,32.3 24.4,32.4 23.9,32.6 23.6,32.6Z" fill="#c6dbf4" fill-rule="evenodd" stroke="#5c8ad0" stroke-width="0.55" opacity="1.0"/>
<path d="M23.6,31.9 23.1,32.1 22.6,32.1 22.1,32.1 21.6,32.0 21.3,31.9 20.9,31.7 20.6,31.5 20.4,31.4 20.1,31.1 19.8,30.9 19.6,30.6 19.4,30.1 19.3,29.9 19.3,29.4 19.4,28.9 19.5,28.6 19.6,28.3 19.9,28.0 20.1,27.7 20.4,27.5 20.6,27.3 20.9,27.1 21.4,26.9 21.6,26.8 22.1,26.7 22.6,26.7 23.1,26.7 23.6,26.9 23.9,26.9 24.3,27.1 24.6,27.3 24.9,27.5 25.1,27.8 25.4,28.1 25.5,28.4 25.7,28.6 25.8,29.1 25.8,29.6 25.7,30.1 25.6,30.4 25.4,30.7 25.1,31.0 24.9,31.3 24.6,31.5 24.4,31.6 23.9,31.9 23.6,31.9Z" fill="#b4cff0" fill-rule="evenodd" stroke="#3a6cbc" stroke-width="0.7" opacity="1.0"/>
<path d="M23.4,31.2 22.9,31.3 22.4,31.3 21.9,31.2 21.5,31.1 21.1,30.9 20.9,30.7 20.6,30.5 20.4,30.1 20.3,29.9 20.2,29.4 20.3,28.9 20.5,28.6 20.6,28.4 20.9,28.1 21.2,27.9 21.6,27.7 21.9,27.6 22.4,27.5 22.9,27.5 23.4,27.6 23.6,27.7 24.0,27.9 24.3,28.1 24.5,28.4 24.7,28.6 24.9,29.1 24.9,29.4 24.9,29.6 24.7,30.1 24.6,30.4 24.4,30.6 24.1,30.9 23.6,31.1 23.4,31.2Z" fill="#a6c5ec" fill-rule="evenodd" stroke="#22539e" stroke-width="0.85" opacity="1.0"/>
</g>
<rect x="273.5" y="371" width="37" height="36" fill="none" stroke="#a0a0a0" stroke-width="1.2"/>
<line x1="291.7" y1="371" x2="291.7" y2="407" stroke="#d09696" stroke-width="0.8"/>
<line x1="273.5" y1="393.3" x2="310.5" y2="393.3" stroke="#d09696" stroke-width="0.8"/>
<text x="279.3" y="378.6" font-size="7.3" text-anchor="middle" style="font-family:'Liberation Serif',serif;font-weight:bold" fill="#000" stroke="#000" stroke-width="0.18">0</text>
<text x="307.5" y="378.6" font-size="7.3" text-anchor="end" style="font-family:'Liberation Serif',serif;font-weight:bold" fill="#000" stroke="#000" stroke-width="0.18">0</text>
<text x="307.5" y="405.2" font-size="7.3" text-anchor="end" style="font-family:'Liberation Serif',serif;font-weight:bold" fill="#000" stroke="#000" stroke-width="0.18">87</text>
<clipPath id="k30"><rect x="0" y="0" width="37" height="36"/></clipPath>
<g transform="translate(314.5,371)" clip-path="url(#k30)">
<path d="M20.4,33.1 20.1,33.1 19.6,33.0 19.2,32.9 18.9,32.7 18.6,32.5 18.4,32.3 18.1,32.1 17.9,31.8 17.6,31.4 17.5,31.1 17.3,30.9 17.1,30.4 17.0,30.1 16.9,29.7 16.8,29.4 16.7,28.9 16.6,28.4 16.6,28.1 16.5,27.6 16.5,27.1 16.5,26.6 16.5,26.1 16.5,25.6 16.4,25.1 16.3,24.9 16.1,24.6 15.8,24.4 15.4,24.2 15.1,24.0 14.9,23.8 14.6,23.5 14.4,23.2 14.1,23.0 13.9,22.8 13.6,22.6 13.3,22.4 12.9,22.1 12.6,22.0 12.4,21.8 12.1,21.6 11.9,21.4 11.6,21.1 11.4,20.9 11.1,20.6 10.9,20.2 10.7,19.9 10.6,19.6 10.4,19.1 10.3,18.9 10.2,18.4 10.2,17.9 10.2,17.4 10.3,16.9 10.4,16.5 10.5,16.1 10.6,15.9 10.9,15.4 11.1,15.1 11.3,14.9 11.5,14.6 11.8,14.4 12.1,14.1 12.4,14.0 12.6,13.8 13.1,13.6 13.4,13.5 13.9,13.4 14.4,13.4 14.9,13.4 15.4,13.4 15.9,13.6 16.1,13.7 16.6,13.9 16.9,14.0 17.1,14.2 17.4,14.4 17.7,14.6 17.9,14.9 18.1,15.1 18.4,15.5 18.6,15.9 18.7,16.1 18.9,16.6 18.9,16.9 19.0,17.4 19.0,17.9 19.0,18.4 18.9,18.9 18.9,19.1 18.7,19.6 18.6,19.9 18.4,20.4 18.3,20.6 18.1,21.0 18.0,21.4 18.0,21.9 18.4,22.0 18.9,21.9 19.1,21.9 19.6,21.8 20.1,21.8 20.6,21.8 20.9,21.9 21.4,22.1 21.6,22.2 21.9,22.4 22.2,22.6 22.4,22.9 22.6,23.1 22.9,23.4 23.1,23.8 23.3,24.1 23.4,24.4 23.6,24.9 23.7,25.1 23.8,25.6 23.9,26.0 23.9,26.4 24.0,26.9 24.0,27.4 24.0,27.9 24.0,28.4 23.9,28.9 23.9,29.1 23.7,29.6 23.6,30.0 23.5,30.4 23.4,30.7 23.1,31.1 23.0,31.4 22.8,31.6 22.6,31.9 22.4,32.2 22.1,32.4 21.8,32.6 21.4,32.9 21.1,33.0 20.6,33.1 20.4,33.1Z" fill="#dde9f8" fill-rule="evenodd" stroke="#8cb0e0" stroke-width="0.45" opacity="1.0"/>
<path d="M15.9,21.7 15.4,21.8 14.9,21.8 14.4,21.8 13.9,21.6 13.6,21.5 13.3,21.4 12.9,21.1 12.6,21.0 12.4,20.8 12.1,20.6 11.9,20.3 11.6,20.0 11.4,19.6 11.3,19.4 11.1,19.0 11.0,18.6 10.9,18.1 10.9,17.6 11.0,17.1 11.1,16.6 11.2,16.4 11.4,16.0 11.6,15.6 11.8,15.4 12.1,15.1 12.4,14.9 12.6,14.7 12.9,14.6 13.3,14.4 13.6,14.3 14.1,14.2 14.6,14.1 15.1,14.2 15.6,14.3 15.9,14.4 16.4,14.6 16.6,14.7 16.9,14.9 17.1,15.1 17.4,15.4 17.6,15.7 17.9,16.1 18.0,16.4 18.1,16.8 18.2,17.1 18.3,17.6 18.3,18.1 18.2,18.6 18.1,18.9 18.0,19.4 17.9,19.6 17.6,20.1 17.4,20.4 17.2,20.6 17.0,20.9 16.8,21.1 16.4,21.4 16.1,21.6 15.9,21.7ZM20.9,32.1 20.4,32.2 19.9,32.2 19.6,32.1 19.1,31.9 18.9,31.7 18.6,31.5 18.4,31.2 18.1,30.9 18.0,30.6 17.8,30.4 17.6,29.9 17.5,29.6 17.4,29.1 17.3,28.9 17.2,28.4 17.2,27.9 17.2,27.4 17.2,26.9 17.2,26.4 17.3,25.9 17.4,25.4 17.4,25.1 17.6,24.6 17.7,24.4 17.9,24.0 18.1,23.7 18.4,23.4 18.6,23.2 18.9,23.1 19.3,22.9 19.6,22.8 20.1,22.7 20.6,22.8 21.0,22.9 21.4,23.1 21.6,23.2 21.9,23.4 22.1,23.7 22.4,24.0 22.6,24.4 22.8,24.6 22.9,24.9 23.1,25.4 23.1,25.6 23.3,26.1 23.3,26.6 23.4,26.9 23.4,27.4 23.4,27.9 23.4,28.1 23.3,28.6 23.2,29.1 23.1,29.4 23.0,29.9 22.9,30.1 22.6,30.6 22.5,30.9 22.3,31.1 22.1,31.4 21.8,31.6 21.5,31.9 21.1,32.0 20.9,32.1Z" fill="#c6dbf4" fill-rule="evenodd" stroke="#5c8ad0" stroke-width="0.55" opacity="1.0"/>
<path d="M15.1,20.9 14.6,20.9 14.4,20.9 13.9,20.7 13.6,20.6 13.1,20.4 12.9,20.2 12.6,20.0 12.4,19.7 12.2,19.4 12.0,19.1 11.9,18.8 11.8,18.4 11.7,17.9 11.7,17.4 11.9,16.9 12.0,16.6 12.1,16.3 12.4,16.0 12.6,15.7 12.9,15.5 13.1,15.3 13.5,15.1 13.9,15.0 14.4,14.9 14.9,14.9 15.4,15.0 15.7,15.1 16.1,15.3 16.4,15.5 16.6,15.7 16.9,16.0 17.1,16.4 17.2,16.6 17.4,17.0 17.5,17.4 17.5,17.9 17.5,18.4 17.4,18.7 17.2,19.1 17.1,19.4 16.9,19.8 16.6,20.1 16.4,20.3 16.1,20.5 15.9,20.7 15.4,20.8 15.1,20.9ZM20.9,31.2 20.4,31.3 19.9,31.2 19.6,31.1 19.2,30.9 18.9,30.6 18.7,30.4 18.5,30.1 18.4,29.9 18.1,29.4 18.1,29.1 17.9,28.6 17.9,28.4 17.8,27.9 17.8,27.4 17.8,26.9 17.9,26.4 17.9,26.1 18.0,25.6 18.1,25.4 18.3,24.9 18.5,24.6 18.7,24.4 19.0,24.1 19.3,23.9 19.6,23.8 20.1,23.7 20.6,23.7 21.1,23.9 21.4,24.1 21.6,24.3 21.9,24.6 22.1,24.9 22.2,25.1 22.4,25.4 22.5,25.9 22.6,26.1 22.7,26.6 22.8,27.1 22.8,27.6 22.8,28.1 22.7,28.6 22.6,28.9 22.5,29.4 22.4,29.6 22.1,30.1 21.9,30.4 21.7,30.6 21.4,30.9 21.1,31.1 20.9,31.2Z" fill="#b4cff0" fill-rule="evenodd" stroke="#3a6cbc" stroke-width="0.7" opacity="1.0"/>
<path d="M14.9,19.9 14.5,19.9 14.1,19.8 13.8,19.6 13.4,19.4 13.2,19.1 13.0,18.9 12.9,18.6 12.7,18.1 12.7,17.6 12.8,17.1 13.0,16.9 13.1,16.6 13.4,16.4 13.8,16.1 14.1,16.0 14.6,15.9 15.1,16.0 15.5,16.1 15.8,16.4 16.1,16.6 16.2,16.9 16.4,17.1 16.5,17.6 16.5,18.1 16.4,18.6 16.3,18.9 16.1,19.1 15.9,19.4 15.6,19.6 15.1,19.8 14.9,19.9ZM20.6,30.2 20.1,30.2 19.9,30.1 19.5,29.9 19.2,29.6 19.0,29.4 18.9,29.1 18.7,28.6 18.6,28.4 18.5,27.9 18.5,27.4 18.5,26.9 18.6,26.4 18.7,26.1 18.9,25.7 19.1,25.4 19.3,25.1 19.6,24.9 19.9,24.8 20.4,24.7 20.8,24.9 21.1,25.1 21.4,25.3 21.6,25.6 21.7,25.9 21.9,26.2 22.0,26.6 22.1,27.1 22.1,27.6 22.0,28.1 21.9,28.6 21.8,28.9 21.6,29.3 21.4,29.6 21.1,29.9 20.9,30.1 20.6,30.2Z" fill="#a6c5ec" fill-rule="evenodd" stroke="#22539e" stroke-width="0.85" opacity="1.0"/>
</g>
<rect x="314.5" y="371" width="37" height="36" fill="none" stroke="#a0a0a0" stroke-width="1.2"/>
<line x1="332.5" y1="371" x2="332.5" y2="407" stroke="#d09696" stroke-width="0.8"/>
<line x1="314.5" y1="393.3" x2="351.5" y2="393.3" stroke="#d09696" stroke-width="0.8"/>
<text x="320.3" y="378.6" font-size="7.3" text-anchor="middle" style="font-family:'Liberation Serif',serif;font-weight:bold" fill="#000" stroke="#000" stroke-width="0.18">34</text>
<text x="348.5" y="378.6" font-size="7.3" text-anchor="end" style="font-family:'Liberation Serif',serif;font-weight:bold" fill="#000" stroke="#000" stroke-width="0.18">5</text>
<text x="348.5" y="405.2" font-size="7.3" text-anchor="end" style="font-family:'Liberation Serif',serif;font-weight:bold" fill="#000" stroke="#000" stroke-width="0.18">37</text>
<clipPath id="k31"><rect x="0" y="0" width="37" height="36"/></clipPath>
<g transform="translate(355.5,371)" clip-path="url(#k31)">
<path d="M16.6,29.4 16.1,29.5 15.6,29.5 15.1,29.5 14.6,29.4 14.3,29.4 13.9,29.2 13.6,29.1 13.1,28.9 12.9,28.7 12.6,28.5 12.4,28.2 12.1,27.9 12.0,27.6 11.8,27.4 11.7,26.9 11.7,26.4 11.8,25.9 11.9,25.5 12.0,25.1 12.2,24.9 12.3,24.4 12.2,23.9 12.0,23.6 11.6,23.4 11.4,23.2 11.1,23.1 10.8,22.9 10.4,22.6 10.1,22.4 9.9,22.2 9.6,22.0 9.4,21.7 9.1,21.4 9.0,21.1 8.8,20.9 8.6,20.4 8.5,20.1 8.4,19.6 8.4,19.1 8.4,18.6 8.5,18.1 8.6,17.6 8.7,17.4 8.9,17.0 9.1,16.6 9.2,16.4 9.4,16.1 9.6,15.9 9.9,15.6 10.1,15.3 10.4,15.1 10.7,14.9 11.0,14.6 11.4,14.4 11.6,14.3 11.9,14.1 12.4,13.9 12.6,13.8 13.1,13.7 13.4,13.6 13.9,13.5 14.4,13.4 14.9,13.4 15.4,13.4 15.9,13.4 16.4,13.5 16.9,13.6 17.1,13.7 17.6,13.9 17.9,14.0 18.2,14.1 18.6,14.4 18.9,14.6 19.1,14.8 19.4,15.0 19.6,15.3 19.9,15.6 20.0,15.9 20.2,16.1 20.4,16.6 20.5,16.9 20.6,17.4 20.6,17.9 20.6,18.4 20.5,18.9 20.4,19.4 20.3,19.6 20.1,20.0 19.9,20.4 19.8,20.6 19.6,20.9 19.4,21.1 19.1,21.4 18.9,21.7 18.6,21.9 18.4,22.1 18.1,22.4 17.8,22.6 17.6,22.9 17.5,23.4 17.6,23.7 17.9,24.0 18.1,24.3 18.4,24.5 18.6,24.8 18.9,25.1 19.0,25.4 19.2,25.6 19.3,26.1 19.3,26.6 19.2,27.1 19.1,27.4 18.9,27.9 18.7,28.1 18.5,28.4 18.2,28.6 17.9,28.9 17.6,29.0 17.4,29.1 16.9,29.3 16.6,29.4Z" fill="#dde9f8" fill-rule="evenodd" stroke="#8cb0e0" stroke-width="0.45" opacity="1.0"/>
<path d="M14.9,22.9 14.4,23.0 13.9,22.9 13.5,22.9 13.1,22.8 12.6,22.6 12.4,22.6 11.9,22.4 11.6,22.2 11.4,22.1 11.0,21.9 10.7,21.6 10.4,21.4 10.2,21.1 10.0,20.9 9.9,20.6 9.6,20.1 9.5,19.9 9.4,19.4 9.4,18.9 9.5,18.4 9.6,17.9 9.7,17.6 9.9,17.2 10.0,16.9 10.2,16.6 10.4,16.4 10.6,16.1 10.9,15.9 11.2,15.6 11.5,15.4 11.9,15.1 12.1,15.0 12.4,14.9 12.9,14.7 13.1,14.6 13.6,14.4 13.9,14.4 14.4,14.3 14.9,14.3 15.4,14.3 15.9,14.3 16.2,14.4 16.6,14.5 17.0,14.6 17.4,14.8 17.6,14.9 18.0,15.1 18.3,15.4 18.6,15.6 18.8,15.9 19.0,16.1 19.1,16.4 19.4,16.9 19.5,17.1 19.6,17.6 19.6,18.1 19.5,18.6 19.4,19.1 19.3,19.4 19.1,19.8 19.0,20.1 18.8,20.4 18.6,20.6 18.4,20.9 18.1,21.1 17.8,21.4 17.5,21.6 17.2,21.9 16.9,22.1 16.6,22.2 16.3,22.4 15.9,22.6 15.6,22.7 15.1,22.9 14.9,22.9Z" fill="#c6dbf4" fill-rule="evenodd" stroke="#5c8ad0" stroke-width="0.55" opacity="1.0"/>
<path d="M15.4,21.7 14.9,21.8 14.4,21.9 13.9,21.9 13.4,21.8 12.9,21.7 12.6,21.6 12.1,21.4 11.9,21.2 11.6,21.1 11.4,20.8 11.1,20.6 10.9,20.2 10.7,19.9 10.6,19.6 10.5,19.1 10.5,18.6 10.6,18.1 10.7,17.9 10.9,17.4 11.0,17.1 11.2,16.9 11.4,16.6 11.7,16.4 12.0,16.1 12.4,15.9 12.6,15.7 12.9,15.6 13.4,15.4 13.6,15.3 14.1,15.2 14.6,15.2 15.1,15.2 15.6,15.2 16.1,15.3 16.4,15.4 16.9,15.6 17.1,15.8 17.4,15.9 17.6,16.2 17.9,16.4 18.1,16.8 18.3,17.1 18.4,17.4 18.5,17.9 18.5,18.4 18.4,18.9 18.3,19.1 18.1,19.6 18.0,19.9 17.8,20.1 17.6,20.4 17.3,20.6 17.0,20.9 16.6,21.1 16.4,21.3 16.1,21.4 15.6,21.6 15.4,21.7Z" fill="#b4cff0" fill-rule="evenodd" stroke="#3a6cbc" stroke-width="0.7" opacity="1.0"/>
<path d="M14.6,20.6 14.1,20.7 13.7,20.6 13.4,20.5 13.0,20.4 12.6,20.2 12.4,19.9 12.1,19.6 12.0,19.4 11.9,18.9 11.9,18.4 12.1,17.9 12.3,17.6 12.4,17.4 12.7,17.1 13.0,16.9 13.4,16.7 13.6,16.6 14.1,16.4 14.4,16.4 14.9,16.3 15.3,16.4 15.6,16.5 16.0,16.6 16.4,16.8 16.6,17.1 16.9,17.4 17.0,17.6 17.1,18.1 17.1,18.6 16.9,19.1 16.7,19.4 16.6,19.6 16.3,19.9 16.0,20.1 15.6,20.3 15.4,20.4 14.9,20.6 14.6,20.6Z" fill="#a6c5ec" fill-rule="evenodd" stroke="#22539e" stroke-width="0.85" opacity="1.0"/>
</g>
<rect x="355.5" y="371" width="37" height="36" fill="none" stroke="#a0a0a0" stroke-width="1.2"/>
<line x1="373.5" y1="371" x2="373.5" y2="407" stroke="#d09696" stroke-width="0.8"/>
<line x1="355.5" y1="393.3" x2="392.5" y2="393.3" stroke="#d09696" stroke-width="0.8"/>
<text x="361.3" y="378.6" font-size="7.3" text-anchor="middle" style="font-family:'Liberation Serif',serif;font-weight:bold" fill="#000" stroke="#000" stroke-width="0.18">77</text>
<text x="389.5" y="378.6" font-size="7.3" text-anchor="end" style="font-family:'Liberation Serif',serif;font-weight:bold" fill="#000" stroke="#000" stroke-width="0.18">5</text>
<text x="389.5" y="405.2" font-size="7.3" text-anchor="end" style="font-family:'Liberation Serif',serif;font-weight:bold" fill="#000" stroke="#000" stroke-width="0.18">8</text>
<clipPath id="k32"><rect x="0" y="0" width="37" height="36"/></clipPath>
<g transform="translate(396.5,371)" clip-path="url(#k32)">
<path d="M14.6,22.4 14.1,22.5 13.6,22.5 13.1,22.4 12.9,22.3 12.4,22.2 12.1,22.1 11.7,21.9 11.4,21.6 11.1,21.5 10.9,21.2 10.6,21.0 10.4,20.6 10.2,20.4 10.0,20.1 9.9,19.8 9.7,19.4 9.6,19.0 9.5,18.6 9.5,18.1 9.5,17.6 9.5,17.1 9.6,16.6 9.7,16.4 9.9,15.9 10.0,15.6 10.1,15.3 10.4,15.0 10.6,14.6 10.9,14.4 11.1,14.1 11.4,13.9 11.6,13.7 11.9,13.6 12.3,13.4 12.6,13.2 13.0,13.1 13.4,13.0 13.9,13.0 14.4,13.0 14.9,13.0 15.3,13.1 15.6,13.2 16.0,13.4 16.4,13.5 16.6,13.7 16.9,13.9 17.2,14.1 17.5,14.4 17.7,14.6 17.9,14.9 18.1,15.3 18.3,15.6 18.4,15.9 18.6,16.4 18.7,16.6 18.7,17.1 18.8,17.6 18.7,18.1 18.6,18.6 18.6,18.9 18.4,19.4 18.3,19.6 18.1,20.0 17.9,20.4 17.7,20.6 17.5,20.9 17.2,21.1 16.9,21.4 16.6,21.6 16.4,21.8 16.1,21.9 15.6,22.1 15.4,22.2 14.9,22.4 14.6,22.4Z" fill="#dde9f8" fill-rule="evenodd" stroke="#8cb0e0" stroke-width="0.45" opacity="1.0"/>
<path d="M14.9,21.4 14.4,21.5 13.9,21.5 13.4,21.4 13.1,21.4 12.6,21.2 12.4,21.1 12.0,20.9 11.7,20.6 11.4,20.4 11.2,20.1 11.0,19.9 10.8,19.6 10.6,19.2 10.5,18.9 10.4,18.4 10.3,18.1 10.3,17.6 10.3,17.1 10.4,16.9 10.5,16.4 10.6,16.1 10.8,15.6 11.0,15.4 11.2,15.1 11.4,14.9 11.7,14.6 12.0,14.4 12.4,14.2 12.6,14.0 13.1,13.9 13.4,13.8 13.9,13.7 14.4,13.7 14.9,13.8 15.3,13.9 15.6,14.0 15.9,14.1 16.3,14.4 16.6,14.6 16.9,14.8 17.1,15.1 17.3,15.4 17.5,15.6 17.6,15.9 17.8,16.4 17.9,16.6 18.0,17.1 18.0,17.6 18.0,18.1 17.9,18.6 17.8,18.9 17.6,19.3 17.4,19.6 17.3,19.9 17.1,20.1 16.8,20.4 16.5,20.6 16.2,20.9 15.9,21.1 15.6,21.2 15.1,21.4 14.9,21.4Z" fill="#c6dbf4" fill-rule="evenodd" stroke="#5c8ad0" stroke-width="0.55" opacity="1.0"/>
<path d="M14.9,20.7 14.4,20.7 13.9,20.7 13.4,20.7 13.1,20.6 12.6,20.4 12.4,20.2 12.1,20.0 11.9,19.8 11.6,19.5 11.4,19.1 11.3,18.9 11.1,18.4 11.1,18.1 11.0,17.6 11.1,17.1 11.1,16.8 11.3,16.4 11.4,16.1 11.6,15.7 11.9,15.4 12.1,15.2 12.4,15.0 12.6,14.8 13.1,14.6 13.4,14.5 13.9,14.5 14.4,14.4 14.9,14.5 15.2,14.6 15.6,14.8 15.9,14.9 16.1,15.1 16.4,15.4 16.6,15.6 16.9,16.0 17.1,16.4 17.2,16.6 17.3,17.1 17.3,17.6 17.2,18.1 17.1,18.6 17.0,18.9 16.9,19.1 16.6,19.5 16.4,19.8 16.1,20.0 15.9,20.2 15.6,20.4 15.1,20.6 14.9,20.7Z" fill="#b4cff0" fill-rule="evenodd" stroke="#3a6cbc" stroke-width="0.7" opacity="1.0"/>
<path d="M14.9,19.9 14.4,20.0 13.9,20.0 13.4,19.9 13.1,19.8 12.8,19.6 12.5,19.4 12.3,19.1 12.1,18.9 11.9,18.4 11.8,18.1 11.8,17.6 11.8,17.1 11.9,16.9 12.1,16.4 12.3,16.1 12.5,15.9 12.8,15.6 13.1,15.4 13.4,15.3 13.9,15.2 14.4,15.2 14.9,15.3 15.1,15.4 15.5,15.6 15.8,15.9 16.0,16.1 16.2,16.4 16.4,16.7 16.5,17.1 16.5,17.6 16.5,18.1 16.4,18.5 16.2,18.9 16.0,19.1 15.8,19.4 15.4,19.6 15.1,19.8 14.9,19.9Z" fill="#a6c5ec" fill-rule="evenodd" stroke="#22539e" stroke-width="0.85" opacity="1.0"/>
</g>
<rect x="396.5" y="371" width="37" height="36" fill="none" stroke="#a0a0a0" stroke-width="1.2"/>
<line x1="414.7" y1="371" x2="414.7" y2="407" stroke="#d09696" stroke-width="0.8"/>
<line x1="396.5" y1="393.3" x2="433.5" y2="393.3" stroke="#d09696" stroke-width="0.8"/>
<text x="402.3" y="378.6" font-size="7.3" text-anchor="middle" style="font-family:'Liberation Serif',serif;font-weight:bold" fill="#000" stroke="#000" stroke-width="0.18">93</text>
<text x="430.5" y="378.6" font-size="7.3" text-anchor="end" style="font-family:'Liberation Serif',serif;font-weight:bold" fill="#000" stroke="#000" stroke-width="0.18">3</text>
<text x="430.5" y="405.2" font-size="7.3" text-anchor="end" style="font-family:'Liberation Serif',serif;font-weight:bold" fill="#000" stroke="#000" stroke-width="0.18">0</text>
<line x1="261.8" y1="337.3" x2="261.8" y2="391.5" stroke="#000" stroke-width="0.9"/>
<path d="M261.8,332.3 L259.8,337.8 L263.8,337.8 Z" fill="#000"/>
<text x="264" y="401.8" font-size="8.3" text-anchor="middle" style="font-family:'Liberation Serif',serif;font-weight:bold" fill="#000" stroke="#000" stroke-width="0.18" transform="rotate(-90 264 401.8)">HA</text>
<text x="274.5" y="421.5" font-size="8.3" text-anchor="start" style="font-family:'Liberation Serif',serif;font-weight:bold" fill="#000" stroke="#000" stroke-width="0.18">CD14</text>
<line x1="297.5" y1="418.8" x2="426.0" y2="418.8" stroke="#000" stroke-width="0.9"/>
<path d="M430.5,418.8 L425.5,416.8 L425.5,420.8 Z" fill="#000"/>
<text x="445.8" y="352.2" font-size="8.8" text-anchor="middle" style="font-family:'Liberation Serif',serif;font-weight:bold" fill="#000" stroke="#000" stroke-width="0.18" transform="rotate(-90 445.8 352.2)">6 h</text>
<text x="445.8" y="386.8" font-size="8.8" text-anchor="middle" style="font-family:'Liberation Serif',serif;font-weight:bold" fill="#000" stroke="#000" stroke-width="0.18" transform="rotate(-90 445.8 386.8)">18 h</text>
<rect x="457" y="153.5" width="60.5" height="32.3" fill="#fff" stroke="#111" stroke-width="1"/>
<rect x="461" y="157" width="6" height="5.7" fill="#4f81bd" stroke="none" stroke-width="1"/>
<circle cx="464.2" cy="170" r="3.2" fill="#c0504d"/>
<path d="M464.2,176.8 L467.8,183 L460.6,183 Z" fill="#9bbb59"/>
<text x="475.8" y="162.5" font-size="8.1" text-anchor="start" style="font-family:'Liberation Serif',serif;font-weight:bold" fill="#000" stroke="#000" stroke-width="0.18">Monocytes</text>
<text x="475.8" y="173" font-size="8.1" text-anchor="start" style="font-family:'Liberation Serif',serif;font-weight:bold" fill="#000" stroke="#000" stroke-width="0.18">cDCs</text>
<text x="475.8" y="183" font-size="8.1" text-anchor="start" style="font-family:'Liberation Serif',serif;font-weight:bold" fill="#000" stroke="#000" stroke-width="0.18">pDCs</text>
<rect x="431.5" y="190.4" width="85.79999999999995" height="78.20000000000002" fill="none" stroke="#111" stroke-width="1.0"/>
<line x1="429.0" y1="268.6" x2="431.5" y2="268.6" stroke="#000" stroke-width="0.9"/>
<text x="427" y="271.40000000000003" font-size="8" text-anchor="end" style="font-family:'Liberation Serif',serif;font-weight:bold" fill="#000" stroke="#000" stroke-width="0.18">0</text>
<line x1="429.0" y1="252.96000000000004" x2="431.5" y2="252.96000000000004" stroke="#000" stroke-width="0.9"/>
<text x="427" y="255.76000000000005" font-size="8" text-anchor="end" style="font-family:'Liberation Serif',serif;font-weight:bold" fill="#000" stroke="#000" stroke-width="0.18">1</text>
<line x1="429.0" y1="237.32000000000002" x2="431.5" y2="237.32000000000002" stroke="#000" stroke-width="0.9"/>
<text x="427" y="240.12000000000003" font-size="8" text-anchor="end" style="font-family:'Liberation Serif',serif;font-weight:bold" fill="#000" stroke="#000" stroke-width="0.18">2</text>
<line x1="429.0" y1="221.68" x2="431.5" y2="221.68" stroke="#000" stroke-width="0.9"/>
<text x="427" y="224.48000000000002" font-size="8" text-anchor="end" style="font-family:'Liberation Serif',serif;font-weight:bold" fill="#000" stroke="#000" stroke-width="0.18">3</text>
<line x1="429.0" y1="206.04000000000002" x2="431.5" y2="206.04000000000002" stroke="#000" stroke-width="0.9"/>
<text x="427" y="208.84000000000003" font-size="8" text-anchor="end" style="font-family:'Liberation Serif',serif;font-weight:bold" fill="#000" stroke="#000" stroke-width="0.18">4</text>
<line x1="429.0" y1="190.40000000000003" x2="431.5" y2="190.40000000000003" stroke="#000" stroke-width="0.9"/>
<text x="427" y="193.20000000000005" font-size="8" text-anchor="end" style="font-family:'Liberation Serif',serif;font-weight:bold" fill="#000" stroke="#000" stroke-width="0.18">5</text>
<line x1="431.5" y1="268.6" x2="431.5" y2="270.6" stroke="#000" stroke-width="0.9"/>
<line x1="452.9" y1="268.6" x2="452.9" y2="270.6" stroke="#000" stroke-width="0.9"/>
<line x1="474.3" y1="268.6" x2="474.3" y2="270.6" stroke="#000" stroke-width="0.9"/>
<line x1="495.7" y1="268.6" x2="495.7" y2="270.6" stroke="#000" stroke-width="0.9"/>
<line x1="517.1" y1="268.6" x2="517.1" y2="270.6" stroke="#000" stroke-width="0.9"/>
<text x="441.8" y="278.5" font-size="8" text-anchor="middle" style="font-family:'Liberation Serif',serif;font-weight:bold" fill="#000" stroke="#000" stroke-width="0.18">0</text>
<text x="463.3" y="278.5" font-size="8" text-anchor="middle" style="font-family:'Liberation Serif',serif;font-weight:bold" fill="#000" stroke="#000" stroke-width="0.18">0.1</text>
<text x="485" y="278.5" font-size="8" text-anchor="middle" style="font-family:'Liberation Serif',serif;font-weight:bold" fill="#000" stroke="#000" stroke-width="0.18">1</text>
<text x="506.0" y="278.5" font-size="8" text-anchor="middle" style="font-family:'Liberation Serif',serif;font-weight:bold" fill="#000" stroke="#000" stroke-width="0.18">10</text>
<text x="474" y="289" font-size="8.3" text-anchor="middle" style="font-family:'Liberation Serif',serif;font-weight:bold" fill="#000" stroke="#000" stroke-width="0.18">MOI</text>
<text x="417.8" y="228.5" font-size="8.3" text-anchor="middle" style="font-family:'Liberation Serif',serif;font-weight:bold" fill="#000" stroke="#000" stroke-width="0.18" transform="rotate(-90 417.8 228.5)">Log cell number</text>
<polyline points="441.8,204.5 463.3,237.3 485.0,253.0 506.0,261.6" fill="none" stroke="#4f81bd" stroke-width="0.9"/>
<polyline points="441.8,235.8 463.3,234.2 485.0,222.9 506.0,217.8" fill="none" stroke="#c0504d" stroke-width="0.9"/>
<polyline points="441.8,238.9 463.3,249.1 485.0,249.1 506.0,253.0" fill="none" stroke="#c8d080" stroke-width="0.9"/>
<rect x="439.6" y="202.27600000000004" width="4.4" height="4.4" fill="#4f81bd" stroke="none" stroke-width="1"/>
<rect x="461.1" y="235.12000000000003" width="4.4" height="4.4" fill="#4f81bd" stroke="none" stroke-width="1"/>
<rect x="482.8" y="250.76000000000005" width="4.4" height="4.4" fill="#4f81bd" stroke="none" stroke-width="1"/>
<rect x="503.8" y="259.362" width="4.4" height="4.4" fill="#4f81bd" stroke="none" stroke-width="1"/>
<circle cx="441.8" cy="235.8" r="2.4" fill="#c0504d"/>
<circle cx="463.3" cy="234.2" r="2.4" fill="#c0504d"/>
<circle cx="485" cy="222.9" r="2.4" fill="#c0504d"/>
<circle cx="506.0" cy="217.8" r="2.4" fill="#c0504d"/>
<path d="M441.8,236.5 L444.2,240.7 L439.40000000000003,240.7 Z" fill="#9bbb59"/>
<path d="M463.3,246.7 L465.7,250.9 L460.90000000000003,250.9 Z" fill="#9bbb59"/>
<path d="M485,246.7 L487.4,250.9 L482.6,250.9 Z" fill="#9bbb59"/>
<path d="M506.0,250.6 L508.4,254.8 L503.6,254.8 Z" fill="#9bbb59"/>
</svg>
</body></html>
